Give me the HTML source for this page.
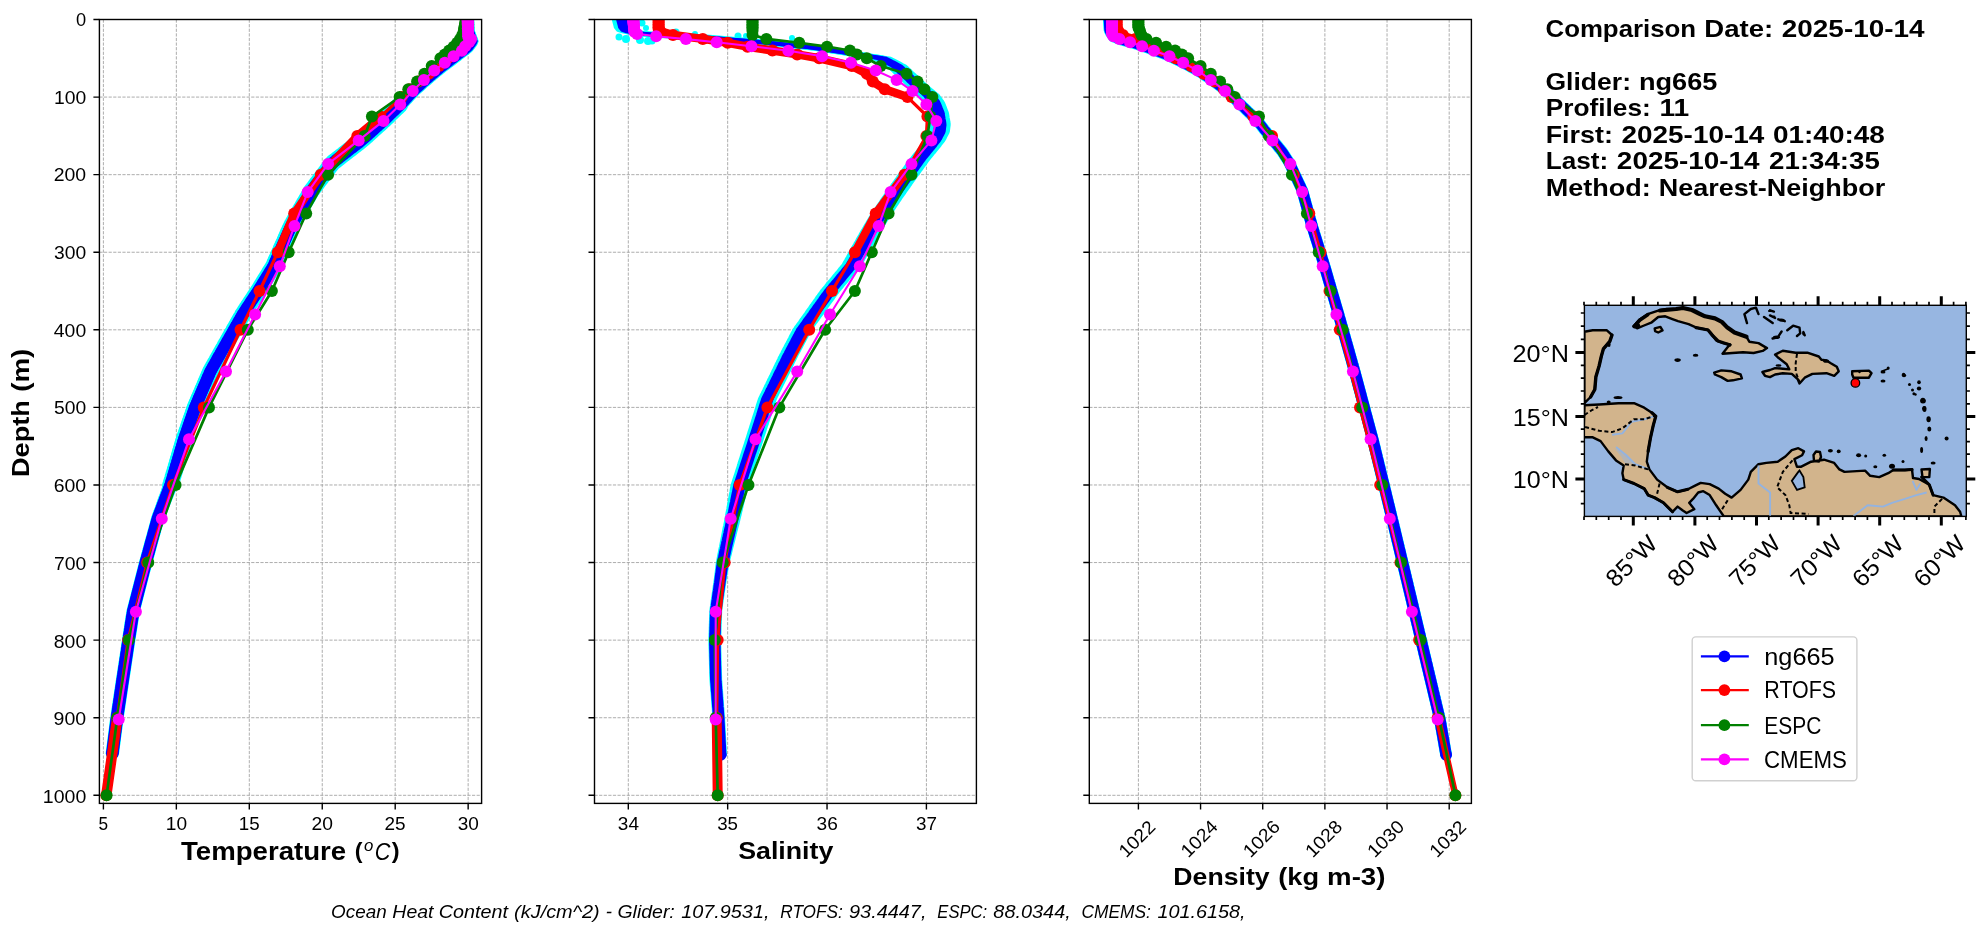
<!DOCTYPE html><html><head><meta charset="utf-8"><title>Glider comparison</title><style>html,body{margin:0;padding:0;background:#fff;overflow:hidden}svg{display:block;will-change:transform}</style></head><body>
<svg width="1983" height="934" viewBox="0 0 1983 934" font-family="'Liberation Sans', sans-serif" fill="#000">
<rect width="1983" height="934" fill="#fff"/>
<defs>
<clipPath id="c0"><rect x="99.4" y="19.5" width="382.2" height="783.9"/></clipPath>
<clipPath id="c1"><rect x="594.5" y="19.5" width="381.9" height="783.9"/></clipPath>
<clipPath id="c2"><rect x="1089.3" y="19.5" width="382.1" height="783.9"/></clipPath>
</defs>
<path d="M99.4 19.50H481.6 M99.4 97.08H481.6 M99.4 174.66H481.6 M99.4 252.24H481.6 M99.4 329.82H481.6 M99.4 407.40H481.6 M99.4 484.98H481.6 M99.4 562.56H481.6 M99.4 640.14H481.6 M99.4 717.72H481.6 M99.4 795.30H481.6 M103.40 19.5V803.4 M176.35 19.5V803.4 M249.30 19.5V803.4 M322.25 19.5V803.4 M395.20 19.5V803.4 M468.15 19.5V803.4" stroke="#a0a0a0" stroke-width="0.87" stroke-dasharray="3.2 1.4" fill="none"/>
<g clip-path="url(#c0)" stroke-linejoin="round" stroke-linecap="round" fill="none">
<path d="M461.6 19.5 L461.7 21.1 L461.8 22.6 L461.9 24.2 L461.9 25.7 L462.0 27.3 L462.1 28.8 L462.2 30.4 L462.5 31.9 L463.0 33.5 L463.6 35.0 L464.1 36.6 L464.7 38.1 L465.3 39.7 L465.9 41.2 L464.7 42.8 L463.6 44.3 L462.5 45.9 L460.9 47.4 L458.9 49.0 L456.8 50.5 L454.8 52.1 L452.7 53.6 L450.7 55.2 L448.6 56.7 L446.6 58.3 L444.6 59.8 L442.5 61.4 L440.5 62.9 L438.4 64.5 L436.4 66.0 L434.3 67.6 L432.3 69.2 L430.4 70.7 L428.5 72.3 L426.7 73.8 L424.9 75.4 L423.1 76.9 L421.3 78.5 L419.5 80.0 L417.7 81.6 L416.0 83.1 L414.3 84.7 L412.6 86.2 L410.8 87.8 L409.1 89.3 L407.5 90.9 L406.1 92.4 L404.6 94.0 L403.2 95.5 L401.7 97.1 L400.2 98.6 L398.7 100.2 L397.1 101.7 L395.6 103.3 L393.9 104.8 L392.2 106.4 L390.5 107.9 L388.8 109.5 L387.1 111.0 L385.4 112.6 L383.7 114.1 L382.0 115.7 L380.3 117.3 L378.6 118.8 L376.8 120.4 L375.1 121.9 L373.4 123.5 L371.7 125.0 L370.0 126.6 L368.3 128.1 L366.5 129.7 L364.8 131.2 L363.1 132.8 L361.4 134.3 L359.7 135.9 L357.9 137.4 L356.2 139.0 L354.4 140.5 L352.4 142.1 L350.4 143.6 L348.4 145.2 L346.4 146.7 L344.4 148.3 L342.4 149.8 L340.4 151.4 L338.4 152.9 L336.4 154.5 L334.4 156.0 L332.4 157.6 L330.4 159.1 L328.5 160.7 L326.5 162.2 L324.9 163.8 L323.7 165.4 L322.5 166.9 L321.3 168.5 L320.2 170.0 L319.0 171.6 L317.8 173.1 L316.6 174.7 L315.5 176.2 L314.3 177.8 L313.1 179.3 L311.9 180.9 L310.8 182.4 L309.6 184.0 L308.4 185.5 L307.2 187.1 L306.1 188.6 L304.9 190.2 L303.9 191.7 L303.0 193.3 L302.1 194.8 L301.2 196.4 L300.3 197.9 L299.4 199.5 L298.5 201.0 L297.6 202.6 L296.7 204.1 L295.8 205.7 L294.9 207.2 L294.0 208.8 L293.1 210.3 L292.2 211.9 L291.3 213.5 L290.4 215.0 L289.5 216.6 L288.6 218.1 L287.7 219.7 L286.8 221.2 L286.0 222.8 L285.1 224.3 L284.3 225.9 L283.6 227.4 L282.9 229.0 L282.2 230.5 L281.5 232.1 L280.8 233.6 L280.1 235.2 L279.4 236.7 L278.8 238.3 L278.1 239.8 L277.4 241.4 L276.7 242.9 L276.0 244.5 L275.3 246.0 L274.6 247.6 L273.9 249.1 L273.3 250.7 L272.6 252.2 L271.9 253.8 L271.2 255.3 L270.5 256.9 L269.8 258.4 L269.1 260.0 L268.4 261.5 L267.7 263.1 L267.1 264.7 L266.4 266.2 L265.4 267.8 L264.5 269.3 L263.5 270.9 L262.5 272.4 L261.6 274.0 L260.6 275.5 L259.7 277.1 L258.7 278.6 L257.8 280.2 L256.8 281.7 L255.8 283.3 L254.9 284.8 L253.9 286.4 L253.0 287.9 L252.0 289.5 L251.1 291.0 L250.0 292.6 L249.0 294.1 L248.0 295.7 L247.0 297.2 L245.9 298.8 L244.9 300.3 L243.9 301.9 L242.9 303.4 L241.9 305.0 L240.8 306.5 L239.8 308.1 L238.8 309.6 L237.8 311.2 L236.8 312.8 L235.7 314.3 L234.9 315.9 L234.0 317.4 L233.1 319.0 L232.2 320.5 L231.3 322.1 L230.5 323.6 L229.6 325.2 L228.7 326.7 L227.8 328.3 L226.9 329.8 L226.1 331.4 L225.2 332.9 L224.3 334.5 L223.4 336.0 L222.5 337.6 L221.7 339.1 L220.8 340.7 L219.9 342.2 L219.0 343.8 L218.1 345.3 L217.3 346.9 L216.4 348.4 L215.5 350.0 L214.6 351.5 L213.7 353.1 L212.9 354.6 L212.0 356.2 L211.1 357.7 L210.2 359.3 L209.4 360.9 L208.5 362.4 L207.6 364.0 L206.7 365.5 L205.8 367.1 L205.0 368.6 L204.1 370.2 L203.3 371.7 L202.6 373.3 L202.0 374.8 L201.3 376.4 L200.6 377.9 L200.0 379.5 L199.3 381.0 L198.7 382.6 L198.0 384.1 L197.3 385.7 L196.7 387.2 L196.0 388.8 L195.3 390.3 L194.7 391.9 L194.0 393.4 L193.3 395.0 L192.7 396.5 L192.0 398.1 L191.3 399.6 L190.7 401.2 L190.0 402.7 L189.4 404.3 L188.7 405.8 L188.0 407.4 L187.5 409.0 L187.0 410.5 L186.4 412.1 L185.9 413.6 L185.4 415.2 L184.8 416.7 L184.3 418.3 L183.8 419.8 L183.2 421.4 L182.7 422.9 L182.2 424.5 L181.6 426.0 L181.1 427.6 L180.6 429.1 L180.0 430.7 L179.5 432.2 L179.0 433.8 L178.4 435.3 L177.9 436.9 L177.3 438.4 L176.9 440.0 L176.4 441.5 L175.9 443.1 L175.5 444.6 L175.0 446.2 L174.6 447.7 L174.2 449.3 L173.7 450.8 L173.3 452.4 L172.9 453.9 L172.5 455.5 L172.0 457.1 L171.6 458.6 L171.2 460.2 L170.8 461.7 L170.3 463.3 L169.9 464.8 L169.5 466.4 L169.1 467.9 L168.6 469.5 L168.2 471.0 L167.8 472.6 L167.4 474.1 L166.9 475.7 L166.5 477.2 L166.1 478.8 L165.7 480.3 L165.2 481.9 L164.8 483.4 L164.4 485.0 L163.8 486.5 L163.3 488.1 L162.7 489.6 L162.2 491.2 L161.6 492.7 L161.1 494.3 L160.5 495.8 L159.9 497.4 L159.4 498.9 L158.8 500.5 L158.3 502.0 L157.7 503.6 L157.2 505.2 L156.6 506.7 L156.1 508.3 L155.5 509.8 L154.9 511.4 L154.4 512.9 L153.8 514.5 L153.3 516.0 L152.7 517.6 L152.3 519.1 L151.9 520.7 L151.5 522.2 L151.2 523.8 L150.7 525.3 L150.3 526.9 L149.9 528.4 L149.4 530.0 L149.0 531.5 L148.6 533.1 L148.2 534.6 L147.7 536.2 L147.3 537.7 L146.9 539.3 L146.4 540.8 L146.0 542.4 L145.6 543.9 L145.2 545.5 L144.7 547.0 L144.3 548.6 L143.9 550.1 L143.5 551.7 L143.0 553.3 L142.6 554.8 L142.2 556.4 L141.7 557.9 L141.3 559.5 L140.9 561.0 L140.5 562.6 L140.1 564.1 L139.7 565.7 L139.3 567.2 L138.9 568.8 L138.5 570.3 L138.1 571.9 L137.7 573.4 L137.3 575.0 L136.9 576.5 L136.5 578.1 L136.1 579.6 L135.7 581.2 L135.3 582.7 L134.9 584.3 L134.5 585.8 L134.1 587.4 L133.7 588.9 L133.3 590.5 L132.9 592.0 L132.5 593.6 L132.1 595.1 L131.7 596.7 L131.3 598.2 L130.9 599.8 L130.5 601.4 L130.1 602.9 L129.7 604.5 L129.3 606.0 L128.9 607.6 L128.5 609.1 L128.1 610.7 L127.8 612.2 L127.6 613.8 L127.3 615.3 L127.1 616.9 L126.8 618.4 L126.6 620.0 L126.3 621.5 L126.1 623.1 L125.8 624.6 L125.6 626.2 L125.4 627.7 L125.1 629.3 L124.9 630.8 L124.6 632.4 L124.4 633.9 L124.1 635.5 L123.9 637.0 L123.6 638.6 L123.4 640.1 L123.2 641.7 L122.9 643.2 L122.7 644.8 L122.5 646.3 L122.2 647.9 L122.0 649.4 L121.8 651.0 L121.5 652.6 L121.3 654.1 L121.1 655.7 L120.8 657.2 L120.6 658.8 L120.4 660.3 L120.1 661.9 L119.9 663.4 L119.7 665.0 L119.4 666.5 L119.2 668.1 L119.0 669.6 L118.7 671.2 L118.5 672.7 L118.3 674.3 L118.0 675.8 L117.8 677.4 L117.6 678.9 L117.3 680.5 L117.1 682.0 L116.9 683.6 L116.6 685.1 L116.4 686.7 L116.2 688.2 L115.9 689.8 L115.7 691.3 L115.5 692.9 L115.2 694.4 L115.0 696.0 L114.8 697.5 L114.5 699.1 L114.3 700.7 L114.1 702.2 L113.8 703.8 L113.6 705.3 L113.4 706.9 L113.1 708.4 L112.9 710.0 L112.7 711.5 L112.4 713.1 L112.2 714.6 L112.0 716.2 L111.7 717.7 L111.5 719.3 L111.3 720.8 L111.1 722.4 L110.9 723.9 L110.7 725.5 L110.5 727.0 L110.3 728.6 L110.1 730.1 L109.9 731.7 L109.7 733.2 L109.5 734.8 L109.3 736.3 L109.1 737.9 L108.9 739.4 L108.7 741.0 L108.5 742.5 L108.3 744.1 L108.1 745.6 L107.9 747.2 L107.7 748.8 L107.5 750.3 L107.3 751.9 L107.1 753.4 L117.6 753.4 L117.8 751.9 L118.0 750.3 L118.2 748.8 L118.4 747.2 L118.6 745.6 L118.8 744.1 L119.0 742.5 L119.2 741.0 L119.4 739.4 L119.6 737.9 L119.8 736.3 L120.0 734.8 L120.2 733.2 L120.4 731.7 L120.6 730.1 L120.8 728.6 L121.0 727.0 L121.2 725.5 L121.4 723.9 L121.6 722.4 L121.8 720.8 L122.0 719.3 L122.2 717.7 L122.5 716.2 L122.7 714.6 L122.9 713.1 L123.2 711.5 L123.4 710.0 L123.6 708.4 L123.9 706.9 L124.1 705.3 L124.3 703.8 L124.6 702.2 L124.8 700.7 L125.0 699.1 L125.3 697.5 L125.5 696.0 L125.7 694.4 L126.0 692.9 L126.2 691.3 L126.4 689.8 L126.7 688.2 L126.9 686.7 L127.1 685.1 L127.4 683.6 L127.6 682.0 L127.8 680.5 L128.1 678.9 L128.3 677.4 L128.5 675.8 L128.8 674.3 L129.0 672.7 L129.2 671.2 L129.5 669.6 L129.7 668.1 L129.9 666.5 L130.2 665.0 L130.4 663.4 L130.6 661.9 L130.9 660.3 L131.1 658.8 L131.3 657.2 L131.6 655.7 L131.8 654.1 L132.0 652.6 L132.3 651.0 L132.5 649.4 L132.7 647.9 L133.0 646.3 L133.2 644.8 L133.4 643.2 L133.7 641.7 L133.9 640.1 L134.1 638.6 L134.4 637.0 L134.6 635.5 L134.9 633.9 L135.1 632.4 L135.4 630.8 L135.6 629.3 L135.9 627.7 L136.1 626.2 L136.3 624.6 L136.6 623.1 L136.8 621.5 L137.1 620.0 L137.3 618.4 L137.6 616.9 L137.8 615.3 L138.1 613.8 L138.3 612.2 L138.6 610.7 L139.0 609.1 L139.4 607.6 L139.8 606.0 L140.2 604.5 L140.6 602.9 L141.0 601.4 L141.4 599.8 L141.8 598.2 L142.2 596.7 L142.6 595.1 L143.0 593.6 L143.4 592.0 L143.8 590.5 L144.2 588.9 L144.6 587.4 L145.0 585.8 L145.4 584.3 L145.8 582.7 L146.2 581.2 L146.6 579.6 L147.0 578.1 L147.4 576.5 L147.8 575.0 L148.2 573.4 L148.6 571.9 L149.0 570.3 L149.4 568.8 L149.8 567.2 L150.2 565.7 L150.6 564.1 L151.0 562.6 L151.4 561.0 L151.8 559.5 L152.2 557.9 L152.7 556.4 L153.1 554.8 L153.5 553.3 L154.0 551.7 L154.4 550.1 L154.8 548.6 L155.2 547.0 L155.7 545.5 L156.1 543.9 L156.5 542.4 L156.9 540.8 L157.4 539.3 L157.8 537.7 L158.2 536.2 L158.7 534.6 L159.1 533.1 L159.5 531.5 L159.9 530.0 L160.4 528.4 L160.8 526.9 L161.2 525.3 L161.7 523.8 L162.1 522.2 L162.6 520.7 L163.0 519.1 L163.5 517.6 L164.1 516.0 L164.8 514.5 L165.4 512.9 L166.0 511.4 L166.6 509.8 L167.3 508.3 L167.9 506.7 L168.5 505.2 L169.1 503.6 L169.8 502.0 L170.4 500.5 L171.0 498.9 L171.6 497.4 L172.3 495.8 L172.9 494.3 L173.5 492.7 L174.1 491.2 L174.8 489.6 L175.4 488.1 L176.0 486.5 L176.6 485.0 L177.1 483.4 L177.6 481.9 L178.1 480.3 L178.6 478.8 L179.1 477.2 L179.6 475.7 L180.1 474.1 L180.6 472.6 L181.1 471.0 L181.6 469.5 L182.1 467.9 L182.6 466.4 L183.1 464.8 L183.6 463.3 L184.1 461.7 L184.6 460.2 L185.1 458.6 L185.5 457.1 L186.0 455.5 L186.5 453.9 L187.0 452.4 L187.5 450.8 L188.0 449.3 L188.5 447.7 L189.0 446.2 L189.5 444.6 L189.9 443.1 L190.4 441.5 L190.9 440.0 L191.3 438.4 L191.9 436.9 L192.4 435.3 L193.0 433.8 L193.5 432.2 L194.0 430.7 L194.6 429.1 L195.1 427.6 L195.6 426.0 L196.2 424.5 L196.7 422.9 L197.2 421.4 L197.8 419.8 L198.3 418.3 L198.8 416.7 L199.4 415.2 L199.9 413.6 L200.4 412.1 L201.0 410.5 L201.5 409.0 L202.0 407.4 L202.7 405.8 L203.4 404.3 L204.0 402.7 L204.7 401.2 L205.3 399.6 L206.0 398.1 L206.7 396.5 L207.3 395.0 L208.0 393.4 L208.7 391.9 L209.3 390.3 L210.0 388.8 L210.7 387.2 L211.3 385.7 L212.0 384.1 L212.7 382.6 L213.3 381.0 L214.0 379.5 L214.6 377.9 L215.3 376.4 L216.0 374.8 L216.6 373.3 L217.3 371.7 L218.1 370.2 L219.0 368.6 L219.8 367.1 L220.7 365.5 L221.6 364.0 L222.5 362.4 L223.4 360.9 L224.2 359.3 L225.1 357.7 L226.0 356.2 L226.9 354.6 L227.7 353.1 L228.6 351.5 L229.5 350.0 L230.4 348.4 L231.3 346.9 L232.1 345.3 L233.0 343.8 L233.9 342.2 L234.8 340.7 L235.7 339.1 L236.5 337.6 L237.4 336.0 L238.3 334.5 L239.2 332.9 L240.1 331.4 L240.9 329.8 L241.8 328.3 L242.7 326.7 L243.6 325.2 L244.5 323.6 L245.3 322.1 L246.2 320.5 L247.1 319.0 L248.0 317.4 L248.9 315.9 L249.7 314.3 L250.8 312.8 L251.8 311.2 L252.8 309.6 L253.8 308.1 L254.8 306.5 L255.9 305.0 L256.9 303.4 L257.9 301.9 L258.9 300.3 L259.9 298.8 L261.0 297.2 L262.0 295.7 L263.0 294.1 L264.0 292.6 L265.1 291.0 L266.0 289.5 L267.0 287.9 L267.9 286.4 L268.9 284.8 L269.8 283.3 L270.8 281.7 L271.8 280.2 L272.7 278.6 L273.7 277.1 L274.6 275.5 L275.6 274.0 L276.5 272.4 L277.5 270.9 L278.5 269.3 L279.4 267.8 L280.4 266.2 L281.1 264.7 L281.7 263.1 L282.4 261.5 L283.1 260.0 L283.8 258.4 L284.5 256.9 L285.2 255.3 L285.9 253.8 L286.6 252.2 L287.3 250.7 L287.9 249.1 L288.6 247.6 L289.3 246.0 L290.0 244.5 L290.7 242.9 L291.4 241.4 L292.1 239.8 L292.8 238.3 L293.4 236.7 L294.1 235.2 L294.8 233.6 L295.5 232.1 L296.2 230.5 L296.9 229.0 L297.6 227.4 L298.3 225.9 L299.1 224.3 L300.0 222.8 L300.8 221.2 L301.7 219.7 L302.6 218.1 L303.5 216.6 L304.4 215.0 L305.3 213.5 L306.2 211.9 L307.1 210.3 L308.0 208.8 L308.9 207.2 L309.8 205.7 L310.7 204.1 L311.6 202.6 L312.5 201.0 L313.4 199.5 L314.3 197.9 L315.2 196.4 L316.1 194.8 L317.0 193.3 L317.9 191.7 L318.9 190.2 L320.1 188.6 L321.2 187.1 L322.4 185.5 L323.6 184.0 L324.8 182.4 L325.9 180.9 L327.1 179.3 L328.3 177.8 L329.5 176.2 L330.6 174.7 L331.8 173.1 L333.0 171.6 L334.2 170.0 L335.3 168.5 L336.5 166.9 L337.7 165.4 L338.9 163.8 L340.5 162.2 L342.5 160.7 L344.4 159.1 L346.4 157.6 L348.4 156.0 L350.4 154.5 L352.4 152.9 L354.4 151.4 L356.4 149.8 L358.4 148.3 L360.4 146.7 L362.4 145.2 L364.4 143.6 L366.4 142.1 L368.4 140.5 L370.2 139.0 L371.9 137.4 L373.7 135.9 L375.4 134.3 L377.1 132.8 L378.8 131.2 L380.5 129.7 L382.3 128.1 L384.0 126.6 L385.7 125.0 L387.4 123.5 L389.1 121.9 L390.8 120.4 L392.4 118.8 L393.9 117.3 L395.4 115.7 L396.9 114.1 L398.4 112.6 L399.9 111.0 L401.4 109.5 L402.9 107.9 L404.4 106.4 L405.9 104.8 L407.4 103.3 L408.7 101.7 L410.1 100.2 L411.4 98.6 L412.7 97.1 L414.2 95.5 L415.6 94.0 L417.1 92.4 L418.5 90.9 L420.1 89.3 L421.8 87.8 L423.6 86.2 L425.3 84.7 L427.0 83.1 L428.7 81.6 L430.5 80.0 L432.3 78.5 L434.1 76.9 L435.9 75.4 L437.7 73.8 L439.5 72.3 L441.4 70.7 L443.3 69.2 L445.3 67.6 L447.4 66.0 L449.4 64.5 L451.5 62.9 L453.5 61.4 L455.6 59.8 L457.6 58.3 L459.6 56.7 L461.7 55.2 L463.7 53.6 L465.8 52.1 L467.8 50.5 L469.9 49.0 L471.9 47.4 L473.5 45.9 L474.6 44.3 L475.7 42.8 L476.9 41.2 L476.3 39.7 L475.7 38.1 L475.1 36.6 L474.6 35.0 L474.0 33.5 L473.5 31.9 L473.2 30.4 L473.1 28.8 L473.0 27.3 L472.9 25.7 L472.9 24.2 L472.8 22.6 L472.7 21.1 L472.6 19.5Z" fill="#00ffff" stroke="#00ffff" stroke-width="3"/>
<path d="M467.1 19.5 L467.2 21.1 L467.3 22.6 L467.4 24.2 L467.4 25.7 L467.5 27.3 L467.6 28.8 L467.7 30.4 L468.0 31.9 L468.5 33.5 L469.1 35.0 L469.6 36.6 L470.2 38.1 L470.8 39.7 L471.4 41.2 L470.2 42.8 L469.1 44.3 L468.0 45.9 L466.4 47.4 L464.4 49.0 L462.3 50.5 L460.3 52.1 L458.2 53.6 L456.2 55.2 L454.1 56.7 L452.1 58.3 L450.1 59.8 L448.0 61.4 L446.0 62.9 L443.9 64.5 L441.9 66.0 L439.8 67.6 L437.8 69.2 L435.9 70.7 L434.0 72.3 L432.2 73.8 L430.4 75.4 L428.6 76.9 L426.8 78.5 L425.0 80.0 L423.2 81.6 L421.5 83.1 L419.8 84.7 L418.1 86.2 L416.3 87.8 L414.6 89.3 L413.0 90.9 L411.6 92.4 L410.1 94.0 L408.7 95.5 L407.2 97.1 L405.8 98.6 L404.4 100.2 L402.9 101.7 L401.5 103.3 L399.9 104.8" stroke="#00ffff" stroke-width="14"/>
<path d="M399.9 104.8 L398.3 106.4 L396.7 107.9 L395.1 109.5 L393.5 111.0 L391.9 112.6 L390.3 114.1 L388.7 115.7 L387.1 117.3 L385.5 118.8 L383.8 120.4 L382.1 121.9 L380.4 123.5 L378.7 125.0 L377.0 126.6 L375.3 128.1 L373.5 129.7 L371.8 131.2 L370.1 132.8 L368.4 134.3 L366.7 135.9 L364.9 137.4 L363.2 139.0 L361.4 140.5 L359.4 142.1 L357.4 143.6 L355.4 145.2 L353.4 146.7 L351.4 148.3 L349.4 149.8 L347.4 151.4 L345.4 152.9 L343.4 154.5 L341.4 156.0 L339.4 157.6 L337.4 159.1 L335.5 160.7 L333.5 162.2 L331.9 163.8 L330.7 165.4 L329.5 166.9 L328.3 168.5 L327.2 170.0 L326.0 171.6 L324.8 173.1 L323.6 174.7 L322.5 176.2 L321.3 177.8 L320.1 179.3 L318.9 180.9 L317.8 182.4 L316.6 184.0 L315.4 185.5 L314.2 187.1 L313.1 188.6 L311.9 190.2 L310.9 191.7 L310.0 193.3 L309.1 194.8 L308.2 196.4 L307.3 197.9 L306.4 199.5 L305.5 201.0 L304.6 202.6 L303.7 204.1 L302.8 205.7 L301.9 207.2 L301.0 208.8 L300.1 210.3 L299.2 211.9 L298.3 213.5 L297.4 215.0 L296.5 216.6 L295.6 218.1 L294.7 219.7 L293.8 221.2 L293.0 222.8 L292.1 224.3 L291.3 225.9 L290.6 227.4 L289.9 229.0 L289.2 230.5 L288.5 232.1 L287.8 233.6 L287.1 235.2 L286.4 236.7 L285.8 238.3 L285.1 239.8 L284.4 241.4 L283.7 242.9 L283.0 244.5 L282.3 246.0 L281.6 247.6 L280.9 249.1 L280.3 250.7 L279.6 252.2 L278.9 253.8 L278.2 255.3 L277.5 256.9 L276.8 258.4 L276.1 260.0 L275.4 261.5 L274.7 263.1 L274.1 264.7 L273.4 266.2 L272.4 267.8 L271.5 269.3 L270.5 270.9 L269.5 272.4 L268.6 274.0 L267.6 275.5 L266.7 277.1 L265.7 278.6 L264.8 280.2 L263.8 281.7 L262.8 283.3 L261.9 284.8 L260.9 286.4 L260.0 287.9 L259.0 289.5 L258.1 291.0 L257.0 292.6 L256.0 294.1 L255.0 295.7 L254.0 297.2 L252.9 298.8 L251.9 300.3 L250.9 301.9 L249.9 303.4 L248.9 305.0 L247.8 306.5 L246.8 308.1 L245.8 309.6 L244.8 311.2 L243.8 312.8 L242.7 314.3 L241.9 315.9 L241.0 317.4 L240.1 319.0 L239.2 320.5 L238.3 322.1 L237.5 323.6 L236.6 325.2 L235.7 326.7 L234.8 328.3 L233.9 329.8 L233.1 331.4 L232.2 332.9 L231.3 334.5 L230.4 336.0 L229.5 337.6 L228.7 339.1 L227.8 340.7 L226.9 342.2 L226.0 343.8 L225.1 345.3 L224.3 346.9 L223.4 348.4 L222.5 350.0 L221.6 351.5 L220.7 353.1 L219.9 354.6 L219.0 356.2 L218.1 357.7 L217.2 359.3 L216.4 360.9 L215.5 362.4 L214.6 364.0 L213.7 365.5 L212.8 367.1 L212.0 368.6 L211.1 370.2 L210.3 371.7 L209.6 373.3 L209.0 374.8 L208.3 376.4 L207.6 377.9 L207.0 379.5 L206.3 381.0 L205.7 382.6 L205.0 384.1 L204.3 385.7 L203.7 387.2 L203.0 388.8 L202.3 390.3 L201.7 391.9 L201.0 393.4 L200.3 395.0 L199.7 396.5 L199.0 398.1 L198.3 399.6 L197.7 401.2 L197.0 402.7 L196.4 404.3 L195.7 405.8 L195.0 407.4 L194.5 409.0 L194.0 410.5 L193.4 412.1 L192.9 413.6 L192.4 415.2 L191.8 416.7 L191.3 418.3 L190.8 419.8 L190.2 421.4 L189.7 422.9 L189.2 424.5 L188.6 426.0 L188.1 427.6 L187.6 429.1 L187.0 430.7 L186.5 432.2 L186.0 433.8 L185.4 435.3 L184.9 436.9 L184.3 438.4 L183.9 440.0 L183.4 441.5 L182.9 443.1 L182.5 444.6 L182.0 446.2 L181.6 447.7 L181.1 449.3 L180.6 450.8 L180.2 452.4 L179.7 453.9 L179.3 455.5 L178.8 457.1 L178.3 458.6 L177.9 460.2 L177.4 461.7 L177.0 463.3 L176.5 464.8 L176.0 466.4 L175.6 467.9 L175.1 469.5 L174.7 471.0 L174.2 472.6 L173.7 474.1 L173.3 475.7 L172.8 477.2 L172.4 478.8 L171.9 480.3 L171.4 481.9 L171.0 483.4 L170.5 485.0" stroke="#00ffff" stroke-width="16.5"/>
<path d="M170.5 485.0 L169.9 486.5 L169.3 488.1 L168.7 489.6 L168.2 491.2 L167.6 492.7 L167.0 494.3 L166.4 495.8 L165.8 497.4 L165.2 498.9 L164.6 500.5 L164.0 502.0 L163.4 503.6 L162.8 505.2 L162.2 506.7 L161.7 508.3 L161.1 509.8 L160.5 511.4 L159.9 512.9 L159.3 514.5 L158.7 516.0 L158.1 517.6 L157.7 519.1 L157.3 520.7 L156.8 522.2 L156.4 523.8 L156.0 525.3 L155.5 526.9 L155.1 528.4 L154.7 530.0 L154.3 531.5 L153.8 533.1 L153.4 534.6 L153.0 536.2 L152.6 537.7 L152.1 539.3 L151.7 540.8 L151.3 542.4 L150.8 543.9 L150.4 545.5 L150.0 547.0 L149.6 548.6 L149.1 550.1 L148.7 551.7 L148.3 553.3 L147.8 554.8 L147.4 556.4 L147.0 557.9 L146.6 559.5 L146.1 561.0 L145.7 562.6 L145.3 564.1 L144.9 565.7 L144.5 567.2 L144.1 568.8 L143.7 570.3 L143.3 571.9 L142.9 573.4 L142.5 575.0 L142.1 576.5 L141.7 578.1 L141.3 579.6 L140.9 581.2 L140.5 582.7 L140.1 584.3 L139.7 585.8 L139.3 587.4 L138.9 588.9 L138.5 590.5 L138.1 592.0 L137.7 593.6 L137.3 595.1 L136.9 596.7 L136.5 598.2 L136.1 599.8 L135.7 601.4 L135.3 602.9 L134.9 604.5 L134.5 606.0 L134.1 607.6 L133.7 609.1 L133.3 610.7 L133.1 612.2 L132.8 613.8 L132.6 615.3 L132.3 616.9 L132.1 618.4 L131.8 620.0 L131.6 621.5 L131.3 623.1 L131.1 624.6 L130.9 626.2 L130.6 627.7 L130.4 629.3 L130.1 630.8 L129.9 632.4 L129.6 633.9 L129.4 635.5 L129.1 637.0 L128.9 638.6 L128.6 640.1 L128.4 641.7 L128.2 643.2 L127.9 644.8 L127.7 646.3 L127.5 647.9 L127.2 649.4 L127.0 651.0 L126.8 652.6 L126.5 654.1 L126.3 655.7 L126.1 657.2 L125.8 658.8 L125.6 660.3 L125.4 661.9 L125.1 663.4 L124.9 665.0 L124.7 666.5 L124.4 668.1 L124.2 669.6 L124.0 671.2 L123.7 672.7 L123.5 674.3 L123.3 675.8 L123.0 677.4 L122.8 678.9 L122.6 680.5 L122.3 682.0 L122.1 683.6 L121.9 685.1 L121.6 686.7 L121.4 688.2 L121.2 689.8 L120.9 691.3 L120.7 692.9 L120.5 694.4 L120.2 696.0 L120.0 697.5 L119.8 699.1 L119.5 700.7 L119.3 702.2 L119.1 703.8 L118.8 705.3 L118.6 706.9 L118.4 708.4 L118.1 710.0 L117.9 711.5 L117.7 713.1 L117.4 714.6 L117.2 716.2 L117.0 717.7 L116.8 719.3 L116.6 720.8 L116.4 722.4 L116.2 723.9 L116.0 725.5 L115.8 727.0 L115.6 728.6 L115.4 730.1 L115.2 731.7 L115.0 733.2 L114.8 734.8 L114.6 736.3 L114.4 737.9 L114.2 739.4 L114.0 741.0 L113.8 742.5 L113.6 744.1 L113.4 745.6 L113.2 747.2 L113.0 748.8 L112.8 750.3 L112.6 751.9 L112.4 753.4" stroke="#00ffff" stroke-width="13"/>
<path d="M462.4 19.5 L462.5 21.1 L462.5 22.6 L462.6 24.2 L462.7 25.7 L462.8 27.3 L462.8 28.8 L462.9 30.4 L463.2 31.9 L463.8 33.5 L464.3 35.0 L464.9 36.6 L465.4 38.1 L466.0 39.7 L466.6 41.2 L465.5 42.8 L464.4 44.3 L463.2 45.9 L461.6 47.4 L459.6 49.0 L457.6 50.5 L455.5 52.1 L453.5 53.6 L451.4 55.2 L449.4 56.7 L447.4 58.3 L445.3 59.8 L443.3 61.4 L441.2 62.9 L439.2 64.5 L437.1 66.0 L435.1 67.6 L433.1 69.2 L431.1 70.7 L429.3 72.3 L427.5 73.8 L425.6 75.4 L423.8 76.9 L422.0 78.5 L420.2 80.0 L418.5 81.6 L416.8 83.1 L415.0 84.7 L413.3 86.2 L411.6 87.8 L409.8 89.3 L408.3 90.9 L406.8 92.4 L405.4 94.0 L403.9 95.5 L402.5 97.1 L401.0 98.6 L399.6 100.2 L398.2 101.7 L396.7 103.3 L395.2 104.8 L393.6 106.4 L392.0 107.9 L390.4 109.5 L388.8 111.0 L387.2 112.6 L385.6 114.1 L384.0 115.7 L382.4 117.3 L380.7 118.8 L379.1 120.4 L377.4 121.9 L375.7 123.5 L373.9 125.0 L372.2 126.6 L370.5 128.1 L368.8 129.7 L367.1 131.2 L365.3 132.8 L363.6 134.3 L361.9 135.9 L360.2 137.4 L358.5 139.0 L356.6 140.5 L354.6 142.1 L352.6 143.6 L350.6 145.2 L348.6 146.7 L346.7 148.3 L344.7 149.8 L342.7 151.4 L340.7 152.9 L338.7 154.5 L336.7 156.0 L334.7 157.6 L332.7 159.1 L330.7 160.7 L328.7 162.2 L327.1 163.8 L326.0 165.4 L324.8 166.9 L323.6 168.5 L322.4 170.0 L321.2 171.6 L320.1 173.1 L318.9 174.7 L317.7 176.2 L316.5 177.8 L315.4 179.3 L314.2 180.9 L313.0 182.4 L311.8 184.0 L310.7 185.5 L309.5 187.1 L308.3 188.6 L307.1 190.2 L306.1 191.7 L305.2 193.3 L304.3 194.8 L303.4 196.4 L302.5 197.9 L301.6 199.5 L300.7 201.0 L299.8 202.6 L298.9 204.1 L298.1 205.7 L297.2 207.2 L296.3 208.8 L295.4 210.3 L294.5 211.9 L293.6 213.5 L292.7 215.0 L291.8 216.6 L290.9 218.1 L290.0 219.7 L289.1 221.2 L288.2 222.8 L287.3 224.3 L286.5 225.9 L285.8 227.4 L285.1 229.0 L284.5 230.5 L283.8 232.1 L283.1 233.6 L282.4 235.2 L281.7 236.7 L281.0 238.3 L280.3 239.8 L279.6 241.4 L278.9 242.9 L278.3 244.5 L277.6 246.0 L276.9 247.6 L276.2 249.1 L275.5 250.7 L274.8 252.2 L274.1 253.8 L273.4 255.3 L272.8 256.9 L272.1 258.4 L271.4 260.0 L270.7 261.5 L270.0 263.1 L269.3 264.7 L268.6 266.2 L267.7 267.8 L266.7 269.3 L265.8 270.9 L264.8 272.4 L263.8 274.0 L262.9 275.5 L261.9 277.1 L261.0 278.6 L260.0 280.2 L259.0 281.7 L258.1 283.3 L257.1 284.8 L256.2 286.4 L255.2 287.9 L254.3 289.5 L253.3 291.0 L252.3 292.6 L251.3 294.1 L250.2 295.7 L249.2 297.2 L248.2 298.8 L247.2 300.3 L246.2 301.9 L245.1 303.4 L244.1 305.0 L243.1 306.5 L242.1 308.1 L241.0 309.6 L240.0 311.2 L239.0 312.8 L238.0 314.3 L237.1 315.9 L236.2 317.4 L235.3 319.0 L234.5 320.5 L233.6 322.1 L232.7 323.6 L231.8 325.2 L230.9 326.7 L230.1 328.3 L229.2 329.8 L228.3 331.4 L227.4 332.9 L226.6 334.5 L225.7 336.0 L224.8 337.6 L223.9 339.1 L223.0 340.7 L222.2 342.2 L221.3 343.8 L220.4 345.3 L219.5 346.9 L218.6 348.4 L217.8 350.0 L216.9 351.5 L216.0 353.1 L215.1 354.6 L214.2 356.2 L213.4 357.7 L212.5 359.3 L211.6 360.9 L210.7 362.4 L209.8 364.0 L209.0 365.5 L208.1 367.1 L207.2 368.6 L206.3 370.2 L205.6 371.7 L204.9 373.3 L204.2 374.8 L203.6 376.4 L202.9 377.9 L202.2 379.5 L201.6 381.0 L200.9 382.6 L200.2 384.1 L199.6 385.7 L198.9 387.2 L198.2 388.8 L197.6 390.3 L196.9 391.9 L196.3 393.4 L195.6 395.0 L194.9 396.5 L194.3 398.1 L193.6 399.6 L192.9 401.2 L192.3 402.7 L191.6 404.3 L190.9 405.8 L190.3 407.4 L189.7 409.0 L189.2 410.5 L188.7 412.1 L188.1 413.6 L187.6 415.2 L187.1 416.7 L186.5 418.3 L186.0 419.8 L185.5 421.4 L184.9 422.9 L184.4 424.5 L183.9 426.0 L183.3 427.6 L182.8 429.1 L182.3 430.7 L181.7 432.2 L181.2 433.8 L180.7 435.3 L180.1 436.9 L179.6 438.4 L179.1 440.0 L178.6 441.5 L178.2 443.1 L177.7 444.6 L177.3 446.2 L176.8 447.7 L176.3 449.3 L175.9 450.8 L175.4 452.4 L175.0 453.9 L174.5 455.5 L174.0 457.1 L173.6 458.6 L173.1 460.2 L172.7 461.7 L172.2 463.3 L171.7 464.8 L171.3 466.4 L170.8 467.9 L170.4 469.5 L169.9 471.0 L169.4 472.6 L169.0 474.1 L168.5 475.7 L168.1 477.2 L167.6 478.8 L167.1 480.3 L166.7 481.9 L166.2 483.4 L165.8 485.0 L165.2 486.5 L164.6 488.1 L164.0 489.6 L163.4 491.2 L162.8 492.7 L162.2 494.3 L161.6 495.8 L161.0 497.4 L160.4 498.9 L159.9 500.5 L159.3 502.0 L158.7 503.6 L158.1 505.2 L157.5 506.7 L156.9 508.3 L156.3 509.8 L155.7 511.4 L155.1 512.9 L154.5 514.5 L154.0 516.0 L153.4 517.6 L152.9 519.1 L152.5 520.7 L152.1 522.2 L151.7 523.8 L151.2 525.3 L150.8 526.9 L150.4 528.4 L149.9 530.0 L149.5 531.5 L149.1 533.1 L148.7 534.6 L148.2 536.2 L147.8 537.7 L147.4 539.3 L146.9 540.8 L146.5 542.4 L146.1 543.9 L145.7 545.5 L145.2 547.0 L144.8 548.6 L144.4 550.1 L144.0 551.7 L143.5 553.3 L143.1 554.8 L142.7 556.4 L142.2 557.9 L141.8 559.5 L141.4 561.0 L141.0 562.6 L140.6 564.1 L140.2 565.7 L139.8 567.2 L139.4 568.8 L139.0 570.3 L138.6 571.9 L138.2 573.4 L137.8 575.0 L137.4 576.5 L137.0 578.1 L136.6 579.6 L136.2 581.2 L135.8 582.7 L135.4 584.3 L135.0 585.8 L134.6 587.4 L134.2 588.9 L133.8 590.5 L133.4 592.0 L133.0 593.6 L132.6 595.1 L132.2 596.7 L131.8 598.2 L131.4 599.8 L131.0 601.4 L130.6 602.9 L130.2 604.5 L129.8 606.0 L129.4 607.6 L129.0 609.1 L128.6 610.7 L128.3 612.2 L128.1 613.8 L127.8 615.3 L127.6 616.9 L127.3 618.4 L127.1 620.0 L126.8 621.5 L126.6 623.1 L126.3 624.6 L126.1 626.2 L125.9 627.7 L125.6 629.3 L125.4 630.8 L125.1 632.4 L124.9 633.9 L124.6 635.5 L124.4 637.0 L124.1 638.6 L123.9 640.1 L123.7 641.7 L123.4 643.2 L123.2 644.8 L123.0 646.3 L122.7 647.9 L122.5 649.4 L122.3 651.0 L122.0 652.6 L121.8 654.1 L121.6 655.7 L121.3 657.2 L121.1 658.8 L120.9 660.3 L120.6 661.9 L120.4 663.4 L120.2 665.0 L119.9 666.5 L119.7 668.1 L119.5 669.6 L119.2 671.2 L119.0 672.7 L118.8 674.3 L118.5 675.8 L118.3 677.4 L118.1 678.9 L117.8 680.5 L117.6 682.0 L117.4 683.6 L117.1 685.1 L116.9 686.7 L116.7 688.2 L116.4 689.8 L116.2 691.3 L116.0 692.9 L115.7 694.4 L115.5 696.0 L115.3 697.5 L115.0 699.1 L114.8 700.7 L114.6 702.2 L114.3 703.8 L114.1 705.3 L113.9 706.9 L113.6 708.4 L113.4 710.0 L113.2 711.5 L112.9 713.1 L112.7 714.6 L112.5 716.2 L112.2 717.7 L112.0 719.3 L111.8 720.8 L111.6 722.4 L111.4 723.9 L111.2 725.5 L111.0 727.0 L110.8 728.6 L110.6 730.1 L110.4 731.7 L110.2 733.2 L110.0 734.8 L109.8 736.3 L109.6 737.9 L109.4 739.4 L109.2 741.0 L109.0 742.5 L108.8 744.1 L108.6 745.6 L108.4 747.2 L108.2 748.8 L108.0 750.3 L107.8 751.9 L107.6 753.4 L117.1 753.4 L117.3 751.9 L117.5 750.3 L117.7 748.8 L117.9 747.2 L118.1 745.6 L118.3 744.1 L118.5 742.5 L118.7 741.0 L118.9 739.4 L119.1 737.9 L119.3 736.3 L119.5 734.8 L119.7 733.2 L119.9 731.7 L120.1 730.1 L120.3 728.6 L120.5 727.0 L120.7 725.5 L120.9 723.9 L121.1 722.4 L121.3 720.8 L121.5 719.3 L121.7 717.7 L122.0 716.2 L122.2 714.6 L122.4 713.1 L122.7 711.5 L122.9 710.0 L123.1 708.4 L123.4 706.9 L123.6 705.3 L123.8 703.8 L124.1 702.2 L124.3 700.7 L124.5 699.1 L124.8 697.5 L125.0 696.0 L125.2 694.4 L125.5 692.9 L125.7 691.3 L125.9 689.8 L126.2 688.2 L126.4 686.7 L126.6 685.1 L126.9 683.6 L127.1 682.0 L127.3 680.5 L127.6 678.9 L127.8 677.4 L128.0 675.8 L128.3 674.3 L128.5 672.7 L128.7 671.2 L129.0 669.6 L129.2 668.1 L129.4 666.5 L129.7 665.0 L129.9 663.4 L130.1 661.9 L130.4 660.3 L130.6 658.8 L130.8 657.2 L131.1 655.7 L131.3 654.1 L131.5 652.6 L131.8 651.0 L132.0 649.4 L132.2 647.9 L132.5 646.3 L132.7 644.8 L132.9 643.2 L133.2 641.7 L133.4 640.1 L133.6 638.6 L133.9 637.0 L134.1 635.5 L134.4 633.9 L134.6 632.4 L134.9 630.8 L135.1 629.3 L135.4 627.7 L135.6 626.2 L135.8 624.6 L136.1 623.1 L136.3 621.5 L136.6 620.0 L136.8 618.4 L137.1 616.9 L137.3 615.3 L137.6 613.8 L137.8 612.2 L138.1 610.7 L138.5 609.1 L138.9 607.6 L139.3 606.0 L139.7 604.5 L140.1 602.9 L140.5 601.4 L140.9 599.8 L141.3 598.2 L141.7 596.7 L142.1 595.1 L142.5 593.6 L142.9 592.0 L143.3 590.5 L143.7 588.9 L144.1 587.4 L144.5 585.8 L144.9 584.3 L145.3 582.7 L145.7 581.2 L146.1 579.6 L146.5 578.1 L146.9 576.5 L147.3 575.0 L147.7 573.4 L148.1 571.9 L148.5 570.3 L148.9 568.8 L149.3 567.2 L149.7 565.7 L150.1 564.1 L150.5 562.6 L150.9 561.0 L151.3 559.5 L151.7 557.9 L152.2 556.4 L152.6 554.8 L153.0 553.3 L153.5 551.7 L153.9 550.1 L154.3 548.6 L154.7 547.0 L155.2 545.5 L155.6 543.9 L156.0 542.4 L156.4 540.8 L156.9 539.3 L157.3 537.7 L157.7 536.2 L158.2 534.6 L158.6 533.1 L159.0 531.5 L159.4 530.0 L159.9 528.4 L160.3 526.9 L160.7 525.3 L161.2 523.8 L161.6 522.2 L162.0 520.7 L162.4 519.1 L162.9 517.6 L163.5 516.0 L164.0 514.5 L164.6 512.9 L165.2 511.4 L165.8 509.8 L166.4 508.3 L167.0 506.7 L167.6 505.2 L168.2 503.6 L168.8 502.0 L169.4 500.5 L169.9 498.9 L170.5 497.4 L171.1 495.8 L171.7 494.3 L172.3 492.7 L172.9 491.2 L173.5 489.6 L174.1 488.1 L174.7 486.5 L175.3 485.0 L175.7 483.4 L176.2 481.9 L176.6 480.3 L177.1 478.8 L177.6 477.2 L178.0 475.7 L178.5 474.1 L178.9 472.6 L179.4 471.0 L179.9 469.5 L180.3 467.9 L180.8 466.4 L181.2 464.8 L181.7 463.3 L182.2 461.7 L182.6 460.2 L183.1 458.6 L183.5 457.1 L184.0 455.5 L184.5 453.9 L184.9 452.4 L185.4 450.8 L185.8 449.3 L186.3 447.7 L186.8 446.2 L187.2 444.6 L187.7 443.1 L188.1 441.5 L188.6 440.0 L189.1 438.4 L189.6 436.9 L190.2 435.3 L190.7 433.8 L191.2 432.2 L191.8 430.7 L192.3 429.1 L192.8 427.6 L193.4 426.0 L193.9 424.5 L194.4 422.9 L195.0 421.4 L195.5 419.8 L196.0 418.3 L196.6 416.7 L197.1 415.2 L197.6 413.6 L198.2 412.1 L198.7 410.5 L199.2 409.0 L199.8 407.4 L200.4 405.8 L201.1 404.3 L201.8 402.7 L202.4 401.2 L203.1 399.6 L203.8 398.1 L204.4 396.5 L205.1 395.0 L205.8 393.4 L206.4 391.9 L207.1 390.3 L207.7 388.8 L208.4 387.2 L209.1 385.7 L209.7 384.1 L210.4 382.6 L211.1 381.0 L211.7 379.5 L212.4 377.9 L213.1 376.4 L213.7 374.8 L214.4 373.3 L215.1 371.7 L215.8 370.2 L216.7 368.6 L217.6 367.1 L218.5 365.5 L219.3 364.0 L220.2 362.4 L221.1 360.9 L222.0 359.3 L222.9 357.7 L223.7 356.2 L224.6 354.6 L225.5 353.1 L226.4 351.5 L227.3 350.0 L228.1 348.4 L229.0 346.9 L229.9 345.3 L230.8 343.8 L231.7 342.2 L232.5 340.7 L233.4 339.1 L234.3 337.6 L235.2 336.0 L236.1 334.5 L236.9 332.9 L237.8 331.4 L238.7 329.8 L239.6 328.3 L240.4 326.7 L241.3 325.2 L242.2 323.6 L243.1 322.1 L244.0 320.5 L244.8 319.0 L245.7 317.4 L246.6 315.9 L247.5 314.3 L248.5 312.8 L249.5 311.2 L250.5 309.6 L251.6 308.1 L252.6 306.5 L253.6 305.0 L254.6 303.4 L255.7 301.9 L256.7 300.3 L257.7 298.8 L258.7 297.2 L259.7 295.7 L260.8 294.1 L261.8 292.6 L262.8 291.0 L263.8 289.5 L264.7 287.9 L265.7 286.4 L266.6 284.8 L267.6 283.3 L268.5 281.7 L269.5 280.2 L270.5 278.6 L271.4 277.1 L272.4 275.5 L273.3 274.0 L274.3 272.4 L275.3 270.9 L276.2 269.3 L277.2 267.8 L278.1 266.2 L278.8 264.7 L279.5 263.1 L280.2 261.5 L280.9 260.0 L281.6 258.4 L282.3 256.9 L282.9 255.3 L283.6 253.8 L284.3 252.2 L285.0 250.7 L285.7 249.1 L286.4 247.6 L287.1 246.0 L287.8 244.5 L288.4 242.9 L289.1 241.4 L289.8 239.8 L290.5 238.3 L291.2 236.7 L291.9 235.2 L292.6 233.6 L293.3 232.1 L294.0 230.5 L294.6 229.0 L295.3 227.4 L296.0 225.9 L296.8 224.3 L297.7 222.8 L298.6 221.2 L299.5 219.7 L300.4 218.1 L301.3 216.6 L302.2 215.0 L303.1 213.5 L304.0 211.9 L304.9 210.3 L305.8 208.8 L306.7 207.2 L307.6 205.7 L308.4 204.1 L309.3 202.6 L310.2 201.0 L311.1 199.5 L312.0 197.9 L312.9 196.4 L313.8 194.8 L314.7 193.3 L315.6 191.7 L316.6 190.2 L317.8 188.6 L319.0 187.1 L320.2 185.5 L321.3 184.0 L322.5 182.4 L323.7 180.9 L324.9 179.3 L326.0 177.8 L327.2 176.2 L328.4 174.7 L329.6 173.1 L330.7 171.6 L331.9 170.0 L333.1 168.5 L334.3 166.9 L335.5 165.4 L336.6 163.8 L338.2 162.2 L340.2 160.7 L342.2 159.1 L344.2 157.6 L346.2 156.0 L348.2 154.5 L350.2 152.9 L352.2 151.4 L354.2 149.8 L356.2 148.3 L358.1 146.7 L360.1 145.2 L362.1 143.6 L364.1 142.1 L366.1 140.5 L368.0 139.0 L369.7 137.4 L371.4 135.9 L373.1 134.3 L374.8 132.8 L376.6 131.2 L378.3 129.7 L380.0 128.1 L381.7 126.6 L383.4 125.0 L385.2 123.5 L386.9 121.9 L388.6 120.4 L390.2 118.8 L391.9 117.3 L393.5 115.7 L395.1 114.1 L396.7 112.6 L398.3 111.0 L399.9 109.5 L401.5 107.9 L403.1 106.4 L404.7 104.8 L406.2 103.3 L407.7 101.7 L409.1 100.2 L410.5 98.6 L412.0 97.1 L413.4 95.5 L414.9 94.0 L416.3 92.4 L417.8 90.9 L419.3 89.3 L421.1 87.8 L422.8 86.2 L424.5 84.7 L426.3 83.1 L428.0 81.6 L429.7 80.0 L431.5 78.5 L433.3 76.9 L435.1 75.4 L437.0 73.8 L438.8 72.3 L440.6 70.7 L442.6 69.2 L444.6 67.6 L446.6 66.0 L448.7 64.5 L450.7 62.9 L452.8 61.4 L454.8 59.8 L456.9 58.3 L458.9 56.7 L460.9 55.2 L463.0 53.6 L465.0 52.1 L467.1 50.5 L469.1 49.0 L471.1 47.4 L472.7 45.9 L473.9 44.3 L475.0 42.8 L476.1 41.2 L475.5 39.7 L474.9 38.1 L474.4 36.6 L473.8 35.0 L473.3 33.5 L472.7 31.9 L472.4 30.4 L472.3 28.8 L472.3 27.3 L472.2 25.7 L472.1 24.2 L472.0 22.6 L472.0 21.1 L471.9 19.5Z" fill="#0000ff" stroke="#0000ff" stroke-width="3"/>
<path d="M467.1 19.5 L467.2 21.1 L467.3 22.6 L467.4 24.2 L467.4 25.7 L467.5 27.3 L467.6 28.8 L467.7 30.4 L468.0 31.9 L468.5 33.5 L469.1 35.0 L469.6 36.6 L470.2 38.1 L470.8 39.7 L471.4 41.2 L470.2 42.8 L469.1 44.3 L468.0 45.9 L466.4 47.4 L464.4 49.0 L462.3 50.5 L460.3 52.1 L458.2 53.6 L456.2 55.2 L454.1 56.7 L452.1 58.3 L450.1 59.8 L448.0 61.4 L446.0 62.9 L443.9 64.5 L441.9 66.0 L439.8 67.6 L437.8 69.2 L435.9 70.7 L434.0 72.3 L432.2 73.8 L430.4 75.4 L428.6 76.9 L426.8 78.5 L425.0 80.0 L423.2 81.6 L421.5 83.1 L419.8 84.7 L418.1 86.2 L416.3 87.8 L414.6 89.3 L413.0 90.9 L411.6 92.4 L410.1 94.0 L408.7 95.5 L407.2 97.1 L405.8 98.6 L404.4 100.2 L402.9 101.7 L401.5 103.3 L399.9 104.8 L398.3 106.4 L396.7 107.9 L395.1 109.5 L393.5 111.0 L391.9 112.6 L390.3 114.1 L388.7 115.7 L387.1 117.3 L385.5 118.8 L383.8 120.4 L382.1 121.9 L380.4 123.5 L378.7 125.0 L377.0 126.6 L375.3 128.1 L373.5 129.7 L371.8 131.2 L370.1 132.8 L368.4 134.3 L366.7 135.9 L364.9 137.4 L363.2 139.0 L361.4 140.5 L359.4 142.1 L357.4 143.6 L355.4 145.2 L353.4 146.7 L351.4 148.3 L349.4 149.8 L347.4 151.4 L345.4 152.9 L343.4 154.5 L341.4 156.0 L339.4 157.6 L337.4 159.1 L335.5 160.7 L333.5 162.2 L331.9 163.8 L330.7 165.4 L329.5 166.9 L328.3 168.5 L327.2 170.0 L326.0 171.6 L324.8 173.1 L323.6 174.7 L322.5 176.2 L321.3 177.8 L320.1 179.3 L318.9 180.9 L317.8 182.4 L316.6 184.0 L315.4 185.5 L314.2 187.1 L313.1 188.6 L311.9 190.2 L310.9 191.7 L310.0 193.3 L309.1 194.8 L308.2 196.4 L307.3 197.9 L306.4 199.5 L305.5 201.0 L304.6 202.6 L303.7 204.1 L302.8 205.7 L301.9 207.2 L301.0 208.8 L300.1 210.3 L299.2 211.9 L298.3 213.5 L297.4 215.0 L296.5 216.6 L295.6 218.1 L294.7 219.7 L293.8 221.2 L293.0 222.8 L292.1 224.3 L291.3 225.9 L290.6 227.4 L289.9 229.0 L289.2 230.5 L288.5 232.1 L287.8 233.6 L287.1 235.2 L286.4 236.7 L285.8 238.3 L285.1 239.8 L284.4 241.4 L283.7 242.9 L283.0 244.5 L282.3 246.0 L281.6 247.6 L280.9 249.1 L280.3 250.7 L279.6 252.2 L278.9 253.8 L278.2 255.3 L277.5 256.9 L276.8 258.4 L276.1 260.0 L275.4 261.5 L274.7 263.1 L274.1 264.7 L273.4 266.2 L272.4 267.8 L271.5 269.3 L270.5 270.9 L269.5 272.4 L268.6 274.0 L267.6 275.5 L266.7 277.1 L265.7 278.6 L264.8 280.2 L263.8 281.7 L262.8 283.3 L261.9 284.8 L260.9 286.4 L260.0 287.9 L259.0 289.5 L258.1 291.0 L257.0 292.6 L256.0 294.1 L255.0 295.7 L254.0 297.2 L252.9 298.8 L251.9 300.3 L250.9 301.9 L249.9 303.4 L248.9 305.0 L247.8 306.5 L246.8 308.1 L245.8 309.6 L244.8 311.2 L243.8 312.8 L242.7 314.3 L241.9 315.9 L241.0 317.4 L240.1 319.0 L239.2 320.5 L238.3 322.1 L237.5 323.6 L236.6 325.2 L235.7 326.7 L234.8 328.3 L233.9 329.8 L233.1 331.4 L232.2 332.9 L231.3 334.5 L230.4 336.0 L229.5 337.6 L228.7 339.1 L227.8 340.7 L226.9 342.2 L226.0 343.8 L225.1 345.3 L224.3 346.9 L223.4 348.4 L222.5 350.0 L221.6 351.5 L220.7 353.1 L219.9 354.6 L219.0 356.2 L218.1 357.7 L217.2 359.3 L216.4 360.9 L215.5 362.4 L214.6 364.0 L213.7 365.5 L212.8 367.1 L212.0 368.6 L211.1 370.2 L210.3 371.7 L209.6 373.3 L209.0 374.8 L208.3 376.4 L207.6 377.9 L207.0 379.5 L206.3 381.0 L205.7 382.6 L205.0 384.1 L204.3 385.7 L203.7 387.2 L203.0 388.8 L202.3 390.3 L201.7 391.9 L201.0 393.4 L200.3 395.0 L199.7 396.5 L199.0 398.1 L198.3 399.6 L197.7 401.2 L197.0 402.7 L196.4 404.3 L195.7 405.8 L195.0 407.4 L194.5 409.0 L194.0 410.5 L193.4 412.1 L192.9 413.6 L192.4 415.2 L191.8 416.7 L191.3 418.3 L190.8 419.8 L190.2 421.4 L189.7 422.9 L189.2 424.5 L188.6 426.0 L188.1 427.6 L187.6 429.1 L187.0 430.7 L186.5 432.2 L186.0 433.8 L185.4 435.3 L184.9 436.9 L184.3 438.4 L183.9 440.0 L183.4 441.5 L182.9 443.1 L182.5 444.6 L182.0 446.2 L181.6 447.7 L181.1 449.3 L180.6 450.8 L180.2 452.4 L179.7 453.9 L179.3 455.5 L178.8 457.1 L178.3 458.6 L177.9 460.2 L177.4 461.7 L177.0 463.3 L176.5 464.8 L176.0 466.4 L175.6 467.9 L175.1 469.5 L174.7 471.0 L174.2 472.6 L173.7 474.1 L173.3 475.7 L172.8 477.2 L172.4 478.8 L171.9 480.3 L171.4 481.9 L171.0 483.4 L170.5 485.0 L169.9 486.5 L169.3 488.1 L168.7 489.6 L168.2 491.2 L167.6 492.7 L167.0 494.3 L166.4 495.8 L165.8 497.4 L165.2 498.9 L164.6 500.5 L164.0 502.0 L163.4 503.6 L162.8 505.2 L162.2 506.7 L161.7 508.3 L161.1 509.8 L160.5 511.4 L159.9 512.9 L159.3 514.5 L158.7 516.0 L158.1 517.6 L157.7 519.1 L157.3 520.7 L156.8 522.2 L156.4 523.8 L156.0 525.3 L155.5 526.9 L155.1 528.4 L154.7 530.0 L154.3 531.5 L153.8 533.1 L153.4 534.6 L153.0 536.2 L152.6 537.7 L152.1 539.3 L151.7 540.8 L151.3 542.4 L150.8 543.9 L150.4 545.5 L150.0 547.0 L149.6 548.6 L149.1 550.1 L148.7 551.7 L148.3 553.3 L147.8 554.8 L147.4 556.4 L147.0 557.9 L146.6 559.5 L146.1 561.0 L145.7 562.6 L145.3 564.1 L144.9 565.7 L144.5 567.2 L144.1 568.8 L143.7 570.3 L143.3 571.9 L142.9 573.4 L142.5 575.0 L142.1 576.5 L141.7 578.1 L141.3 579.6 L140.9 581.2 L140.5 582.7 L140.1 584.3 L139.7 585.8 L139.3 587.4 L138.9 588.9 L138.5 590.5 L138.1 592.0 L137.7 593.6 L137.3 595.1 L136.9 596.7 L136.5 598.2 L136.1 599.8 L135.7 601.4 L135.3 602.9 L134.9 604.5 L134.5 606.0 L134.1 607.6 L133.7 609.1 L133.3 610.7 L133.1 612.2 L132.8 613.8 L132.6 615.3 L132.3 616.9 L132.1 618.4 L131.8 620.0 L131.6 621.5 L131.3 623.1 L131.1 624.6 L130.9 626.2 L130.6 627.7 L130.4 629.3 L130.1 630.8 L129.9 632.4 L129.6 633.9 L129.4 635.5 L129.1 637.0 L128.9 638.6 L128.6 640.1 L128.4 641.7 L128.2 643.2 L127.9 644.8 L127.7 646.3 L127.5 647.9 L127.2 649.4 L127.0 651.0 L126.8 652.6 L126.5 654.1 L126.3 655.7 L126.1 657.2 L125.8 658.8 L125.6 660.3 L125.4 661.9 L125.1 663.4 L124.9 665.0 L124.7 666.5 L124.4 668.1 L124.2 669.6 L124.0 671.2 L123.7 672.7 L123.5 674.3 L123.3 675.8 L123.0 677.4 L122.8 678.9 L122.6 680.5 L122.3 682.0 L122.1 683.6 L121.9 685.1 L121.6 686.7 L121.4 688.2 L121.2 689.8 L120.9 691.3 L120.7 692.9 L120.5 694.4 L120.2 696.0 L120.0 697.5 L119.8 699.1 L119.5 700.7 L119.3 702.2 L119.1 703.8 L118.8 705.3 L118.6 706.9 L118.4 708.4 L118.1 710.0 L117.9 711.5 L117.7 713.1 L117.4 714.6 L117.2 716.2 L117.0 717.7 L116.8 719.3 L116.6 720.8 L116.4 722.4 L116.2 723.9 L116.0 725.5 L115.8 727.0 L115.6 728.6 L115.4 730.1 L115.2 731.7 L115.0 733.2 L114.8 734.8 L114.6 736.3 L114.4 737.9 L114.2 739.4 L114.0 741.0 L113.8 742.5 L113.6 744.1 L113.4 745.6 L113.2 747.2 L113.0 748.8 L112.8 750.3 L112.6 751.9 L112.4 753.4" stroke="#0000ff" stroke-width="12"/>
<circle cx="112.4" cy="753.4" r="6.2" fill="#0000ff" stroke="none"/>
<path d="M468.1 19.5 L468.1 21.1 L468.1 22.6 L468.1 24.2 L468.1 25.7 L468.1 27.3 L468.1 28.8 L468.1 31.1 L468.1 35.0 L468.1 38.9 L466.7 42.8 L462.3 46.7 L456.5 50.5 L452.1 54.4 L447.7 58.3 L439.0 66.0 L428.8 73.8 L418.5 81.6 L409.8 89.3 L401.8 97.1 L380.6 116.5 L357.3 135.9 L320.8 174.7 L294.2 213.5 L277.8 252.2 L259.5 291.0 L240.5 329.8 L203.8 407.4 L173.0 485.0 L147.2 562.6 L128.2 640.1 L117.3 717.7 L106.3 795.3" stroke="#ff0000" stroke-width="3.2"/>
<path d="M468.1 19.5 L468.1 21.1 L468.1 22.6 L468.1 24.2 L468.1 25.7 L468.1 27.3 L468.1 28.8 L468.1 31.1 L468.1 35.0 L468.1 38.9 L466.7 42.8 L462.3 46.7 L456.5 50.5" stroke="#ff0000" stroke-width="9"/>
<path d="M380.6 116.5 L357.3 135.9 L320.8 174.7 L294.2 213.5 L277.8 252.2" stroke="#ff0000" stroke-width="8"/>
<path d="M117.3 717.7 L106.3 795.3" stroke="#ff0000" stroke-width="10.5"/>
<g fill="#ff0000" stroke="none"><circle cx="468.1" cy="19.5" r="6"/><circle cx="468.1" cy="21.1" r="6"/><circle cx="468.1" cy="22.6" r="6"/><circle cx="468.1" cy="24.2" r="6"/><circle cx="468.1" cy="25.7" r="6"/><circle cx="468.1" cy="27.3" r="6"/><circle cx="468.1" cy="28.8" r="6"/><circle cx="468.1" cy="31.1" r="6"/><circle cx="468.1" cy="35.0" r="6"/><circle cx="468.1" cy="38.9" r="6"/><circle cx="466.7" cy="42.8" r="6"/><circle cx="462.3" cy="46.7" r="6"/><circle cx="456.5" cy="50.5" r="6"/><circle cx="452.1" cy="54.4" r="6"/><circle cx="447.7" cy="58.3" r="6"/><circle cx="439.0" cy="66.0" r="6"/><circle cx="428.8" cy="73.8" r="6"/><circle cx="418.5" cy="81.6" r="6"/><circle cx="409.8" cy="89.3" r="6"/><circle cx="401.8" cy="97.1" r="6"/><circle cx="380.6" cy="116.5" r="6"/><circle cx="357.3" cy="135.9" r="6"/><circle cx="320.8" cy="174.7" r="6"/><circle cx="294.2" cy="213.5" r="6"/><circle cx="277.8" cy="252.2" r="6"/><circle cx="259.5" cy="291.0" r="6"/><circle cx="240.5" cy="329.8" r="6"/><circle cx="203.8" cy="407.4" r="6"/><circle cx="173.0" cy="485.0" r="6"/><circle cx="147.2" cy="562.6" r="6"/><circle cx="128.2" cy="640.1" r="6"/><circle cx="117.3" cy="717.7" r="6"/><circle cx="106.3" cy="795.3" r="6"/></g>
<path d="M466.0 19.5 L465.7 21.1 L465.4 22.6 L465.1 24.2 L464.8 25.7 L464.5 27.3 L464.2 28.8 L463.8 31.1 L462.3 35.0 L460.1 38.9 L457.2 42.8 L453.6 46.7 L449.2 50.5 L444.8 54.4 L440.4 58.3 L431.7 66.0 L424.4 73.8 L417.1 81.6 L408.3 89.3 L399.6 97.1 L371.9 116.5 L364.6 135.9 L328.1 174.7 L306.2 213.5 L288.7 252.2 L271.9 291.0 L247.8 329.8 L209.0 407.4 L175.6 485.0 L148.3 562.6 L128.8 640.1 L117.3 717.7 L106.6 795.3" stroke="#008000" stroke-width="2.7"/>
<g fill="#008000" stroke="none"><circle cx="466.0" cy="19.5" r="6"/><circle cx="465.7" cy="21.1" r="6"/><circle cx="465.4" cy="22.6" r="6"/><circle cx="465.1" cy="24.2" r="6"/><circle cx="464.8" cy="25.7" r="6"/><circle cx="464.5" cy="27.3" r="6"/><circle cx="464.2" cy="28.8" r="6"/><circle cx="463.8" cy="31.1" r="6"/><circle cx="462.3" cy="35.0" r="6"/><circle cx="460.1" cy="38.9" r="6"/><circle cx="457.2" cy="42.8" r="6"/><circle cx="453.6" cy="46.7" r="6"/><circle cx="449.2" cy="50.5" r="6"/><circle cx="444.8" cy="54.4" r="6"/><circle cx="440.4" cy="58.3" r="6"/><circle cx="431.7" cy="66.0" r="6"/><circle cx="424.4" cy="73.8" r="6"/><circle cx="417.1" cy="81.6" r="6"/><circle cx="408.3" cy="89.3" r="6"/><circle cx="399.6" cy="97.1" r="6"/><circle cx="371.9" cy="116.5" r="6"/><circle cx="364.6" cy="135.9" r="6"/><circle cx="328.1" cy="174.7" r="6"/><circle cx="306.2" cy="213.5" r="6"/><circle cx="288.7" cy="252.2" r="6"/><circle cx="271.9" cy="291.0" r="6"/><circle cx="247.8" cy="329.8" r="6"/><circle cx="209.0" cy="407.4" r="6"/><circle cx="175.6" cy="485.0" r="6"/><circle cx="148.3" cy="562.6" r="6"/><circle cx="128.8" cy="640.1" r="6"/><circle cx="117.3" cy="717.7" r="6"/><circle cx="106.6" cy="795.3" r="6"/></g>
<path d="M467.7 19.9 L467.7 20.7 L467.8 21.6 L467.8 22.5 L467.8 23.4 L467.8 24.5 L467.9 25.7 L467.9 26.9 L467.9 28.3 L468.0 30.0 L468.0 31.8 L468.1 33.9 L468.1 36.3 L471.1 39.1 L468.9 42.3 L465.2 46.2 L461.9 50.8 L453.6 56.3 L444.8 62.8 L434.2 70.5 L423.9 79.9 L412.7 91.1 L400.2 104.6 L383.5 120.9 L358.7 140.4 L328.1 163.9 L307.7 192.1 L294.5 225.9 L279.8 266.3 L255.1 314.5 L226.0 371.6 L189.0 439.3 L161.8 518.8 L135.9 611.7 L118.7 719.5" stroke="#ff00ff" stroke-width="2.1"/>
<g fill="#ff00ff" stroke="none"><circle cx="467.7" cy="19.9" r="6"/><circle cx="467.7" cy="20.7" r="6"/><circle cx="467.8" cy="21.6" r="6"/><circle cx="467.8" cy="22.5" r="6"/><circle cx="467.8" cy="23.4" r="6"/><circle cx="467.8" cy="24.5" r="6"/><circle cx="467.9" cy="25.7" r="6"/><circle cx="467.9" cy="26.9" r="6"/><circle cx="467.9" cy="28.3" r="6"/><circle cx="468.0" cy="30.0" r="6"/><circle cx="468.0" cy="31.8" r="6"/><circle cx="468.1" cy="33.9" r="6"/><circle cx="468.1" cy="36.3" r="6"/><circle cx="471.1" cy="39.1" r="6"/><circle cx="468.9" cy="42.3" r="6"/><circle cx="465.2" cy="46.2" r="6"/><circle cx="461.9" cy="50.8" r="6"/><circle cx="453.6" cy="56.3" r="6"/><circle cx="444.8" cy="62.8" r="6"/><circle cx="434.2" cy="70.5" r="6"/><circle cx="423.9" cy="79.9" r="6"/><circle cx="412.7" cy="91.1" r="6"/><circle cx="400.2" cy="104.6" r="6"/><circle cx="383.5" cy="120.9" r="6"/><circle cx="358.7" cy="140.4" r="6"/><circle cx="328.1" cy="163.9" r="6"/><circle cx="307.7" cy="192.1" r="6"/><circle cx="294.5" cy="225.9" r="6"/><circle cx="279.8" cy="266.3" r="6"/><circle cx="255.1" cy="314.5" r="6"/><circle cx="226.0" cy="371.6" r="6"/><circle cx="189.0" cy="439.3" r="6"/><circle cx="161.8" cy="518.8" r="6"/><circle cx="135.9" cy="611.7" r="6"/><circle cx="118.7" cy="719.5" r="6"/></g>
</g>
<rect x="99.4" y="19.5" width="382.2" height="783.9" fill="none" stroke="#000" stroke-width="1.4"/>
<path d="M99.4 19.50h-6 M99.4 97.08h-6 M99.4 174.66h-6 M99.4 252.24h-6 M99.4 329.82h-6 M99.4 407.40h-6 M99.4 484.98h-6 M99.4 562.56h-6 M99.4 640.14h-6 M99.4 717.72h-6 M99.4 795.30h-6 M103.40 803.4v6 M176.35 803.4v6 M249.30 803.4v6 M322.25 803.4v6 M395.20 803.4v6 M468.15 803.4v6" stroke="#000" stroke-width="1.4" fill="none"/>
<text x="76.00" y="25.95" font-size="18.48" textLength="10.16" lengthAdjust="spacingAndGlyphs">0</text>
<text x="53.92" y="103.65" font-size="18.48" textLength="32.27" lengthAdjust="spacingAndGlyphs">100</text>
<text x="53.75" y="181.35" font-size="18.48" textLength="32.45" lengthAdjust="spacingAndGlyphs">200</text>
<text x="54.04" y="259.05" font-size="18.48" textLength="32.15" lengthAdjust="spacingAndGlyphs">300</text>
<text x="53.85" y="336.75" font-size="18.48" textLength="32.34" lengthAdjust="spacingAndGlyphs">400</text>
<text x="54.04" y="414.45" font-size="18.48" textLength="32.15" lengthAdjust="spacingAndGlyphs">500</text>
<text x="53.71" y="492.15" font-size="18.48" textLength="32.49" lengthAdjust="spacingAndGlyphs">600</text>
<text x="53.93" y="569.85" font-size="18.48" textLength="32.27" lengthAdjust="spacingAndGlyphs">700</text>
<text x="53.81" y="647.55" font-size="18.48" textLength="32.39" lengthAdjust="spacingAndGlyphs">800</text>
<text x="53.62" y="725.25" font-size="18.48" textLength="32.58" lengthAdjust="spacingAndGlyphs">900</text>
<text x="42.87" y="802.95" font-size="18.48" textLength="43.38" lengthAdjust="spacingAndGlyphs">1000</text>
<text x="98.53" y="829.70" font-size="18.43" textLength="9.60" lengthAdjust="spacingAndGlyphs">5</text>
<text x="165.78" y="829.70" font-size="18.48" textLength="21.25" lengthAdjust="spacingAndGlyphs">10</text>
<text x="238.75" y="829.70" font-size="18.43" textLength="20.91" lengthAdjust="spacingAndGlyphs">15</text>
<text x="311.50" y="829.70" font-size="18.48" textLength="21.43" lengthAdjust="spacingAndGlyphs">20</text>
<text x="384.46" y="829.70" font-size="18.48" textLength="21.11" lengthAdjust="spacingAndGlyphs">25</text>
<text x="457.69" y="829.70" font-size="18.48" textLength="21.13" lengthAdjust="spacingAndGlyphs">30</text>
<path d="M594.5 19.50H976.4 M594.5 97.08H976.4 M594.5 174.66H976.4 M594.5 252.24H976.4 M594.5 329.82H976.4 M594.5 407.40H976.4 M594.5 484.98H976.4 M594.5 562.56H976.4 M594.5 640.14H976.4 M594.5 717.72H976.4 M594.5 795.30H976.4 M628.30 19.5V803.4 M727.67 19.5V803.4 M827.04 19.5V803.4 M926.41 19.5V803.4" stroke="#a0a0a0" stroke-width="0.87" stroke-dasharray="3.2 1.4" fill="none"/>
<g clip-path="url(#c1)" stroke-linejoin="round" stroke-linecap="round" fill="none">
<path d="M613.3 19.5 L613.7 21.1 L614.1 22.6 L614.5 24.2 L614.9 25.7 L615.3 27.3 L616.5 28.8 L617.7 30.4 L622.3 31.9 L630.2 33.5 L649.8 35.0 L681.1 36.6 L703.8 38.1 L723.6 39.7 L743.5 41.2 L758.4 42.8 L773.3 44.3 L788.2 45.9 L803.1 47.4 L813.1 49.0 L823.0 50.5 L832.9 52.1 L842.9 53.6 L852.8 55.2 L862.8 56.7 L872.7 58.3 L875.7 59.8 L878.7 61.4 L881.6 62.9 L884.6 64.5 L887.6 66.0 L889.3 67.6 L890.9 69.2 L892.6 70.7 L894.2 72.3 L895.9 73.8 L897.5 75.4 L899.2 76.9 L900.8 78.5 L902.5 80.0 L904.2 81.6 L905.8 83.1 L907.5 84.7 L909.3 86.2 L911.2 87.8 L913.0 89.3 L914.9 90.9 L916.7 92.4 L918.5 94.0 L920.4 95.5 L921.5 97.1 L922.6 98.6 L923.7 100.2 L924.8 101.7 L925.7 103.3 L926.3 104.8 L926.9 106.4 L927.5 107.9 L928.1 109.5 L928.7 111.0 L929.3 112.6 L929.6 114.1 L929.9 115.7 L930.1 117.3 L930.4 118.8 L930.7 120.4 L930.9 121.9 L931.2 123.5 L931.2 125.0 L931.0 126.6 L930.8 128.1 L930.6 129.7 L930.4 131.2 L929.9 132.8 L929.1 134.3 L928.3 135.9 L927.5 137.4 L926.8 139.0 L925.8 140.5 L924.6 142.1 L923.4 143.6 L922.2 145.2 L921.0 146.7 L919.8 148.3 L918.5 149.8 L917.2 151.4 L915.9 152.9 L914.6 154.5 L913.4 156.0 L912.1 157.6 L910.9 159.1 L909.7 160.7 L908.6 162.2 L907.5 163.8 L906.3 165.4 L905.2 166.9 L904.1 168.5 L902.9 170.0 L901.8 171.6 L900.7 173.1 L899.5 174.7 L898.4 176.2 L897.3 177.8 L896.2 179.3 L895.1 180.9 L894.0 182.4 L892.9 184.0 L891.8 185.5 L890.8 187.1 L889.7 188.6 L888.6 190.2 L887.5 191.7 L886.4 193.3 L885.3 194.8 L884.2 196.4 L883.1 197.9 L882.1 199.5 L881.0 201.0 L880.0 202.6 L879.0 204.1 L877.9 205.7 L876.9 207.2 L875.9 208.8 L874.8 210.3 L873.8 211.9 L872.8 213.5 L871.7 215.0 L870.7 216.6 L869.8 218.1 L868.9 219.7 L867.9 221.2 L867.0 222.8 L866.1 224.3 L865.1 225.9 L864.2 227.4 L863.3 229.0 L862.3 230.5 L861.4 232.1 L860.6 233.6 L859.7 235.2 L858.8 236.7 L857.9 238.3 L857.1 239.8 L856.2 241.4 L855.3 242.9 L854.5 244.5 L853.6 246.0 L852.7 247.6 L851.9 249.1 L851.0 250.7 L850.1 252.2 L849.3 253.8 L848.4 255.3 L847.5 256.9 L846.6 258.4 L845.8 260.0 L844.9 261.5 L844.0 263.1 L843.2 264.7 L841.9 266.2 L840.6 267.8 L839.3 269.3 L838.1 270.9 L836.8 272.4 L835.5 274.0 L834.2 275.5 L832.9 277.1 L831.7 278.6 L830.4 280.2 L829.1 281.7 L827.8 283.3 L826.6 284.8 L825.3 286.4 L824.0 287.9 L822.7 289.5 L821.4 291.0 L820.3 292.6 L819.2 294.1 L818.1 295.7 L817.0 297.2 L815.9 298.8 L814.8 300.3 L813.7 301.9 L812.6 303.4 L811.5 305.0 L810.4 306.5 L809.3 308.1 L808.2 309.6 L807.1 311.2 L806.0 312.8 L804.9 314.3 L803.8 315.9 L802.7 317.4 L801.6 319.0 L800.5 320.5 L799.4 322.1 L798.3 323.6 L797.2 325.2 L796.0 326.7 L794.9 328.3 L793.8 329.8 L793.0 331.4 L792.2 332.9 L791.4 334.5 L790.6 336.0 L789.8 337.6 L789.0 339.1 L788.2 340.7 L787.4 342.2 L786.6 343.8 L785.7 345.3 L784.9 346.9 L784.1 348.4 L783.3 350.0 L782.5 351.5 L781.7 353.1 L780.9 354.6 L780.1 356.2 L779.3 357.7 L778.6 359.3 L777.8 360.9 L777.1 362.4 L776.3 364.0 L775.6 365.5 L774.8 367.1 L774.1 368.6 L773.3 370.2 L772.6 371.7 L771.8 373.3 L771.1 374.8 L770.3 376.4 L769.6 377.9 L768.8 379.5 L768.1 381.0 L767.3 382.6 L766.6 384.1 L765.8 385.7 L765.1 387.2 L764.3 388.8 L763.6 390.3 L762.8 391.9 L762.1 393.4 L761.3 395.0 L760.6 396.5 L759.8 398.1 L759.2 399.6 L758.7 401.2 L758.2 402.7 L757.7 404.3 L757.2 405.8 L756.8 407.4 L756.3 409.0 L755.8 410.5 L755.3 412.1 L754.8 413.6 L754.3 415.2 L753.8 416.7 L753.3 418.3 L752.9 419.8 L752.4 421.4 L751.9 422.9 L751.4 424.5 L750.9 426.0 L750.4 427.6 L749.9 429.1 L749.4 430.7 L748.9 432.2 L748.5 433.8 L748.0 435.3 L747.5 436.9 L747.0 438.4 L746.5 440.0 L746.0 441.5 L745.5 443.1 L745.0 444.6 L744.5 446.2 L744.0 447.7 L743.5 449.3 L743.0 450.8 L742.5 452.4 L742.0 453.9 L741.5 455.5 L741.0 457.1 L740.5 458.6 L740.0 460.2 L739.5 461.7 L739.0 463.3 L738.6 464.8 L738.1 466.4 L737.6 467.9 L737.1 469.5 L736.6 471.0 L736.1 472.6 L735.6 474.1 L735.1 475.7 L734.6 477.2 L734.1 478.8 L733.6 480.3 L733.1 481.9 L732.6 483.4 L732.1 485.0 L731.8 486.5 L731.5 488.1 L731.2 489.6 L731.0 491.2 L730.7 492.7 L730.4 494.3 L730.1 495.8 L729.8 497.4 L729.6 498.9 L729.3 500.5 L729.0 502.0 L728.7 503.6 L728.4 505.2 L728.1 506.7 L727.9 508.3 L727.6 509.8 L727.3 511.4 L727.0 512.9 L726.7 514.5 L726.5 516.0 L726.2 517.6 L725.9 519.1 L725.6 520.7 L725.3 522.2 L725.0 523.8 L724.7 525.3 L724.3 526.9 L724.0 528.4 L723.7 530.0 L723.4 531.5 L723.1 533.1 L722.8 534.6 L722.5 536.2 L722.2 537.7 L721.9 539.3 L721.6 540.8 L721.3 542.4 L721.0 543.9 L720.7 545.5 L720.4 547.0 L720.0 548.6 L719.7 550.1 L719.4 551.7 L719.1 553.3 L718.8 554.8 L718.5 556.4 L718.2 557.9 L717.9 559.5 L717.6 561.0 L717.3 562.6 L717.1 564.1 L716.9 565.7 L716.7 567.2 L716.6 568.8 L716.4 570.3 L716.2 571.9 L716.0 573.4 L715.8 575.0 L715.6 576.5 L715.5 578.1 L715.2 579.6 L715.0 581.2 L714.8 582.7 L714.6 584.3 L714.3 585.8 L714.1 587.4 L713.9 588.9 L713.7 590.5 L713.5 592.0 L713.2 593.6 L713.0 595.1 L712.8 596.7 L712.6 598.2 L712.3 599.8 L712.1 601.4 L711.9 602.9 L711.7 604.5 L711.5 606.0 L711.2 607.6 L711.0 609.1 L710.8 610.7 L710.7 612.2 L710.7 613.8 L710.6 615.3 L710.6 616.9 L710.5 618.4 L710.5 620.0 L710.4 621.5 L710.4 623.1 L710.3 624.6 L710.3 626.2 L710.2 627.7 L710.2 629.3 L710.1 630.8 L710.1 632.4 L710.0 633.9 L710.0 635.5 L709.9 637.0 L709.9 638.6 L709.8 640.1 L709.9 641.7 L709.9 643.2 L709.9 644.8 L710.0 646.3 L710.0 647.9 L710.1 649.4 L710.1 651.0 L710.2 652.6 L710.2 654.1 L710.2 655.7 L710.3 657.2 L710.3 658.8 L710.4 660.3 L710.4 661.9 L710.4 663.4 L710.5 665.0 L710.5 666.5 L710.6 668.1 L710.6 669.6 L710.7 671.2 L710.7 672.7 L710.7 674.3 L710.8 675.8 L710.8 677.4 L710.9 678.9 L711.0 680.5 L711.1 682.0 L711.2 683.6 L711.3 685.1 L711.5 686.7 L711.6 688.2 L711.7 689.8 L711.8 691.3 L712.0 692.9 L712.1 694.4 L712.2 696.0 L712.3 697.5 L712.4 699.1 L712.6 700.7 L712.7 702.2 L712.8 703.8 L712.9 705.3 L713.0 706.9 L713.2 708.4 L713.3 710.0 L713.4 711.5 L713.5 713.1 L713.6 714.6 L713.8 716.2 L713.9 717.7 L714.0 719.3 L714.1 720.8 L714.1 722.4 L714.2 723.9 L714.3 725.5 L714.4 727.0 L714.5 728.6 L714.6 730.1 L714.6 731.7 L714.7 733.2 L714.8 734.8 L714.9 736.3 L715.0 737.9 L715.1 739.4 L715.2 741.0 L715.2 742.5 L715.3 744.1 L715.4 745.6 L715.5 747.2 L715.6 748.8 L715.7 750.3 L715.7 751.9 L715.8 753.4 L715.9 755.0 L725.5 755.0 L725.4 753.4 L725.3 751.9 L725.3 750.3 L725.2 748.8 L725.1 747.2 L725.0 745.6 L724.9 744.1 L724.9 742.5 L724.8 741.0 L724.7 739.4 L724.6 737.9 L724.5 736.3 L724.5 734.8 L724.4 733.2 L724.3 731.7 L724.2 730.1 L724.1 728.6 L724.1 727.0 L724.0 725.5 L723.9 723.9 L723.8 722.4 L723.7 720.8 L723.6 719.3 L723.6 717.7 L723.4 716.2 L723.3 714.6 L723.2 713.1 L723.1 711.5 L723.0 710.0 L722.9 708.4 L722.7 706.9 L722.6 705.3 L722.5 703.8 L722.4 702.2 L722.3 700.7 L722.2 699.1 L722.0 697.5 L721.9 696.0 L721.8 694.4 L721.7 692.9 L721.6 691.3 L721.5 689.8 L721.3 688.2 L721.2 686.7 L721.1 685.1 L721.0 683.6 L720.9 682.0 L720.7 680.5 L720.6 678.9 L720.6 677.4 L720.6 675.8 L720.5 674.3 L720.5 672.7 L720.4 671.2 L720.4 669.6 L720.4 668.1 L720.3 666.5 L720.3 665.0 L720.2 663.4 L720.2 661.9 L720.2 660.3 L720.1 658.8 L720.1 657.2 L720.1 655.7 L720.0 654.1 L720.0 652.6 L719.9 651.0 L719.9 649.4 L719.9 647.9 L719.8 646.3 L719.8 644.8 L719.8 643.2 L719.7 641.7 L719.7 640.1 L719.7 638.6 L719.8 637.0 L719.8 635.5 L719.9 633.9 L720.0 632.4 L720.0 630.8 L720.1 629.3 L720.1 627.7 L720.2 626.2 L720.2 624.6 L720.3 623.1 L720.3 621.5 L720.4 620.0 L720.4 618.4 L720.5 616.9 L720.5 615.3 L720.6 613.8 L720.7 612.2 L720.7 610.7 L720.9 609.1 L721.2 607.6 L721.4 606.0 L721.6 604.5 L721.8 602.9 L722.1 601.4 L722.3 599.8 L722.5 598.2 L722.7 596.7 L723.0 595.1 L723.2 593.6 L723.4 592.0 L723.6 590.5 L723.9 588.9 L724.1 587.4 L724.3 585.8 L724.6 584.3 L724.8 582.7 L725.0 581.2 L725.2 579.6 L725.5 578.1 L725.7 576.5 L726.0 575.0 L726.3 573.4 L726.5 571.9 L726.8 570.3 L727.1 568.8 L727.3 567.2 L727.6 565.7 L727.9 564.1 L728.1 562.6 L728.5 561.0 L728.9 559.5 L729.3 557.9 L729.7 556.4 L730.1 554.8 L730.5 553.3 L730.9 551.7 L731.2 550.1 L731.6 548.6 L732.0 547.0 L732.4 545.5 L732.8 543.9 L733.2 542.4 L733.6 540.8 L734.0 539.3 L734.4 537.7 L734.8 536.2 L735.1 534.6 L735.5 533.1 L735.9 531.5 L736.3 530.0 L736.7 528.4 L737.1 526.9 L737.5 525.3 L737.9 523.8 L738.3 522.2 L738.7 520.7 L739.0 519.1 L739.4 517.6 L739.8 516.0 L740.2 514.5 L740.5 512.9 L740.9 511.4 L741.3 509.8 L741.6 508.3 L742.0 506.7 L742.3 505.2 L742.7 503.6 L743.1 502.0 L743.4 500.5 L743.8 498.9 L744.2 497.4 L744.5 495.8 L744.9 494.3 L745.3 492.7 L745.6 491.2 L746.0 489.6 L746.4 488.1 L746.7 486.5 L747.1 485.0 L747.6 483.4 L748.1 481.9 L748.6 480.3 L749.1 478.8 L749.7 477.2 L750.2 475.7 L750.7 474.1 L751.2 472.6 L751.7 471.0 L752.2 469.5 L752.7 467.9 L753.3 466.4 L753.8 464.8 L754.3 463.3 L754.8 461.7 L755.3 460.2 L755.8 458.6 L756.3 457.1 L756.9 455.5 L757.4 453.9 L757.9 452.4 L758.4 450.8 L758.9 449.3 L759.4 447.7 L759.9 446.2 L760.5 444.6 L761.0 443.1 L761.5 441.5 L762.0 440.0 L762.5 438.4 L763.0 436.9 L763.5 435.3 L764.0 433.8 L764.5 432.2 L765.0 430.7 L765.5 429.1 L766.0 427.6 L766.5 426.0 L767.1 424.5 L767.6 422.9 L768.1 421.4 L768.6 419.8 L769.1 418.3 L769.6 416.7 L770.1 415.2 L770.6 413.6 L771.1 412.1 L771.6 410.5 L772.1 409.0 L772.6 407.4 L773.1 405.8 L773.6 404.3 L774.1 402.7 L774.6 401.2 L775.1 399.6 L775.8 398.1 L776.5 396.5 L777.3 395.0 L778.1 393.4 L778.8 391.9 L779.6 390.3 L780.4 388.8 L781.1 387.2 L781.9 385.7 L782.7 384.1 L783.5 382.6 L784.2 381.0 L785.0 379.5 L785.8 377.9 L786.5 376.4 L787.3 374.8 L788.1 373.3 L788.8 371.7 L789.6 370.2 L790.4 368.6 L791.1 367.1 L791.9 365.5 L792.7 364.0 L793.4 362.4 L794.2 360.9 L795.0 359.3 L795.7 357.7 L796.5 356.2 L797.3 354.6 L798.2 353.1 L799.0 351.5 L799.8 350.0 L800.6 348.4 L801.5 346.9 L802.3 345.3 L803.1 343.8 L803.9 342.2 L804.8 340.7 L805.6 339.1 L806.4 337.6 L807.2 336.0 L808.1 334.5 L808.9 332.9 L809.7 331.4 L810.6 329.8 L811.7 328.3 L812.8 326.7 L813.9 325.2 L815.0 323.6 L816.2 322.1 L817.3 320.5 L818.4 319.0 L819.5 317.4 L820.6 315.9 L821.8 314.3 L822.9 312.8 L824.0 311.2 L825.1 309.6 L826.3 308.1 L827.4 306.5 L828.5 305.0 L829.6 303.4 L830.7 301.9 L831.9 300.3 L833.0 298.8 L834.1 297.2 L835.2 295.7 L836.3 294.1 L837.5 292.6 L838.6 291.0 L839.9 289.5 L841.2 287.9 L842.5 286.4 L843.8 284.8 L845.1 283.3 L846.4 281.7 L847.7 280.2 L848.9 278.6 L850.2 277.1 L851.5 275.5 L852.8 274.0 L854.1 272.4 L855.4 270.9 L856.7 269.3 L858.0 267.8 L859.3 266.2 L860.6 264.7 L861.5 263.1 L862.4 261.5 L863.3 260.0 L864.1 258.4 L865.0 256.9 L865.9 255.3 L866.8 253.8 L867.7 252.2 L868.6 250.7 L869.5 249.1 L870.4 247.6 L871.2 246.0 L872.1 244.5 L873.0 242.9 L873.9 241.4 L874.8 239.8 L875.7 238.3 L876.6 236.7 L877.4 235.2 L878.3 233.6 L879.2 232.1 L880.1 230.5 L881.1 229.0 L882.0 227.4 L883.0 225.9 L883.9 224.3 L884.9 222.8 L885.8 221.2 L886.8 219.7 L887.7 218.1 L888.7 216.6 L889.7 215.0 L890.8 213.5 L891.8 211.9 L892.8 210.3 L893.9 208.8 L894.9 207.2 L895.9 205.7 L897.0 204.1 L898.0 202.6 L899.0 201.0 L900.1 199.5 L901.1 197.9 L902.2 196.4 L903.3 194.8 L904.4 193.3 L905.5 191.7 L906.6 190.2 L907.7 188.6 L908.8 187.1 L909.8 185.5 L910.9 184.0 L912.0 182.4 L913.1 180.9 L914.2 179.3 L915.3 177.8 L916.4 176.2 L917.5 174.7 L918.7 173.1 L919.8 171.6 L920.9 170.0 L922.1 168.5 L923.2 166.9 L924.3 165.4 L925.5 163.8 L926.6 162.2 L927.7 160.7 L928.9 159.1 L930.1 157.6 L931.4 156.0 L932.6 154.5 L933.9 152.9 L935.2 151.4 L936.5 149.8 L937.8 148.3 L939.0 146.7 L940.2 145.2 L941.4 143.6 L942.6 142.1 L943.8 140.5 L944.8 139.0 L945.5 137.4 L946.3 135.9 L947.1 134.3 L947.9 132.8 L948.4 131.2 L948.6 129.7 L948.8 128.1 L949.0 126.6 L949.2 125.0 L949.2 123.5 L948.9 121.9 L948.7 120.4 L948.4 118.8 L948.1 117.3 L947.9 115.7 L947.6 114.1 L947.3 112.6 L946.7 111.0 L946.1 109.5 L945.5 107.9 L944.9 106.4 L944.3 104.8 L943.7 103.3 L942.8 101.7 L941.7 100.2 L940.6 98.6 L939.5 97.1 L938.4 95.5 L936.5 94.0 L934.7 92.4 L932.9 90.9 L931.0 89.3 L929.2 87.8 L927.3 86.2 L925.5 84.7 L923.8 83.1 L922.2 81.6 L920.5 80.0 L918.8 78.5 L917.2 76.9 L915.5 75.4 L913.9 73.8 L912.2 72.3 L910.6 70.7 L908.9 69.2 L907.3 67.6 L905.6 66.0 L902.6 64.5 L899.6 62.9 L896.7 61.4 L893.7 59.8 L890.7 58.3 L880.8 56.7 L870.8 55.2 L860.9 53.6 L850.9 52.1 L841.0 50.5 L831.1 49.0 L821.1 47.4 L806.2 45.9 L791.3 44.3 L776.4 42.8 L761.5 41.2 L741.6 39.7 L721.8 38.1 L699.1 36.6 L667.8 35.0 L648.2 33.5 L640.3 31.9 L635.7 30.4 L634.5 28.8 L633.3 27.3 L632.9 25.7 L632.5 24.2 L632.1 22.6 L631.7 21.1 L631.3 19.5Z" fill="#00ffff" stroke="#00ffff" stroke-width="3"/>
<path d="M622.3 19.5 L622.7 21.1 L623.1 22.6 L623.5 24.2 L623.9 25.7 L624.3 27.3 L625.5 28.8 L626.7 30.4 L631.3 31.9 L639.2 33.5 L658.8 35.0 L690.1 36.6 L712.8 38.1 L732.6 39.7 L752.5 41.2 L767.4 42.8 L782.3 44.3 L797.2 45.9 L812.1 47.4 L822.1 49.0 L832.0 50.5 L841.9 52.1 L851.9 53.6 L861.8 55.2 L871.8 56.7 L881.7 58.3 L884.7 59.8 L887.7 61.4 L890.6 62.9 L893.6 64.5 L896.6 66.0 L898.3 67.6 L899.9 69.2 L901.6 70.7 L903.2 72.3 L904.9 73.8 L906.5 75.4 L908.2 76.9 L909.8 78.5 L911.5 80.0 L913.2 81.6 L914.8 83.1 L916.5 84.7 L918.3 86.2 L920.2 87.8 L922.0 89.3 L923.9 90.9 L925.7 92.4 L927.5 94.0 L929.4 95.5 L930.5 97.1 L931.6 98.6 L932.7 100.2 L933.8 101.7 L934.7 103.3 L935.3 104.8 L935.9 106.4 L936.5 107.9 L937.1 109.5 L937.7 111.0 L938.3 112.6 L938.6 114.1 L938.9 115.7 L939.1 117.3 L939.4 118.8 L939.7 120.4 L939.9 121.9 L940.2 123.5 L940.2 125.0 L940.0 126.6 L939.8 128.1 L939.6 129.7 L939.4 131.2 L938.9 132.8 L938.1 134.3 L937.3 135.9 L936.5 137.4 L935.8 139.0 L934.8 140.5 L933.6 142.1 L932.4 143.6 L931.2 145.2 L930.0 146.7 L928.8 148.3 L927.5 149.8 L926.2 151.4 L924.9 152.9 L923.6 154.5 L922.4 156.0 L921.1 157.6 L919.9 159.1 L918.7 160.7 L917.6 162.2 L916.5 163.8 L915.3 165.4 L914.2 166.9 L913.1 168.5 L911.9 170.0 L910.8 171.6 L909.7 173.1 L908.5 174.7 L907.4 176.2 L906.3 177.8 L905.2 179.3 L904.1 180.9 L903.0 182.4 L901.9 184.0 L900.8 185.5 L899.8 187.1 L898.7 188.6 L897.6 190.2 L896.5 191.7 L895.4 193.3 L894.3 194.8 L893.2 196.4 L892.1 197.9 L891.1 199.5 L890.0 201.0 L889.0 202.6 L888.0 204.1 L886.9 205.7 L885.9 207.2 L884.9 208.8 L883.8 210.3 L882.8 211.9 L881.8 213.5 L880.7 215.0 L879.7 216.6 L878.8 218.1 L877.8 219.7 L876.9 221.2 L875.9 222.8 L875.0 224.3 L874.1 225.9 L873.1 227.4 L872.2 229.0 L871.2 230.5 L870.3 232.1 L869.4 233.6 L868.6 235.2 L867.7 236.7 L866.8 238.3 L865.9 239.8 L865.1 241.4 L864.2 242.9 L863.3 244.5 L862.4 246.0 L861.5 247.6 L860.7 249.1 L859.8 250.7 L858.9 252.2 L858.0 253.8 L857.2 255.3 L856.3 256.9 L855.4 258.4 L854.5 260.0 L853.6 261.5 L852.8 263.1 L851.9 264.7 L850.6 266.2 L849.3 267.8 L848.0 269.3 L846.7 270.9 L845.5 272.4 L844.2 274.0 L842.9 275.5 L841.6 277.1 L840.3 278.6 L839.0 280.2 L837.7 281.7 L836.5 283.3 L835.2 284.8 L833.9 286.4 L832.6 287.9 L831.3 289.5 L830.0 291.0 L828.9 292.6 L827.8 294.1 L826.7 295.7 L825.6 297.2 L824.5 298.8 L823.3 300.3 L822.2 301.9 L821.1 303.4 L820.0 305.0 L818.9 306.5 L817.8 308.1 L816.7 309.6 L815.6 311.2 L814.4 312.8 L813.3 314.3 L812.2 315.9 L811.1 317.4 L810.0 319.0 L808.9 320.5 L807.8 322.1 L806.6 323.6 L805.5 325.2 L804.4 326.7 L803.3 328.3 L802.2 329.8 L801.4 331.4 L800.6 332.9 L799.7 334.5 L798.9 336.0 L798.1 337.6 L797.3 339.1 L796.5 340.7 L795.7 342.2 L794.8 343.8 L794.0 345.3 L793.2 346.9 L792.4 348.4 L791.6 350.0 L790.7 351.5 L789.9 353.1 L789.1 354.6 L788.3 356.2 L787.5 357.7 L786.8 359.3 L786.0 360.9 L785.3 362.4 L784.5 364.0 L783.7 365.5 L783.0 367.1 L782.2 368.6 L781.5 370.2 L780.7 371.7 L779.9 373.3 L779.2 374.8 L778.4 376.4 L777.7 377.9 L776.9 379.5 L776.1 381.0 L775.4 382.6 L774.6 384.1 L773.9 385.7 L773.1 387.2 L772.4 388.8 L771.6 390.3 L770.8 391.9 L770.1 393.4 L769.3 395.0 L768.6 396.5 L767.8 398.1 L767.2 399.6 L766.7 401.2 L766.2 402.7 L765.7 404.3 L765.2 405.8 L764.7 407.4 L764.2 409.0 L763.7 410.5 L763.2 412.1 L762.7 413.6 L762.2 415.2 L761.7 416.7 L761.2 418.3 L760.7 419.8 L760.2 421.4 L759.7 422.9 L759.2 424.5 L758.7 426.0 L758.2 427.6 L757.7 429.1 L757.2 430.7 L756.7 432.2 L756.2 433.8 L755.7 435.3 L755.2 436.9 L754.7 438.4 L754.2 440.0 L753.7 441.5 L753.2 443.1 L752.7 444.6 L752.2 446.2 L751.7 447.7 L751.2 449.3 L750.7 450.8 L750.2 452.4 L749.7 453.9 L749.2 455.5 L748.7 457.1 L748.2 458.6 L747.7 460.2 L747.2 461.7 L746.7 463.3 L746.2 464.8 L745.7 466.4 L745.2 467.9 L744.6 469.5 L744.1 471.0 L743.6 472.6 L743.1 474.1 L742.6 475.7 L742.1 477.2 L741.6 478.8 L741.1 480.3 L740.6 481.9 L740.1 483.4 L739.6 485.0 L739.3 486.5 L738.9 488.1 L738.6 489.6 L738.3 491.2 L738.0 492.7 L737.7 494.3 L737.3 495.8 L737.0 497.4 L736.7 498.9 L736.4 500.5 L736.0 502.0 L735.7 503.6 L735.4 505.2 L735.1 506.7 L734.7 508.3 L734.4 509.8 L734.1 511.4 L733.8 512.9 L733.4 514.5 L733.1 516.0 L732.8 517.6 L732.5 519.1 L732.1 520.7 L731.8 522.2 L731.4 523.8 L731.1 525.3 L730.7 526.9 L730.4 528.4 L730.0 530.0 L729.7 531.5 L729.3 533.1 L729.0 534.6 L728.6 536.2 L728.3 537.7 L727.9 539.3 L727.6 540.8 L727.2 542.4 L726.9 543.9 L726.5 545.5 L726.2 547.0 L725.8 548.6 L725.5 550.1 L725.1 551.7 L724.8 553.3 L724.4 554.8 L724.1 556.4 L723.7 557.9 L723.4 559.5 L723.1 561.0 L722.7 562.6 L722.5 564.1 L722.3 565.7 L722.0 567.2 L721.8 568.8 L721.6 570.3 L721.4 571.9 L721.1 573.4 L720.9 575.0 L720.7 576.5 L720.5 578.1 L720.2 579.6 L720.0 581.2 L719.8 582.7 L719.6 584.3 L719.3 585.8 L719.1 587.4 L718.9 588.9 L718.7 590.5 L718.4 592.0 L718.2 593.6 L718.0 595.1 L717.8 596.7 L717.5 598.2 L717.3 599.8 L717.1 601.4 L716.9 602.9 L716.6 604.5 L716.4 606.0 L716.2 607.6 L716.0 609.1 L715.7 610.7 L715.7 612.2 L715.6 613.8 L715.6 615.3 L715.5 616.9 L715.5 618.4 L715.4 620.0 L715.4 621.5 L715.3 623.1 L715.3 624.6 L715.2 626.2 L715.2 627.7 L715.1 629.3 L715.1 630.8 L715.0 632.4 L715.0 633.9 L714.9 635.5 L714.9 637.0 L714.8 638.6 L714.8 640.1 L714.8 641.7 L714.8 643.2 L714.9 644.8 L714.9 646.3 L715.0 647.9 L715.0 649.4 L715.0 651.0 L715.1 652.6 L715.1 654.1 L715.1 655.7 L715.2 657.2 L715.2 658.8 L715.3 660.3 L715.3 661.9 L715.3 663.4 L715.4 665.0 L715.4 666.5 L715.5 668.1 L715.5 669.6 L715.5 671.2 L715.6 672.7 L715.6 674.3 L715.7 675.8 L715.7 677.4 L715.7 678.9 L715.9 680.5 L716.0 682.0 L716.1 683.6 L716.2 685.1 L716.3 686.7 L716.5 688.2 L716.6 689.8 L716.7 691.3 L716.8 692.9 L716.9 694.4 L717.1 696.0 L717.2 697.5 L717.3 699.1 L717.4 700.7 L717.5 702.2 L717.7 703.8 L717.8 705.3 L717.9 706.9 L718.0 708.4 L718.1 710.0 L718.2 711.5 L718.4 713.1 L718.5 714.6 L718.6 716.2 L718.7 717.7 L718.8 719.3 L718.9 720.8 L719.0 722.4 L719.1 723.9 L719.1 725.5 L719.2 727.0 L719.3 728.6 L719.4 730.1 L719.5 731.7 L719.6 733.2 L719.6 734.8 L719.7 736.3 L719.8 737.9 L719.9 739.4 L720.0 741.0 L720.1 742.5 L720.1 744.1 L720.2 745.6 L720.3 747.2 L720.4 748.8 L720.5 750.3 L720.5 751.9 L720.6 753.4 L720.7 755.0" stroke="#00ffff" stroke-width="6"/>
<g fill="#00ffff" stroke="none"><circle cx="642" cy="23" r="3.5"/><circle cx="646" cy="28" r="3"/><circle cx="640" cy="40" r="4"/><circle cx="648" cy="41" r="4"/><circle cx="652" cy="41" r="3.5"/><circle cx="676" cy="32" r="3.5"/><circle cx="695" cy="34" r="3"/><circle cx="722" cy="40" r="3.5"/><circle cx="738" cy="36" r="3.5"/><circle cx="746" cy="36" r="3"/><circle cx="792" cy="38" r="3"/><circle cx="626" cy="39" r="4"/><circle cx="619" cy="37" r="3.5"/></g>
<path d="M617.6 19.5 L618.0 21.1 L618.4 22.6 L618.8 24.2 L619.2 25.7 L619.6 27.3 L620.8 28.8 L622.0 30.4 L626.5 31.9 L634.5 33.5 L654.1 35.0 L685.3 36.6 L708.0 38.1 L727.9 39.7 L747.8 41.2 L762.7 42.8 L777.6 44.3 L792.5 45.9 L807.4 47.4 L817.3 49.0 L827.3 50.5 L837.2 52.1 L847.1 53.6 L857.1 55.2 L867.0 56.7 L876.9 58.3 L879.9 59.8 L882.9 61.4 L885.9 62.9 L888.9 64.5 L891.8 66.0 L893.5 67.6 L895.2 69.2 L896.8 70.7 L898.5 72.3 L900.1 73.8 L901.8 75.4 L903.4 76.9 L905.1 78.5 L906.8 80.0 L908.4 81.6 L910.1 83.1 L911.7 84.7 L913.6 86.2 L915.4 87.8 L917.3 89.3 L919.1 90.9 L921.0 92.4 L922.8 94.0 L924.6 95.5 L925.7 97.1 L926.8 98.6 L928.0 100.2 L929.1 101.7 L929.9 103.3 L930.5 104.8 L931.1 106.4 L931.7 107.9 L932.4 109.5 L933.0 111.0 L933.6 112.6 L933.8 114.1 L934.1 115.7 L934.4 117.3 L934.6 118.8 L934.9 120.4 L935.2 121.9 L935.4 123.5 L935.5 125.0 L935.3 126.6 L935.1 128.1 L934.9 129.7 L934.7 131.2 L934.2 132.8 L933.4 134.3 L932.6 135.9 L931.8 137.4 L931.0 139.0 L930.0 140.5 L928.8 142.1 L927.6 143.6 L926.4 145.2 L925.2 146.7 L924.0 148.3 L922.7 149.8 L921.4 151.4 L920.2 152.9 L918.9 154.5 L917.6 156.0 L916.3 157.6 L915.1 159.1 L914.0 160.7 L912.9 162.2 L911.7 163.8 L910.6 165.4 L909.5 166.9 L908.3 168.5 L907.2 170.0 L906.0 171.6 L904.9 173.1 L903.8 174.7 L902.7 176.2 L901.6 177.8 L900.5 179.3 L899.4 180.9 L898.3 182.4 L897.2 184.0 L896.1 185.5 L895.0 187.1 L893.9 188.6 L892.8 190.2 L891.7 191.7 L890.6 193.3 L889.5 194.8 L888.4 196.4 L887.4 197.9 L886.3 199.5 L885.3 201.0 L884.3 202.6 L883.2 204.1 L882.2 205.7 L881.2 207.2 L880.1 208.8 L879.1 210.3 L878.1 211.9 L877.0 213.5 L876.0 215.0 L875.0 216.6 L874.0 218.1 L873.1 219.7 L872.1 221.2 L871.2 222.8 L870.2 224.3 L869.3 225.9 L868.4 227.4 L867.4 229.0 L866.5 230.5 L865.6 232.1 L864.7 233.6 L863.8 235.2 L862.9 236.7 L862.1 238.3 L861.2 239.8 L860.3 241.4 L859.4 242.9 L858.5 244.5 L857.7 246.0 L856.8 247.6 L855.9 249.1 L855.0 250.7 L854.2 252.2 L853.3 253.8 L852.4 255.3 L851.5 256.9 L850.6 258.4 L849.8 260.0 L848.9 261.5 L848.0 263.1 L847.1 264.7 L845.8 266.2 L844.6 267.8 L843.3 269.3 L842.0 270.9 L840.7 272.4 L839.4 274.0 L838.1 275.5 L836.8 277.1 L835.6 278.6 L834.3 280.2 L833.0 281.7 L831.7 283.3 L830.4 284.8 L829.1 286.4 L827.8 287.9 L826.6 289.5 L825.3 291.0 L824.2 292.6 L823.0 294.1 L821.9 295.7 L820.8 297.2 L819.7 298.8 L818.6 300.3 L817.5 301.9 L816.4 303.4 L815.3 305.0 L814.1 306.5 L813.0 308.1 L811.9 309.6 L810.8 311.2 L809.7 312.8 L808.6 314.3 L807.5 315.9 L806.4 317.4 L805.2 319.0 L804.1 320.5 L803.0 322.1 L801.9 323.6 L800.8 325.2 L799.7 326.7 L798.6 328.3 L797.4 329.8 L796.6 331.4 L795.8 332.9 L795.0 334.5 L794.2 336.0 L793.4 337.6 L792.5 339.1 L791.7 340.7 L790.9 342.2 L790.1 343.8 L789.3 345.3 L788.4 346.9 L787.6 348.4 L786.8 350.0 L786.0 351.5 L785.2 353.1 L784.4 354.6 L783.5 356.2 L782.8 357.7 L782.0 359.3 L781.3 360.9 L780.5 362.4 L779.7 364.0 L779.0 365.5 L778.2 367.1 L777.5 368.6 L776.7 370.2 L775.9 371.7 L775.2 373.3 L774.4 374.8 L773.7 376.4 L772.9 377.9 L772.2 379.5 L771.4 381.0 L770.6 382.6 L769.9 384.1 L769.1 385.7 L768.4 387.2 L767.6 388.8 L766.8 390.3 L766.1 391.9 L765.3 393.4 L764.6 395.0 L763.8 396.5 L763.0 398.1 L762.4 399.6 L761.9 401.2 L761.4 402.7 L760.9 404.3 L760.4 405.8 L759.9 407.4 L759.4 409.0 L758.9 410.5 L758.4 412.1 L757.9 413.6 L757.5 415.2 L757.0 416.7 L756.5 418.3 L756.0 419.8 L755.5 421.4 L755.0 422.9 L754.5 424.5 L754.0 426.0 L753.5 427.6 L753.0 429.1 L752.5 430.7 L752.0 432.2 L751.5 433.8 L751.0 435.3 L750.5 436.9 L750.0 438.4 L749.5 440.0 L749.0 441.5 L748.5 443.1 L748.0 444.6 L747.5 446.2 L747.0 447.7 L746.5 449.3 L746.0 450.8 L745.5 452.4 L744.9 453.9 L744.4 455.5 L743.9 457.1 L743.4 458.6 L742.9 460.2 L742.4 461.7 L741.9 463.3 L741.4 464.8 L740.9 466.4 L740.4 467.9 L739.9 469.5 L739.4 471.0 L738.9 472.6 L738.4 474.1 L737.9 475.7 L737.4 477.2 L736.9 478.8 L736.4 480.3 L735.9 481.9 L735.3 483.4 L734.8 485.0 L734.5 486.5 L734.2 488.1 L733.9 489.6 L733.6 491.2 L733.3 492.7 L732.9 494.3 L732.6 495.8 L732.3 497.4 L732.0 498.9 L731.7 500.5 L731.4 502.0 L731.0 503.6 L730.7 505.2 L730.4 506.7 L730.1 508.3 L729.8 509.8 L729.5 511.4 L729.1 512.9 L728.8 514.5 L728.5 516.0 L728.2 517.6 L727.9 519.1 L727.5 520.7 L727.2 522.2 L726.8 523.8 L726.5 525.3 L726.2 526.9 L725.8 528.4 L725.5 530.0 L725.1 531.5 L724.8 533.1 L724.4 534.6 L724.1 536.2 L723.8 537.7 L723.4 539.3 L723.1 540.8 L722.7 542.4 L722.4 543.9 L722.0 545.5 L721.7 547.0 L721.4 548.6 L721.0 550.1 L720.7 551.7 L720.3 553.3 L720.0 554.8 L719.7 556.4 L719.3 557.9 L719.0 559.5 L718.6 561.0 L718.3 562.6 L718.1 564.1 L717.8 565.7 L717.6 567.2 L717.4 568.8 L717.2 570.3 L717.0 571.9 L716.8 573.4 L716.5 575.0 L716.3 576.5 L716.1 578.1 L715.9 579.6 L715.7 581.2 L715.5 582.7 L715.2 584.3 L715.0 585.8 L714.8 587.4 L714.6 588.9 L714.4 590.5 L714.1 592.0 L713.9 593.6 L713.7 595.1 L713.5 596.7 L713.3 598.2 L713.1 599.8 L712.8 601.4 L712.6 602.9 L712.4 604.5 L712.2 606.0 L711.9 607.6 L711.7 609.1 L711.5 610.7 L711.4 612.2 L711.4 613.8 L711.3 615.3 L711.3 616.9 L711.2 618.4 L711.2 620.0 L711.1 621.5 L711.1 623.1 L711.0 624.6 L711.0 626.2 L710.9 627.7 L710.9 629.3 L710.8 630.8 L710.8 632.4 L710.7 633.9 L710.7 635.5 L710.6 637.0 L710.6 638.6 L710.5 640.1 L710.5 641.7 L710.6 643.2 L710.6 644.8 L710.7 646.3 L710.7 647.9 L710.7 649.4 L710.8 651.0 L710.8 652.6 L710.9 654.1 L710.9 655.7 L710.9 657.2 L711.0 658.8 L711.0 660.3 L711.1 661.9 L711.1 663.4 L711.1 665.0 L711.2 666.5 L711.2 668.1 L711.3 669.6 L711.3 671.2 L711.3 672.7 L711.4 674.3 L711.4 675.8 L711.5 677.4 L711.5 678.9 L711.6 680.5 L711.7 682.0 L711.9 683.6 L712.0 685.1 L712.1 686.7 L712.2 688.2 L712.3 689.8 L712.4 691.3 L712.6 692.9 L712.7 694.4 L712.8 696.0 L712.9 697.5 L713.0 699.1 L713.2 700.7 L713.3 702.2 L713.4 703.8 L713.5 705.3 L713.6 706.9 L713.8 708.4 L713.9 710.0 L714.0 711.5 L714.1 713.1 L714.2 714.6 L714.4 716.2 L714.5 717.7 L714.6 719.3 L714.6 720.8 L714.7 722.4 L714.8 723.9 L714.9 725.5 L715.0 727.0 L715.1 728.6 L715.1 730.1 L715.2 731.7 L715.3 733.2 L715.4 734.8 L715.5 736.3 L715.6 737.9 L715.6 739.4 L715.7 741.0 L715.8 742.5 L715.9 744.1 L716.0 745.6 L716.1 747.2 L716.1 748.8 L716.2 750.3 L716.3 751.9 L716.4 753.4 L716.5 755.0 L725.0 755.0 L724.9 753.4 L724.8 751.9 L724.7 750.3 L724.6 748.8 L724.6 747.2 L724.5 745.6 L724.4 744.1 L724.3 742.5 L724.2 741.0 L724.1 739.4 L724.1 737.9 L724.0 736.3 L723.9 734.8 L723.8 733.2 L723.7 731.7 L723.6 730.1 L723.6 728.6 L723.5 727.0 L723.4 725.5 L723.3 723.9 L723.2 722.4 L723.1 720.8 L723.1 719.3 L723.0 717.7 L722.9 716.2 L722.7 714.6 L722.6 713.1 L722.5 711.5 L722.4 710.0 L722.3 708.4 L722.1 706.9 L722.0 705.3 L721.9 703.8 L721.8 702.2 L721.7 700.7 L721.5 699.1 L721.4 697.5 L721.3 696.0 L721.2 694.4 L721.1 692.9 L720.9 691.3 L720.8 689.8 L720.7 688.2 L720.6 686.7 L720.5 685.1 L720.4 683.6 L720.2 682.0 L720.1 680.5 L720.0 678.9 L720.0 677.4 L719.9 675.8 L719.9 674.3 L719.8 672.7 L719.8 671.2 L719.8 669.6 L719.7 668.1 L719.7 666.5 L719.6 665.0 L719.6 663.4 L719.6 661.9 L719.5 660.3 L719.5 658.8 L719.4 657.2 L719.4 655.7 L719.4 654.1 L719.3 652.6 L719.3 651.0 L719.2 649.4 L719.2 647.9 L719.2 646.3 L719.1 644.8 L719.1 643.2 L719.0 641.7 L719.0 640.1 L719.1 638.6 L719.1 637.0 L719.2 635.5 L719.2 633.9 L719.3 632.4 L719.3 630.8 L719.4 629.3 L719.4 627.7 L719.5 626.2 L719.5 624.6 L719.6 623.1 L719.6 621.5 L719.7 620.0 L719.7 618.4 L719.8 616.9 L719.8 615.3 L719.9 613.8 L719.9 612.2 L720.0 610.7 L720.2 609.1 L720.4 607.6 L720.7 606.0 L720.9 604.5 L721.1 602.9 L721.3 601.4 L721.6 599.8 L721.8 598.2 L722.0 596.7 L722.3 595.1 L722.5 593.6 L722.7 592.0 L723.0 590.5 L723.2 588.9 L723.4 587.4 L723.7 585.8 L723.9 584.3 L724.1 582.7 L724.3 581.2 L724.6 579.6 L724.8 578.1 L725.0 576.5 L725.3 575.0 L725.5 573.4 L725.7 571.9 L726.0 570.3 L726.2 568.8 L726.4 567.2 L726.7 565.7 L726.9 564.1 L727.1 562.6 L727.5 561.0 L727.8 559.5 L728.2 557.9 L728.5 556.4 L728.9 554.8 L729.3 553.3 L729.6 551.7 L730.0 550.1 L730.3 548.6 L730.7 547.0 L731.0 545.5 L731.4 543.9 L731.7 542.4 L732.1 540.8 L732.4 539.3 L732.8 537.7 L733.2 536.2 L733.5 534.6 L733.9 533.1 L734.2 531.5 L734.6 530.0 L734.9 528.4 L735.3 526.9 L735.6 525.3 L736.0 523.8 L736.4 522.2 L736.7 520.7 L737.1 519.1 L737.4 517.6 L737.7 516.0 L738.1 514.5 L738.4 512.9 L738.7 511.4 L739.1 509.8 L739.4 508.3 L739.7 506.7 L740.1 505.2 L740.4 503.6 L740.7 502.0 L741.0 500.5 L741.4 498.9 L741.7 497.4 L742.0 495.8 L742.4 494.3 L742.7 492.7 L743.0 491.2 L743.4 489.6 L743.7 488.1 L744.0 486.5 L744.3 485.0 L744.8 483.4 L745.4 481.9 L745.9 480.3 L746.4 478.8 L746.9 477.2 L747.4 475.7 L747.9 474.1 L748.4 472.6 L748.9 471.0 L749.4 469.5 L749.9 467.9 L750.4 466.4 L750.9 464.8 L751.4 463.3 L751.9 461.7 L752.4 460.2 L752.9 458.6 L753.4 457.1 L753.9 455.5 L754.4 453.9 L755.0 452.4 L755.5 450.8 L756.0 449.3 L756.5 447.7 L757.0 446.2 L757.5 444.6 L758.0 443.1 L758.5 441.5 L759.0 440.0 L759.5 438.4 L760.0 436.9 L760.5 435.3 L761.0 433.8 L761.5 432.2 L762.0 430.7 L762.5 429.1 L763.0 427.6 L763.5 426.0 L764.0 424.5 L764.5 422.9 L765.0 421.4 L765.5 419.8 L766.0 418.3 L766.5 416.7 L767.0 415.2 L767.4 413.6 L767.9 412.1 L768.4 410.5 L768.9 409.0 L769.4 407.4 L769.9 405.8 L770.4 404.3 L770.9 402.7 L771.4 401.2 L771.9 399.6 L772.5 398.1 L773.3 396.5 L774.1 395.0 L774.8 393.4 L775.6 391.9 L776.3 390.3 L777.1 388.8 L777.9 387.2 L778.6 385.7 L779.4 384.1 L780.1 382.6 L780.9 381.0 L781.7 379.5 L782.4 377.9 L783.2 376.4 L783.9 374.8 L784.7 373.3 L785.4 371.7 L786.2 370.2 L787.0 368.6 L787.7 367.1 L788.5 365.5 L789.2 364.0 L790.0 362.4 L790.8 360.9 L791.5 359.3 L792.3 357.7 L793.0 356.2 L793.9 354.6 L794.7 353.1 L795.5 351.5 L796.3 350.0 L797.1 348.4 L797.9 346.9 L798.8 345.3 L799.6 343.8 L800.4 342.2 L801.2 340.7 L802.0 339.1 L802.9 337.6 L803.7 336.0 L804.5 334.5 L805.3 332.9 L806.1 331.4 L806.9 329.8 L808.1 328.3 L809.2 326.7 L810.3 325.2 L811.4 323.6 L812.5 322.1 L813.6 320.5 L814.7 319.0 L815.9 317.4 L817.0 315.9 L818.1 314.3 L819.2 312.8 L820.3 311.2 L821.4 309.6 L822.5 308.1 L823.6 306.5 L824.8 305.0 L825.9 303.4 L827.0 301.9 L828.1 300.3 L829.2 298.8 L830.3 297.2 L831.4 295.7 L832.5 294.1 L833.7 292.6 L834.8 291.0 L836.1 289.5 L837.3 287.9 L838.6 286.4 L839.9 284.8 L841.2 283.3 L842.5 281.7 L843.8 280.2 L845.1 278.6 L846.3 277.1 L847.6 275.5 L848.9 274.0 L850.2 272.4 L851.5 270.9 L852.8 269.3 L854.1 267.8 L855.3 266.2 L856.6 264.7 L857.5 263.1 L858.4 261.5 L859.3 260.0 L860.1 258.4 L861.0 256.9 L861.9 255.3 L862.8 253.8 L863.7 252.2 L864.5 250.7 L865.4 249.1 L866.3 247.6 L867.2 246.0 L868.0 244.5 L868.9 242.9 L869.8 241.4 L870.7 239.8 L871.6 238.3 L872.4 236.7 L873.3 235.2 L874.2 233.6 L875.1 232.1 L876.0 230.5 L876.9 229.0 L877.9 227.4 L878.8 225.9 L879.7 224.3 L880.7 222.8 L881.6 221.2 L882.6 219.7 L883.5 218.1 L884.5 216.6 L885.5 215.0 L886.5 213.5 L887.6 211.9 L888.6 210.3 L889.6 208.8 L890.7 207.2 L891.7 205.7 L892.7 204.1 L893.8 202.6 L894.8 201.0 L895.8 199.5 L896.9 197.9 L897.9 196.4 L899.0 194.8 L900.1 193.3 L901.2 191.7 L902.3 190.2 L903.4 188.6 L904.5 187.1 L905.6 185.5 L906.7 184.0 L907.8 182.4 L908.9 180.9 L910.0 179.3 L911.1 177.8 L912.2 176.2 L913.3 174.7 L914.4 173.1 L915.5 171.6 L916.7 170.0 L917.8 168.5 L919.0 166.9 L920.1 165.4 L921.2 163.8 L922.4 162.2 L923.5 160.7 L924.6 159.1 L925.8 157.6 L927.1 156.0 L928.4 154.5 L929.7 152.9 L930.9 151.4 L932.2 149.8 L933.5 148.3 L934.7 146.7 L935.9 145.2 L937.1 143.6 L938.3 142.1 L939.5 140.5 L940.5 139.0 L941.3 137.4 L942.1 135.9 L942.9 134.3 L943.7 132.8 L944.2 131.2 L944.4 129.7 L944.6 128.1 L944.8 126.6 L945.0 125.0 L944.9 123.5 L944.7 121.9 L944.4 120.4 L944.1 118.8 L943.9 117.3 L943.6 115.7 L943.3 114.1 L943.1 112.6 L942.5 111.0 L941.9 109.5 L941.2 107.9 L940.6 106.4 L940.0 104.8 L939.4 103.3 L938.6 101.7 L937.5 100.2 L936.3 98.6 L935.2 97.1 L934.1 95.5 L932.3 94.0 L930.5 92.4 L928.6 90.9 L926.8 89.3 L924.9 87.8 L923.1 86.2 L921.2 84.7 L919.6 83.1 L917.9 81.6 L916.3 80.0 L914.6 78.5 L912.9 76.9 L911.3 75.4 L909.6 73.8 L908.0 72.3 L906.3 70.7 L904.7 69.2 L903.0 67.6 L901.3 66.0 L898.4 64.5 L895.4 62.9 L892.4 61.4 L889.4 59.8 L886.4 58.3 L876.5 56.7 L866.6 55.2 L856.6 53.6 L846.7 52.1 L836.8 50.5 L826.8 49.0 L816.9 47.4 L802.0 45.9 L787.1 44.3 L772.2 42.8 L757.3 41.2 L737.4 39.7 L717.5 38.1 L694.8 36.6 L663.6 35.0 L644.0 33.5 L636.0 31.9 L631.5 30.4 L630.3 28.8 L629.1 27.3 L628.7 25.7 L628.3 24.2 L627.9 22.6 L627.5 21.1 L627.1 19.5Z" fill="#0000ff" stroke="#0000ff" stroke-width="3"/>
<path d="M622.3 19.5 L622.7 21.1 L623.1 22.6 L623.5 24.2 L623.9 25.7 L624.3 27.3 L625.5 28.8 L626.7 30.4 L631.3 31.9 L639.2 33.5 L658.8 35.0 L690.1 36.6 L712.8 38.1 L732.6 39.7 L752.5 41.2 L767.4 42.8 L782.3 44.3 L797.2 45.9 L812.1 47.4 L822.1 49.0 L832.0 50.5 L841.9 52.1 L851.9 53.6 L861.8 55.2 L871.8 56.7 L881.7 58.3 L884.7 59.8 L887.7 61.4 L890.6 62.9 L893.6 64.5 L896.6 66.0 L898.3 67.6 L899.9 69.2 L901.6 70.7 L903.2 72.3 L904.9 73.8 L906.5 75.4 L908.2 76.9 L909.8 78.5 L911.5 80.0 L913.2 81.6 L914.8 83.1 L916.5 84.7 L918.3 86.2 L920.2 87.8 L922.0 89.3 L923.9 90.9 L925.7 92.4 L927.5 94.0 L929.4 95.5 L930.5 97.1 L931.6 98.6 L932.7 100.2 L933.8 101.7 L934.7 103.3 L935.3 104.8 L935.9 106.4 L936.5 107.9 L937.1 109.5 L937.7 111.0 L938.3 112.6 L938.6 114.1 L938.9 115.7 L939.1 117.3 L939.4 118.8 L939.7 120.4 L939.9 121.9 L940.2 123.5 L940.2 125.0 L940.0 126.6 L939.8 128.1 L939.6 129.7 L939.4 131.2 L938.9 132.8 L938.1 134.3 L937.3 135.9 L936.5 137.4 L935.8 139.0 L934.8 140.5 L933.6 142.1 L932.4 143.6 L931.2 145.2 L930.0 146.7 L928.8 148.3 L927.5 149.8 L926.2 151.4 L924.9 152.9 L923.6 154.5 L922.4 156.0 L921.1 157.6 L919.9 159.1 L918.7 160.7 L917.6 162.2 L916.5 163.8 L915.3 165.4 L914.2 166.9 L913.1 168.5 L911.9 170.0 L910.8 171.6 L909.7 173.1 L908.5 174.7 L907.4 176.2 L906.3 177.8 L905.2 179.3 L904.1 180.9 L903.0 182.4 L901.9 184.0 L900.8 185.5 L899.8 187.1 L898.7 188.6 L897.6 190.2 L896.5 191.7 L895.4 193.3 L894.3 194.8 L893.2 196.4 L892.1 197.9 L891.1 199.5 L890.0 201.0 L889.0 202.6 L888.0 204.1 L886.9 205.7 L885.9 207.2 L884.9 208.8 L883.8 210.3 L882.8 211.9 L881.8 213.5 L880.7 215.0 L879.7 216.6 L878.8 218.1 L877.8 219.7 L876.9 221.2 L875.9 222.8 L875.0 224.3 L874.1 225.9 L873.1 227.4 L872.2 229.0 L871.2 230.5 L870.3 232.1 L869.4 233.6 L868.6 235.2 L867.7 236.7 L866.8 238.3 L865.9 239.8 L865.1 241.4 L864.2 242.9 L863.3 244.5 L862.4 246.0 L861.5 247.6 L860.7 249.1 L859.8 250.7 L858.9 252.2 L858.0 253.8 L857.2 255.3 L856.3 256.9 L855.4 258.4 L854.5 260.0 L853.6 261.5 L852.8 263.1 L851.9 264.7 L850.6 266.2 L849.3 267.8 L848.0 269.3 L846.7 270.9 L845.5 272.4 L844.2 274.0 L842.9 275.5 L841.6 277.1 L840.3 278.6 L839.0 280.2 L837.7 281.7 L836.5 283.3 L835.2 284.8 L833.9 286.4 L832.6 287.9 L831.3 289.5 L830.0 291.0 L828.9 292.6 L827.8 294.1 L826.7 295.7 L825.6 297.2 L824.5 298.8 L823.3 300.3 L822.2 301.9 L821.1 303.4 L820.0 305.0 L818.9 306.5 L817.8 308.1 L816.7 309.6 L815.6 311.2 L814.4 312.8 L813.3 314.3 L812.2 315.9 L811.1 317.4 L810.0 319.0 L808.9 320.5 L807.8 322.1 L806.6 323.6 L805.5 325.2 L804.4 326.7 L803.3 328.3 L802.2 329.8 L801.4 331.4 L800.6 332.9 L799.7 334.5 L798.9 336.0 L798.1 337.6 L797.3 339.1 L796.5 340.7 L795.7 342.2 L794.8 343.8 L794.0 345.3 L793.2 346.9 L792.4 348.4 L791.6 350.0 L790.7 351.5 L789.9 353.1 L789.1 354.6 L788.3 356.2 L787.5 357.7 L786.8 359.3 L786.0 360.9 L785.3 362.4 L784.5 364.0 L783.7 365.5 L783.0 367.1 L782.2 368.6 L781.5 370.2 L780.7 371.7 L779.9 373.3 L779.2 374.8 L778.4 376.4 L777.7 377.9 L776.9 379.5 L776.1 381.0 L775.4 382.6 L774.6 384.1 L773.9 385.7 L773.1 387.2 L772.4 388.8 L771.6 390.3 L770.8 391.9 L770.1 393.4 L769.3 395.0 L768.6 396.5 L767.8 398.1 L767.2 399.6 L766.7 401.2 L766.2 402.7 L765.7 404.3 L765.2 405.8 L764.7 407.4 L764.2 409.0 L763.7 410.5 L763.2 412.1 L762.7 413.6 L762.2 415.2 L761.7 416.7 L761.2 418.3 L760.7 419.8 L760.2 421.4 L759.7 422.9 L759.2 424.5 L758.7 426.0 L758.2 427.6 L757.7 429.1 L757.2 430.7 L756.7 432.2 L756.2 433.8 L755.7 435.3 L755.2 436.9 L754.7 438.4 L754.2 440.0 L753.7 441.5 L753.2 443.1 L752.7 444.6 L752.2 446.2 L751.7 447.7 L751.2 449.3 L750.7 450.8 L750.2 452.4 L749.7 453.9 L749.2 455.5 L748.7 457.1 L748.2 458.6 L747.7 460.2 L747.2 461.7 L746.7 463.3 L746.2 464.8 L745.7 466.4 L745.2 467.9 L744.6 469.5 L744.1 471.0 L743.6 472.6 L743.1 474.1 L742.6 475.7 L742.1 477.2 L741.6 478.8 L741.1 480.3 L740.6 481.9 L740.1 483.4 L739.6 485.0 L739.3 486.5 L738.9 488.1 L738.6 489.6 L738.3 491.2 L738.0 492.7 L737.7 494.3 L737.3 495.8 L737.0 497.4 L736.7 498.9 L736.4 500.5 L736.0 502.0 L735.7 503.6 L735.4 505.2 L735.1 506.7 L734.7 508.3 L734.4 509.8 L734.1 511.4 L733.8 512.9 L733.4 514.5 L733.1 516.0 L732.8 517.6 L732.5 519.1 L732.1 520.7 L731.8 522.2 L731.4 523.8 L731.1 525.3 L730.7 526.9 L730.4 528.4 L730.0 530.0 L729.7 531.5 L729.3 533.1 L729.0 534.6 L728.6 536.2 L728.3 537.7 L727.9 539.3 L727.6 540.8 L727.2 542.4 L726.9 543.9 L726.5 545.5 L726.2 547.0 L725.8 548.6 L725.5 550.1 L725.1 551.7 L724.8 553.3 L724.4 554.8 L724.1 556.4 L723.7 557.9 L723.4 559.5 L723.1 561.0 L722.7 562.6 L722.5 564.1 L722.3 565.7 L722.0 567.2 L721.8 568.8 L721.6 570.3 L721.4 571.9 L721.1 573.4 L720.9 575.0 L720.7 576.5 L720.5 578.1 L720.2 579.6 L720.0 581.2 L719.8 582.7 L719.6 584.3 L719.3 585.8 L719.1 587.4 L718.9 588.9 L718.7 590.5 L718.4 592.0 L718.2 593.6 L718.0 595.1 L717.8 596.7 L717.5 598.2 L717.3 599.8 L717.1 601.4 L716.9 602.9 L716.6 604.5 L716.4 606.0 L716.2 607.6 L716.0 609.1 L715.7 610.7 L715.7 612.2 L715.6 613.8 L715.6 615.3 L715.5 616.9 L715.5 618.4 L715.4 620.0 L715.4 621.5 L715.3 623.1 L715.3 624.6 L715.2 626.2 L715.2 627.7 L715.1 629.3 L715.1 630.8 L715.0 632.4 L715.0 633.9 L714.9 635.5 L714.9 637.0 L714.8 638.6 L714.8 640.1 L714.8 641.7 L714.8 643.2 L714.9 644.8 L714.9 646.3 L715.0 647.9 L715.0 649.4 L715.0 651.0 L715.1 652.6 L715.1 654.1 L715.1 655.7 L715.2 657.2 L715.2 658.8 L715.3 660.3 L715.3 661.9 L715.3 663.4 L715.4 665.0 L715.4 666.5 L715.5 668.1 L715.5 669.6 L715.5 671.2 L715.6 672.7 L715.6 674.3 L715.7 675.8 L715.7 677.4 L715.7 678.9 L715.9 680.5 L716.0 682.0 L716.1 683.6 L716.2 685.1 L716.3 686.7 L716.5 688.2 L716.6 689.8 L716.7 691.3 L716.8 692.9 L716.9 694.4 L717.1 696.0 L717.2 697.5 L717.3 699.1 L717.4 700.7 L717.5 702.2 L717.7 703.8 L717.8 705.3 L717.9 706.9 L718.0 708.4 L718.1 710.0 L718.2 711.5 L718.4 713.1 L718.5 714.6 L718.6 716.2 L718.7 717.7 L718.8 719.3 L718.9 720.8 L719.0 722.4 L719.1 723.9 L719.1 725.5 L719.2 727.0 L719.3 728.6 L719.4 730.1 L719.5 731.7 L719.6 733.2 L719.6 734.8 L719.7 736.3 L719.8 737.9 L719.9 739.4 L720.0 741.0 L720.1 742.5 L720.1 744.1 L720.2 745.6 L720.3 747.2 L720.4 748.8 L720.5 750.3 L720.5 751.9 L720.6 753.4 L720.7 755.0" stroke="#0000ff" stroke-width="4"/>
<circle cx="720.7" cy="755.0" r="5.8" fill="#0000ff" stroke="none"/>
<path d="M658.6 19.5 L658.6 21.1 L658.6 22.6 L658.6 24.2 L658.6 25.7 L658.6 27.3 L658.6 28.8 L660.1 31.1 L673.0 35.0 L702.8 38.9 L727.7 42.8 L747.5 46.7 L772.4 50.5 L797.2 54.4 L819.1 58.3 L851.9 66.0 L866.8 73.8 L872.8 81.6 L884.7 89.3 L907.5 97.1 L927.4 116.5 L926.4 135.9 L904.5 174.7 L875.7 213.5 L854.9 252.2 L832.0 291.0 L809.2 329.8 L767.4 407.4 L739.6 485.0 L724.7 562.6 L717.7 640.1 L716.7 717.7 L717.7 795.3" stroke="#ff0000" stroke-width="3.2"/>
<path d="M658.6 19.5 L658.6 21.1 L658.6 22.6 L658.6 24.2 L658.6 25.7 L658.6 27.3 L658.6 28.8 L660.1 31.1 L673.0 35.0 L702.8 38.9 L727.7 42.8 L747.5 46.7 L772.4 50.5 L797.2 54.4 L819.1 58.3 L851.9 66.0 L866.8 73.8 L872.8 81.6 L884.7 89.3 L907.5 97.1" stroke="#ff0000" stroke-width="8.5"/>
<path d="M904.5 174.7 L875.7 213.5 L854.9 252.2" stroke="#ff0000" stroke-width="8"/>
<path d="M716.7 717.7 L717.7 795.3" stroke="#ff0000" stroke-width="10"/>
<g fill="#ff0000" stroke="none"><circle cx="658.6" cy="19.5" r="6"/><circle cx="658.6" cy="21.1" r="6"/><circle cx="658.6" cy="22.6" r="6"/><circle cx="658.6" cy="24.2" r="6"/><circle cx="658.6" cy="25.7" r="6"/><circle cx="658.6" cy="27.3" r="6"/><circle cx="658.6" cy="28.8" r="6"/><circle cx="660.1" cy="31.1" r="6"/><circle cx="673.0" cy="35.0" r="6"/><circle cx="702.8" cy="38.9" r="6"/><circle cx="727.7" cy="42.8" r="6"/><circle cx="747.5" cy="46.7" r="6"/><circle cx="772.4" cy="50.5" r="6"/><circle cx="797.2" cy="54.4" r="6"/><circle cx="819.1" cy="58.3" r="6"/><circle cx="851.9" cy="66.0" r="6"/><circle cx="866.8" cy="73.8" r="6"/><circle cx="872.8" cy="81.6" r="6"/><circle cx="884.7" cy="89.3" r="6"/><circle cx="907.5" cy="97.1" r="6"/><circle cx="927.4" cy="116.5" r="6"/><circle cx="926.4" cy="135.9" r="6"/><circle cx="904.5" cy="174.7" r="6"/><circle cx="875.7" cy="213.5" r="6"/><circle cx="854.9" cy="252.2" r="6"/><circle cx="832.0" cy="291.0" r="6"/><circle cx="809.2" cy="329.8" r="6"/><circle cx="767.4" cy="407.4" r="6"/><circle cx="739.6" cy="485.0" r="6"/><circle cx="724.7" cy="562.6" r="6"/><circle cx="717.7" cy="640.1" r="6"/><circle cx="716.7" cy="717.7" r="6"/><circle cx="717.7" cy="795.3" r="6"/></g>
<path d="M752.5 19.5 L752.5 21.1 L752.5 22.6 L752.5 24.2 L752.5 25.7 L752.5 27.3 L752.5 28.8 L752.5 31.1 L752.5 35.0 L766.4 38.9 L799.2 42.8 L827.0 46.7 L849.9 50.5 L856.9 54.4 L866.8 58.3 L880.7 66.0 L906.5 73.8 L917.5 81.6 L924.4 89.3 L932.4 97.1 L930.4 116.5 L927.4 135.9 L911.5 174.7 L888.6 213.5 L871.8 252.2 L854.9 291.0 L825.1 329.8 L779.3 407.4 L748.5 485.0 L722.7 562.6 L714.8 640.1 L715.7 717.7 L717.7 795.3" stroke="#008000" stroke-width="2.7"/>
<g fill="#008000" stroke="none"><circle cx="752.5" cy="19.5" r="6"/><circle cx="752.5" cy="21.1" r="6"/><circle cx="752.5" cy="22.6" r="6"/><circle cx="752.5" cy="24.2" r="6"/><circle cx="752.5" cy="25.7" r="6"/><circle cx="752.5" cy="27.3" r="6"/><circle cx="752.5" cy="28.8" r="6"/><circle cx="752.5" cy="31.1" r="6"/><circle cx="752.5" cy="35.0" r="6"/><circle cx="766.4" cy="38.9" r="6"/><circle cx="799.2" cy="42.8" r="6"/><circle cx="827.0" cy="46.7" r="6"/><circle cx="849.9" cy="50.5" r="6"/><circle cx="856.9" cy="54.4" r="6"/><circle cx="866.8" cy="58.3" r="6"/><circle cx="880.7" cy="66.0" r="6"/><circle cx="906.5" cy="73.8" r="6"/><circle cx="917.5" cy="81.6" r="6"/><circle cx="924.4" cy="89.3" r="6"/><circle cx="932.4" cy="97.1" r="6"/><circle cx="930.4" cy="116.5" r="6"/><circle cx="927.4" cy="135.9" r="6"/><circle cx="911.5" cy="174.7" r="6"/><circle cx="888.6" cy="213.5" r="6"/><circle cx="871.8" cy="252.2" r="6"/><circle cx="854.9" cy="291.0" r="6"/><circle cx="825.1" cy="329.8" r="6"/><circle cx="779.3" cy="407.4" r="6"/><circle cx="748.5" cy="485.0" r="6"/><circle cx="722.7" cy="562.6" r="6"/><circle cx="714.8" cy="640.1" r="6"/><circle cx="715.7" cy="717.7" r="6"/><circle cx="717.7" cy="795.3" r="6"/></g>
<path d="M633.3 19.9 L633.4 20.7 L633.4 21.6 L633.5 22.5 L633.6 23.4 L633.7 24.5 L633.8 25.7 L633.9 26.9 L634.0 28.3 L634.1 30.0 L634.3 31.8 L637.2 33.9 L656.1 36.3 L685.9 39.1 L716.7 42.3 L751.5 46.2 L788.3 50.8 L822.1 56.3 L850.9 62.8 L875.7 70.5 L896.6 79.9 L912.5 91.1 L926.4 104.6 L936.3 120.9 L931.4 140.4 L911.5 163.9 L890.6 192.1 L878.7 225.9 L859.8 266.3 L830.0 314.5 L797.2 371.6 L755.5 439.3 L730.7 518.8 L715.7 611.7 L715.7 719.5" stroke="#ff00ff" stroke-width="2.1"/>
<g fill="#ff00ff" stroke="none"><circle cx="633.3" cy="19.9" r="6"/><circle cx="633.4" cy="20.7" r="6"/><circle cx="633.4" cy="21.6" r="6"/><circle cx="633.5" cy="22.5" r="6"/><circle cx="633.6" cy="23.4" r="6"/><circle cx="633.7" cy="24.5" r="6"/><circle cx="633.8" cy="25.7" r="6"/><circle cx="633.9" cy="26.9" r="6"/><circle cx="634.0" cy="28.3" r="6"/><circle cx="634.1" cy="30.0" r="6"/><circle cx="634.3" cy="31.8" r="6"/><circle cx="637.2" cy="33.9" r="6"/><circle cx="656.1" cy="36.3" r="6"/><circle cx="685.9" cy="39.1" r="6"/><circle cx="716.7" cy="42.3" r="6"/><circle cx="751.5" cy="46.2" r="6"/><circle cx="788.3" cy="50.8" r="6"/><circle cx="822.1" cy="56.3" r="6"/><circle cx="850.9" cy="62.8" r="6"/><circle cx="875.7" cy="70.5" r="6"/><circle cx="896.6" cy="79.9" r="6"/><circle cx="912.5" cy="91.1" r="6"/><circle cx="926.4" cy="104.6" r="6"/><circle cx="936.3" cy="120.9" r="6"/><circle cx="931.4" cy="140.4" r="6"/><circle cx="911.5" cy="163.9" r="6"/><circle cx="890.6" cy="192.1" r="6"/><circle cx="878.7" cy="225.9" r="6"/><circle cx="859.8" cy="266.3" r="6"/><circle cx="830.0" cy="314.5" r="6"/><circle cx="797.2" cy="371.6" r="6"/><circle cx="755.5" cy="439.3" r="6"/><circle cx="730.7" cy="518.8" r="6"/><circle cx="715.7" cy="611.7" r="6"/><circle cx="715.7" cy="719.5" r="6"/></g>
</g>
<rect x="594.5" y="19.5" width="381.9" height="783.9" fill="none" stroke="#000" stroke-width="1.4"/>
<path d="M594.5 19.50h-6 M594.5 97.08h-6 M594.5 174.66h-6 M594.5 252.24h-6 M594.5 329.82h-6 M594.5 407.40h-6 M594.5 484.98h-6 M594.5 562.56h-6 M594.5 640.14h-6 M594.5 717.72h-6 M594.5 795.30h-6 M628.30 803.4v6 M727.67 803.4v6 M827.04 803.4v6 M926.41 803.4v6" stroke="#000" stroke-width="1.4" fill="none"/>
<text x="617.84" y="829.70" font-size="18.48" textLength="21.11" lengthAdjust="spacingAndGlyphs">34</text>
<text x="717.23" y="829.70" font-size="18.48" textLength="20.81" lengthAdjust="spacingAndGlyphs">35</text>
<text x="816.58" y="829.70" font-size="18.48" textLength="21.28" lengthAdjust="spacingAndGlyphs">36</text>
<text x="915.96" y="829.70" font-size="18.48" textLength="20.96" lengthAdjust="spacingAndGlyphs">37</text>
<path d="M1089.3 19.50H1471.4 M1089.3 97.08H1471.4 M1089.3 174.66H1471.4 M1089.3 252.24H1471.4 M1089.3 329.82H1471.4 M1089.3 407.40H1471.4 M1089.3 484.98H1471.4 M1089.3 562.56H1471.4 M1089.3 640.14H1471.4 M1089.3 717.72H1471.4 M1089.3 795.30H1471.4 M1138.40 19.5V803.4 M1200.56 19.5V803.4 M1262.72 19.5V803.4 M1324.88 19.5V803.4 M1387.04 19.5V803.4 M1449.20 19.5V803.4" stroke="#a0a0a0" stroke-width="0.87" stroke-dasharray="3.2 1.4" fill="none"/>
<g clip-path="url(#c2)" stroke-linejoin="round" stroke-linecap="round" fill="none">
<path d="M1104.4 19.5 L1104.5 21.1 L1104.6 22.6 L1104.7 24.2 L1104.9 25.7 L1105.0 27.3 L1105.1 28.8 L1105.2 30.4 L1105.8 31.9 L1106.9 33.5 L1108.0 35.0 L1109.0 36.6 L1112.9 38.1 L1116.8 39.7 L1122.2 41.2 L1127.7 42.8 L1132.7 44.3 L1137.6 45.9 L1142.3 47.4 L1146.6 49.0 L1151.0 50.5 L1155.0 52.1 L1159.0 53.6 L1163.0 55.2 L1166.5 56.7 L1169.6 58.3 L1172.8 59.8 L1175.9 61.4 L1179.0 62.9 L1181.9 64.5 L1184.8 66.0 L1187.7 67.6 L1190.7 69.2 L1193.6 70.7 L1195.9 72.3 L1198.2 73.8 L1200.6 75.4 L1202.9 76.9 L1205.2 78.5 L1207.6 80.0 L1209.6 81.6 L1211.6 83.1 L1213.7 84.7 L1215.7 86.2 L1217.8 87.8 L1219.8 89.3 L1221.9 90.9 L1223.5 92.4 L1225.1 94.0 L1226.7 95.5 L1228.3 97.1 L1230.0 98.6 L1231.6 100.2 L1233.2 101.7 L1234.8 103.3 L1236.5 104.8 L1238.1 106.4 L1239.7 107.9 L1241.3 109.5 L1242.9 111.0 L1244.5 112.6 L1246.2 114.1 L1247.8 115.7 L1249.4 117.3 L1251.0 118.8 L1252.6 120.4 L1253.8 121.9 L1255.1 123.5 L1256.3 125.0 L1257.5 126.6 L1258.7 128.1 L1259.9 129.7 L1261.2 131.2 L1262.4 132.8 L1263.6 134.3 L1264.8 135.9 L1266.0 137.4 L1267.2 139.0 L1268.5 140.5 L1269.8 142.1 L1271.1 143.6 L1272.4 145.2 L1273.6 146.7 L1274.9 148.3 L1276.2 149.8 L1277.5 151.4 L1278.5 152.9 L1279.5 154.5 L1280.5 156.0 L1281.5 157.6 L1282.5 159.1 L1283.5 160.7 L1284.5 162.2 L1285.3 163.8 L1286.0 165.4 L1286.8 166.9 L1287.5 168.5 L1288.2 170.0 L1289.0 171.6 L1289.7 173.1 L1290.4 174.7 L1291.1 176.2 L1291.9 177.8 L1292.6 179.3 L1293.3 180.9 L1294.1 182.4 L1294.8 184.0 L1295.5 185.5 L1296.2 187.1 L1297.0 188.6 L1297.7 190.2 L1298.1 191.7 L1298.5 193.3 L1299.0 194.8 L1299.4 196.4 L1299.8 197.9 L1300.3 199.5 L1300.7 201.0 L1301.1 202.6 L1301.5 204.1 L1302.0 205.7 L1302.4 207.2 L1302.8 208.8 L1303.3 210.3 L1303.7 211.9 L1304.1 213.5 L1304.5 215.0 L1305.0 216.6 L1305.4 218.1 L1305.8 219.7 L1306.3 221.2 L1306.7 222.8 L1307.1 224.3 L1307.6 225.9 L1308.0 227.4 L1308.5 229.0 L1309.0 230.5 L1309.5 232.1 L1310.0 233.6 L1310.5 235.2 L1310.9 236.7 L1311.4 238.3 L1311.9 239.8 L1312.4 241.4 L1312.9 242.9 L1313.3 244.5 L1313.8 246.0 L1314.3 247.6 L1314.8 249.1 L1315.3 250.7 L1315.7 252.2 L1316.2 253.8 L1316.7 255.3 L1317.2 256.9 L1317.7 258.4 L1318.1 260.0 L1318.6 261.5 L1319.1 263.1 L1319.6 264.7 L1320.1 266.2 L1320.5 267.8 L1321.0 269.3 L1321.4 270.9 L1321.9 272.4 L1322.3 274.0 L1322.8 275.5 L1323.2 277.1 L1323.7 278.6 L1324.1 280.2 L1324.6 281.7 L1325.0 283.3 L1325.5 284.8 L1325.9 286.4 L1326.4 287.9 L1326.8 289.5 L1327.3 291.0 L1327.7 292.6 L1328.2 294.1 L1328.6 295.7 L1329.1 297.2 L1329.5 298.8 L1330.0 300.3 L1330.4 301.9 L1330.9 303.4 L1331.3 305.0 L1331.8 306.5 L1332.3 308.1 L1332.7 309.6 L1333.2 311.2 L1333.6 312.8 L1334.1 314.3 L1334.5 315.9 L1334.9 317.4 L1335.4 319.0 L1335.8 320.5 L1336.2 322.1 L1336.7 323.6 L1337.1 325.2 L1337.5 326.7 L1338.0 328.3 L1338.4 329.8 L1338.9 331.4 L1339.3 332.9 L1339.7 334.5 L1340.2 336.0 L1340.6 337.6 L1341.0 339.1 L1341.5 340.7 L1341.9 342.2 L1342.4 343.8 L1342.8 345.3 L1343.2 346.9 L1343.7 348.4 L1344.1 350.0 L1344.5 351.5 L1345.0 353.1 L1345.4 354.6 L1345.8 356.2 L1346.3 357.7 L1346.7 359.3 L1347.2 360.9 L1347.6 362.4 L1348.0 364.0 L1348.5 365.5 L1348.9 367.1 L1349.3 368.6 L1349.8 370.2 L1350.2 371.7 L1350.6 373.3 L1351.0 374.8 L1351.5 376.4 L1351.9 377.9 L1352.3 379.5 L1352.7 381.0 L1353.1 382.6 L1353.5 384.1 L1353.9 385.7 L1354.4 387.2 L1354.8 388.8 L1355.2 390.3 L1355.6 391.9 L1356.0 393.4 L1356.4 395.0 L1356.8 396.5 L1357.3 398.1 L1357.7 399.6 L1358.1 401.2 L1358.5 402.7 L1358.9 404.3 L1359.3 405.8 L1359.7 407.4 L1360.2 409.0 L1360.6 410.5 L1361.0 412.1 L1361.4 413.6 L1361.8 415.2 L1362.2 416.7 L1362.6 418.3 L1363.1 419.8 L1363.5 421.4 L1363.9 422.9 L1364.3 424.5 L1364.7 426.0 L1365.1 427.6 L1365.5 429.1 L1366.0 430.7 L1366.4 432.2 L1366.8 433.8 L1367.2 435.3 L1367.6 436.9 L1368.0 438.4 L1368.4 440.0 L1368.8 441.5 L1369.2 443.1 L1369.6 444.6 L1369.9 446.2 L1370.3 447.7 L1370.7 449.3 L1371.1 450.8 L1371.5 452.4 L1371.8 453.9 L1372.2 455.5 L1372.6 457.1 L1373.0 458.6 L1373.3 460.2 L1373.7 461.7 L1374.1 463.3 L1374.5 464.8 L1374.9 466.4 L1375.2 467.9 L1375.6 469.5 L1376.0 471.0 L1376.4 472.6 L1376.7 474.1 L1377.1 475.7 L1377.5 477.2 L1377.9 478.8 L1378.3 480.3 L1378.6 481.9 L1379.0 483.4 L1379.4 485.0 L1379.8 486.5 L1380.1 488.1 L1380.5 489.6 L1380.9 491.2 L1381.3 492.7 L1381.7 494.3 L1382.0 495.8 L1382.4 497.4 L1382.8 498.9 L1383.2 500.5 L1383.5 502.0 L1383.9 503.6 L1384.3 505.2 L1384.7 506.7 L1385.1 508.3 L1385.4 509.8 L1385.8 511.4 L1386.2 512.9 L1386.6 514.5 L1386.9 516.0 L1387.3 517.6 L1387.7 519.1 L1388.1 520.7 L1388.4 522.2 L1388.8 523.8 L1389.2 525.3 L1389.6 526.9 L1389.9 528.4 L1390.3 530.0 L1390.7 531.5 L1391.0 533.1 L1391.4 534.6 L1391.8 536.2 L1392.1 537.7 L1392.5 539.3 L1392.9 540.8 L1393.3 542.4 L1393.6 543.9 L1394.0 545.5 L1394.4 547.0 L1394.7 548.6 L1395.1 550.1 L1395.5 551.7 L1395.9 553.3 L1396.2 554.8 L1396.6 556.4 L1397.0 557.9 L1397.3 559.5 L1397.7 561.0 L1398.1 562.6 L1398.5 564.1 L1398.8 565.7 L1399.2 567.2 L1399.6 568.8 L1399.9 570.3 L1400.3 571.9 L1400.7 573.4 L1401.0 575.0 L1401.4 576.5 L1401.8 578.1 L1402.2 579.6 L1402.5 581.2 L1402.9 582.7 L1403.3 584.3 L1403.6 585.8 L1404.0 587.4 L1404.4 588.9 L1404.8 590.5 L1405.1 592.0 L1405.5 593.6 L1405.9 595.1 L1406.2 596.7 L1406.6 598.2 L1407.0 599.8 L1407.4 601.4 L1407.7 602.9 L1408.1 604.5 L1408.5 606.0 L1408.8 607.6 L1409.2 609.1 L1409.6 610.7 L1409.9 612.2 L1410.3 613.8 L1410.7 615.3 L1411.1 616.9 L1411.4 618.4 L1411.8 620.0 L1412.2 621.5 L1412.5 623.1 L1412.9 624.6 L1413.3 626.2 L1413.6 627.7 L1414.0 629.3 L1414.4 630.8 L1414.7 632.4 L1415.1 633.9 L1415.5 635.5 L1415.8 637.0 L1416.2 638.6 L1416.6 640.1 L1417.0 641.7 L1417.3 643.2 L1417.7 644.8 L1418.1 646.3 L1418.4 647.9 L1418.8 649.4 L1419.2 651.0 L1419.5 652.6 L1419.9 654.1 L1420.3 655.7 L1420.6 657.2 L1421.0 658.8 L1421.4 660.3 L1421.7 661.9 L1422.1 663.4 L1422.5 665.0 L1422.8 666.5 L1423.2 668.1 L1423.6 669.6 L1424.0 671.2 L1424.3 672.7 L1424.7 674.3 L1425.1 675.8 L1425.4 677.4 L1425.8 678.9 L1426.2 680.5 L1426.5 682.0 L1426.9 683.6 L1427.3 685.1 L1427.6 686.7 L1428.0 688.2 L1428.4 689.8 L1428.7 691.3 L1429.1 692.9 L1429.5 694.4 L1429.8 696.0 L1430.2 697.5 L1430.6 699.1 L1431.0 700.7 L1431.3 702.2 L1431.7 703.8 L1432.1 705.3 L1432.4 706.9 L1432.8 708.4 L1433.2 710.0 L1433.5 711.5 L1433.9 713.1 L1434.3 714.6 L1434.6 716.2 L1435.0 717.7 L1435.4 719.3 L1435.6 720.8 L1435.9 722.4 L1436.2 723.9 L1436.5 725.5 L1436.7 727.0 L1437.0 728.6 L1437.3 730.1 L1437.5 731.7 L1437.8 733.2 L1438.1 734.8 L1438.3 736.3 L1438.6 737.9 L1438.9 739.4 L1439.2 741.0 L1439.4 742.5 L1439.7 744.1 L1440.0 745.6 L1440.2 747.2 L1440.5 748.8 L1440.8 750.3 L1441.1 751.9 L1441.3 753.4 L1441.6 755.0 L1450.6 755.0 L1450.3 753.4 L1450.1 751.9 L1449.8 750.3 L1449.5 748.8 L1449.2 747.2 L1449.0 745.6 L1448.7 744.1 L1448.4 742.5 L1448.2 741.0 L1447.9 739.4 L1447.6 737.9 L1447.3 736.3 L1447.1 734.8 L1446.8 733.2 L1446.5 731.7 L1446.3 730.1 L1446.0 728.6 L1445.7 727.0 L1445.5 725.5 L1445.2 723.9 L1444.9 722.4 L1444.6 720.8 L1444.4 719.3 L1444.0 717.7 L1443.6 716.2 L1443.3 714.6 L1442.9 713.1 L1442.5 711.5 L1442.2 710.0 L1441.8 708.4 L1441.4 706.9 L1441.1 705.3 L1440.7 703.8 L1440.3 702.2 L1440.0 700.7 L1439.6 699.1 L1439.2 697.5 L1438.8 696.0 L1438.5 694.4 L1438.1 692.9 L1437.7 691.3 L1437.4 689.8 L1437.0 688.2 L1436.6 686.7 L1436.3 685.1 L1435.9 683.6 L1435.5 682.0 L1435.2 680.5 L1434.8 678.9 L1434.4 677.4 L1434.1 675.8 L1433.7 674.3 L1433.3 672.7 L1433.0 671.2 L1432.6 669.6 L1432.2 668.1 L1431.8 666.5 L1431.5 665.0 L1431.1 663.4 L1430.7 661.9 L1430.4 660.3 L1430.0 658.8 L1429.6 657.2 L1429.3 655.7 L1428.9 654.1 L1428.5 652.6 L1428.2 651.0 L1427.8 649.4 L1427.4 647.9 L1427.1 646.3 L1426.7 644.8 L1426.3 643.2 L1426.0 641.7 L1425.6 640.1 L1425.2 638.6 L1424.8 637.0 L1424.5 635.5 L1424.1 633.9 L1423.7 632.4 L1423.4 630.8 L1423.0 629.3 L1422.6 627.7 L1422.3 626.2 L1421.9 624.6 L1421.5 623.1 L1421.2 621.5 L1420.8 620.0 L1420.4 618.4 L1420.1 616.9 L1419.7 615.3 L1419.3 613.8 L1418.9 612.2 L1418.6 610.7 L1418.2 609.1 L1417.8 607.6 L1417.5 606.0 L1417.1 604.5 L1416.7 602.9 L1416.4 601.4 L1416.0 599.8 L1415.6 598.2 L1415.2 596.7 L1414.9 595.1 L1414.5 593.6 L1414.1 592.0 L1413.8 590.5 L1413.4 588.9 L1413.0 587.4 L1412.6 585.8 L1412.3 584.3 L1411.9 582.7 L1411.5 581.2 L1411.2 579.6 L1410.8 578.1 L1410.4 576.5 L1410.0 575.0 L1409.7 573.4 L1409.3 571.9 L1408.9 570.3 L1408.6 568.8 L1408.2 567.2 L1407.8 565.7 L1407.5 564.1 L1407.1 562.6 L1406.7 561.0 L1406.3 559.5 L1406.0 557.9 L1405.6 556.4 L1405.2 554.8 L1404.9 553.3 L1404.5 551.7 L1404.1 550.1 L1403.7 548.6 L1403.4 547.0 L1403.0 545.5 L1402.6 543.9 L1402.3 542.4 L1401.9 540.8 L1401.5 539.3 L1401.1 537.7 L1400.8 536.2 L1400.4 534.6 L1400.0 533.1 L1399.7 531.5 L1399.3 530.0 L1398.9 528.4 L1398.6 526.9 L1398.2 525.3 L1397.8 523.8 L1397.4 522.2 L1397.1 520.7 L1396.7 519.1 L1396.3 517.6 L1395.9 516.0 L1395.6 514.5 L1395.2 512.9 L1394.8 511.4 L1394.4 509.8 L1394.1 508.3 L1393.7 506.7 L1393.3 505.2 L1392.9 503.6 L1392.5 502.0 L1392.2 500.5 L1391.8 498.9 L1391.4 497.4 L1391.0 495.8 L1390.7 494.3 L1390.3 492.7 L1389.9 491.2 L1389.5 489.6 L1389.1 488.1 L1388.8 486.5 L1388.4 485.0 L1388.0 483.4 L1387.6 481.9 L1387.3 480.3 L1386.9 478.8 L1386.5 477.2 L1386.1 475.7 L1385.7 474.1 L1385.4 472.6 L1385.0 471.0 L1384.6 469.5 L1384.2 467.9 L1383.9 466.4 L1383.5 464.8 L1383.1 463.3 L1382.7 461.7 L1382.3 460.2 L1382.0 458.6 L1381.6 457.1 L1381.2 455.5 L1380.8 453.9 L1380.5 452.4 L1380.1 450.8 L1379.7 449.3 L1379.3 447.7 L1378.9 446.2 L1378.6 444.6 L1378.2 443.1 L1377.8 441.5 L1377.4 440.0 L1377.0 438.4 L1376.6 436.9 L1376.2 435.3 L1375.8 433.8 L1375.4 432.2 L1375.0 430.7 L1374.5 429.1 L1374.1 427.6 L1373.7 426.0 L1373.3 424.5 L1372.9 422.9 L1372.5 421.4 L1372.1 419.8 L1371.6 418.3 L1371.2 416.7 L1370.8 415.2 L1370.4 413.6 L1370.0 412.1 L1369.6 410.5 L1369.2 409.0 L1368.7 407.4 L1368.3 405.8 L1367.9 404.3 L1367.5 402.7 L1367.1 401.2 L1366.7 399.6 L1366.3 398.1 L1365.8 396.5 L1365.4 395.0 L1365.0 393.4 L1364.6 391.9 L1364.2 390.3 L1363.8 388.8 L1363.4 387.2 L1362.9 385.7 L1362.5 384.1 L1362.1 382.6 L1361.7 381.0 L1361.3 379.5 L1360.9 377.9 L1360.5 376.4 L1360.0 374.8 L1359.6 373.3 L1359.2 371.7 L1358.8 370.2 L1358.3 368.6 L1357.9 367.1 L1357.5 365.5 L1357.0 364.0 L1356.6 362.4 L1356.2 360.9 L1355.7 359.3 L1355.3 357.7 L1354.8 356.2 L1354.4 354.6 L1354.0 353.1 L1353.5 351.5 L1353.1 350.0 L1352.7 348.4 L1352.2 346.9 L1351.8 345.3 L1351.4 343.8 L1350.9 342.2 L1350.5 340.7 L1350.0 339.1 L1349.6 337.6 L1349.2 336.0 L1348.7 334.5 L1348.3 332.9 L1347.9 331.4 L1347.4 329.8 L1347.0 328.3 L1346.5 326.7 L1346.1 325.2 L1345.7 323.6 L1345.2 322.1 L1344.8 320.5 L1344.4 319.0 L1343.9 317.4 L1343.5 315.9 L1343.1 314.3 L1342.6 312.8 L1342.2 311.2 L1341.7 309.6 L1341.3 308.1 L1340.8 306.5 L1340.3 305.0 L1339.9 303.4 L1339.4 301.9 L1339.0 300.3 L1338.5 298.8 L1338.1 297.2 L1337.6 295.7 L1337.2 294.1 L1336.7 292.6 L1336.3 291.0 L1335.8 289.5 L1335.4 287.9 L1334.9 286.4 L1334.5 284.8 L1334.0 283.3 L1333.6 281.7 L1333.1 280.2 L1332.7 278.6 L1332.2 277.1 L1331.8 275.5 L1331.3 274.0 L1330.9 272.4 L1330.4 270.9 L1330.0 269.3 L1329.5 267.8 L1329.1 266.2 L1328.6 264.7 L1328.1 263.1 L1327.6 261.5 L1327.1 260.0 L1326.7 258.4 L1326.2 256.9 L1325.7 255.3 L1325.2 253.8 L1324.7 252.2 L1324.3 250.7 L1323.8 249.1 L1323.3 247.6 L1322.8 246.0 L1322.3 244.5 L1321.9 242.9 L1321.4 241.4 L1320.9 239.8 L1320.4 238.3 L1319.9 236.7 L1319.5 235.2 L1319.0 233.6 L1318.5 232.1 L1318.0 230.5 L1317.5 229.0 L1317.0 227.4 L1316.6 225.9 L1316.1 224.3 L1315.7 222.8 L1315.3 221.2 L1314.8 219.7 L1314.4 218.1 L1314.0 216.6 L1313.5 215.0 L1313.1 213.5 L1312.7 211.9 L1312.3 210.3 L1311.8 208.8 L1311.4 207.2 L1311.0 205.7 L1310.5 204.1 L1310.1 202.6 L1309.7 201.0 L1309.3 199.5 L1308.8 197.9 L1308.4 196.4 L1308.0 194.8 L1307.5 193.3 L1307.1 191.7 L1306.7 190.2 L1306.0 188.6 L1305.2 187.1 L1304.5 185.5 L1303.8 184.0 L1303.1 182.4 L1302.3 180.9 L1301.6 179.3 L1300.9 177.8 L1300.1 176.2 L1299.4 174.7 L1298.7 173.1 L1298.0 171.6 L1297.2 170.0 L1296.5 168.5 L1295.8 166.9 L1295.0 165.4 L1294.3 163.8 L1293.5 162.2 L1292.5 160.7 L1291.5 159.1 L1290.5 157.6 L1289.5 156.0 L1288.5 154.5 L1287.5 152.9 L1286.5 151.4 L1285.2 149.8 L1283.9 148.3 L1282.6 146.7 L1281.4 145.2 L1280.1 143.6 L1278.8 142.1 L1277.5 140.5 L1276.2 139.0 L1275.0 137.4 L1273.8 135.9 L1272.6 134.3 L1271.4 132.8 L1270.2 131.2 L1268.9 129.7 L1267.7 128.1 L1266.5 126.6 L1265.3 125.0 L1264.1 123.5 L1262.8 121.9 L1261.6 120.4 L1260.0 118.8 L1258.4 117.3 L1256.8 115.7 L1255.2 114.1 L1253.5 112.6 L1251.9 111.0 L1250.3 109.5 L1248.7 107.9 L1247.1 106.4 L1245.5 104.8 L1243.8 103.3 L1242.2 101.7 L1240.6 100.2 L1239.0 98.6 L1237.3 97.1 L1235.7 95.5 L1234.1 94.0 L1232.5 92.4 L1230.9 90.9 L1228.8 89.3 L1226.8 87.8 L1224.7 86.2 L1222.7 84.7 L1220.6 83.1 L1218.6 81.6 L1216.6 80.0 L1214.2 78.5 L1211.9 76.9 L1209.6 75.4 L1207.2 73.8 L1204.9 72.3 L1202.6 70.7 L1199.7 69.2 L1196.7 67.6 L1193.8 66.0 L1190.9 64.5 L1188.0 62.9 L1184.9 61.4 L1181.8 59.8 L1178.6 58.3 L1175.5 56.7 L1172.0 55.2 L1168.0 53.6 L1164.0 52.1 L1160.0 50.5 L1155.6 49.0 L1151.3 47.4 L1146.6 45.9 L1141.7 44.3 L1136.7 42.8 L1131.2 41.2 L1125.8 39.7 L1121.9 38.1 L1118.0 36.6 L1117.0 35.0 L1115.9 33.5 L1114.8 31.9 L1114.2 30.4 L1114.1 28.8 L1114.0 27.3 L1113.9 25.7 L1113.7 24.2 L1113.6 22.6 L1113.5 21.1 L1113.4 19.5Z" fill="#00ffff" stroke="#00ffff" stroke-width="3"/>
<path d="M1108.9 19.5 L1109.0 21.1 L1109.1 22.6 L1109.2 24.2 L1109.4 25.7 L1109.5 27.3 L1109.6 28.8 L1109.7 30.4 L1110.3 31.9 L1111.4 33.5 L1112.5 35.0 L1113.5 36.6 L1117.4 38.1 L1121.3 39.7 L1126.7 41.2 L1132.2 42.8 L1137.2 44.3 L1142.1 45.9 L1146.8 47.4 L1151.1 49.0 L1155.5 50.5 L1159.5 52.1 L1163.5 53.6 L1167.5 55.2 L1171.0 56.7 L1174.1 58.3 L1177.2 59.8 L1180.4 61.4 L1183.5 62.9 L1186.4 64.5 L1189.3 66.0 L1192.2 67.6 L1195.2 69.2 L1198.1 70.7 L1200.4 72.3 L1202.7 73.8 L1205.1 75.4 L1207.4 76.9 L1209.7 78.5 L1212.1 80.0 L1214.1 81.6 L1216.1 83.1 L1218.2 84.7 L1220.2 86.2 L1222.3 87.8 L1224.3 89.3 L1226.4 90.9 L1228.0 92.4 L1229.6 94.0 L1231.2 95.5 L1232.8 97.1 L1234.5 98.6 L1236.1 100.2 L1237.7 101.7 L1239.3 103.3 L1241.0 104.8 L1242.6 106.4 L1244.2 107.9 L1245.8 109.5 L1247.4 111.0 L1249.0 112.6 L1250.7 114.1 L1252.3 115.7 L1253.9 117.3 L1255.5 118.8 L1257.1 120.4 L1258.3 121.9 L1259.6 123.5 L1260.8 125.0 L1262.0 126.6 L1263.2 128.1 L1264.4 129.7 L1265.7 131.2 L1266.9 132.8 L1268.1 134.3 L1269.3 135.9 L1270.5 137.4 L1271.7 139.0 L1273.0 140.5 L1274.3 142.1 L1275.6 143.6 L1276.9 145.2 L1278.1 146.7 L1279.4 148.3 L1280.7 149.8 L1282.0 151.4 L1283.0 152.9 L1284.0 154.5 L1285.0 156.0 L1286.0 157.6 L1287.0 159.1 L1288.0 160.7 L1289.0 162.2 L1289.8 163.8 L1290.5 165.4 L1291.3 166.9 L1292.0 168.5 L1292.7 170.0 L1293.5 171.6 L1294.2 173.1 L1294.9 174.7 L1295.6 176.2 L1296.4 177.8 L1297.1 179.3 L1297.8 180.9 L1298.6 182.4 L1299.3 184.0 L1300.0 185.5 L1300.7 187.1 L1301.5 188.6 L1302.2 190.2 L1302.6 191.7 L1303.0 193.3 L1303.5 194.8 L1303.9 196.4 L1304.3 197.9 L1304.8 199.5 L1305.2 201.0 L1305.6 202.6 L1306.0 204.1 L1306.5 205.7 L1306.9 207.2 L1307.3 208.8 L1307.8 210.3 L1308.2 211.9 L1308.6 213.5 L1309.0 215.0 L1309.5 216.6 L1309.9 218.1 L1310.3 219.7 L1310.8 221.2 L1311.2 222.8 L1311.6 224.3 L1312.1 225.9 L1312.5 227.4 L1313.0 229.0 L1313.5 230.5 L1314.0 232.1 L1314.5 233.6 L1315.0 235.2 L1315.4 236.7 L1315.9 238.3 L1316.4 239.8 L1316.9 241.4 L1317.4 242.9 L1317.8 244.5 L1318.3 246.0 L1318.8 247.6 L1319.3 249.1 L1319.8 250.7 L1320.2 252.2 L1320.7 253.8 L1321.2 255.3 L1321.7 256.9 L1322.2 258.4 L1322.6 260.0 L1323.1 261.5 L1323.6 263.1 L1324.1 264.7 L1324.6 266.2 L1325.0 267.8 L1325.5 269.3 L1325.9 270.9 L1326.4 272.4 L1326.8 274.0 L1327.3 275.5 L1327.7 277.1 L1328.2 278.6 L1328.6 280.2 L1329.1 281.7 L1329.5 283.3 L1330.0 284.8 L1330.4 286.4 L1330.9 287.9 L1331.3 289.5 L1331.8 291.0 L1332.2 292.6 L1332.7 294.1 L1333.1 295.7 L1333.6 297.2 L1334.0 298.8 L1334.5 300.3 L1334.9 301.9 L1335.4 303.4 L1335.8 305.0 L1336.3 306.5 L1336.8 308.1 L1337.2 309.6 L1337.7 311.2 L1338.1 312.8 L1338.6 314.3 L1339.0 315.9 L1339.4 317.4 L1339.9 319.0 L1340.3 320.5 L1340.7 322.1 L1341.2 323.6 L1341.6 325.2 L1342.0 326.7 L1342.5 328.3 L1342.9 329.8 L1343.4 331.4 L1343.8 332.9 L1344.2 334.5 L1344.7 336.0 L1345.1 337.6 L1345.5 339.1 L1346.0 340.7 L1346.4 342.2 L1346.9 343.8 L1347.3 345.3 L1347.7 346.9 L1348.2 348.4 L1348.6 350.0 L1349.0 351.5 L1349.5 353.1 L1349.9 354.6 L1350.3 356.2 L1350.8 357.7 L1351.2 359.3 L1351.7 360.9 L1352.1 362.4 L1352.5 364.0 L1353.0 365.5 L1353.4 367.1 L1353.8 368.6 L1354.3 370.2 L1354.7 371.7 L1355.1 373.3 L1355.5 374.8 L1356.0 376.4 L1356.4 377.9 L1356.8 379.5 L1357.2 381.0 L1357.6 382.6 L1358.0 384.1 L1358.4 385.7 L1358.9 387.2 L1359.3 388.8 L1359.7 390.3 L1360.1 391.9 L1360.5 393.4 L1360.9 395.0 L1361.3 396.5 L1361.8 398.1 L1362.2 399.6 L1362.6 401.2 L1363.0 402.7 L1363.4 404.3 L1363.8 405.8 L1364.2 407.4 L1364.7 409.0 L1365.1 410.5 L1365.5 412.1 L1365.9 413.6 L1366.3 415.2 L1366.7 416.7 L1367.1 418.3 L1367.6 419.8 L1368.0 421.4 L1368.4 422.9 L1368.8 424.5 L1369.2 426.0 L1369.6 427.6 L1370.0 429.1 L1370.5 430.7 L1370.9 432.2 L1371.3 433.8 L1371.7 435.3 L1372.1 436.9 L1372.5 438.4 L1372.9 440.0 L1373.3 441.5 L1373.7 443.1 L1374.1 444.6 L1374.4 446.2 L1374.8 447.7 L1375.2 449.3 L1375.6 450.8 L1376.0 452.4 L1376.3 453.9 L1376.7 455.5 L1377.1 457.1 L1377.5 458.6 L1377.8 460.2 L1378.2 461.7 L1378.6 463.3 L1379.0 464.8 L1379.4 466.4 L1379.7 467.9 L1380.1 469.5 L1380.5 471.0 L1380.9 472.6 L1381.2 474.1 L1381.6 475.7 L1382.0 477.2 L1382.4 478.8 L1382.8 480.3 L1383.1 481.9 L1383.5 483.4 L1383.9 485.0 L1384.3 486.5 L1384.6 488.1 L1385.0 489.6 L1385.4 491.2 L1385.8 492.7 L1386.2 494.3 L1386.5 495.8 L1386.9 497.4 L1387.3 498.9 L1387.7 500.5 L1388.0 502.0 L1388.4 503.6 L1388.8 505.2 L1389.2 506.7 L1389.6 508.3 L1389.9 509.8 L1390.3 511.4 L1390.7 512.9 L1391.1 514.5 L1391.4 516.0 L1391.8 517.6 L1392.2 519.1 L1392.6 520.7 L1392.9 522.2 L1393.3 523.8 L1393.7 525.3 L1394.1 526.9 L1394.4 528.4 L1394.8 530.0 L1395.2 531.5 L1395.5 533.1 L1395.9 534.6 L1396.3 536.2 L1396.6 537.7 L1397.0 539.3 L1397.4 540.8 L1397.8 542.4 L1398.1 543.9 L1398.5 545.5 L1398.9 547.0 L1399.2 548.6 L1399.6 550.1 L1400.0 551.7 L1400.4 553.3 L1400.7 554.8 L1401.1 556.4 L1401.5 557.9 L1401.8 559.5 L1402.2 561.0 L1402.6 562.6 L1403.0 564.1 L1403.3 565.7 L1403.7 567.2 L1404.1 568.8 L1404.4 570.3 L1404.8 571.9 L1405.2 573.4 L1405.5 575.0 L1405.9 576.5 L1406.3 578.1 L1406.7 579.6 L1407.0 581.2 L1407.4 582.7 L1407.8 584.3 L1408.1 585.8 L1408.5 587.4 L1408.9 588.9 L1409.3 590.5 L1409.6 592.0 L1410.0 593.6 L1410.4 595.1 L1410.7 596.7 L1411.1 598.2 L1411.5 599.8 L1411.9 601.4 L1412.2 602.9 L1412.6 604.5 L1413.0 606.0 L1413.3 607.6 L1413.7 609.1 L1414.1 610.7 L1414.4 612.2 L1414.8 613.8 L1415.2 615.3 L1415.6 616.9 L1415.9 618.4 L1416.3 620.0 L1416.7 621.5 L1417.0 623.1 L1417.4 624.6 L1417.8 626.2 L1418.1 627.7 L1418.5 629.3 L1418.9 630.8 L1419.2 632.4 L1419.6 633.9 L1420.0 635.5 L1420.3 637.0 L1420.7 638.6 L1421.1 640.1 L1421.5 641.7 L1421.8 643.2 L1422.2 644.8 L1422.6 646.3 L1422.9 647.9 L1423.3 649.4 L1423.7 651.0 L1424.0 652.6 L1424.4 654.1 L1424.8 655.7 L1425.1 657.2 L1425.5 658.8 L1425.9 660.3 L1426.2 661.9 L1426.6 663.4 L1427.0 665.0 L1427.3 666.5 L1427.7 668.1 L1428.1 669.6 L1428.5 671.2 L1428.8 672.7 L1429.2 674.3 L1429.6 675.8 L1429.9 677.4 L1430.3 678.9 L1430.7 680.5 L1431.0 682.0 L1431.4 683.6 L1431.8 685.1 L1432.1 686.7 L1432.5 688.2 L1432.9 689.8 L1433.2 691.3 L1433.6 692.9 L1434.0 694.4 L1434.3 696.0 L1434.7 697.5 L1435.1 699.1 L1435.5 700.7 L1435.8 702.2 L1436.2 703.8 L1436.6 705.3 L1436.9 706.9 L1437.3 708.4 L1437.7 710.0 L1438.0 711.5 L1438.4 713.1 L1438.8 714.6 L1439.1 716.2 L1439.5 717.7 L1439.9 719.3 L1440.1 720.8 L1440.4 722.4 L1440.7 723.9 L1441.0 725.5 L1441.2 727.0 L1441.5 728.6 L1441.8 730.1 L1442.0 731.7 L1442.3 733.2 L1442.6 734.8 L1442.8 736.3 L1443.1 737.9 L1443.4 739.4 L1443.7 741.0 L1443.9 742.5 L1444.2 744.1 L1444.5 745.6 L1444.7 747.2 L1445.0 748.8 L1445.3 750.3 L1445.6 751.9 L1445.8 753.4 L1446.1 755.0" stroke="#00ffff" stroke-width="11.5"/>
<path d="M1105.1 19.5 L1105.2 21.1 L1105.4 22.6 L1105.5 24.2 L1105.6 25.7 L1105.7 27.3 L1105.8 28.8 L1106.0 30.4 L1106.6 31.9 L1107.6 33.5 L1108.7 35.0 L1109.7 36.6 L1113.6 38.1 L1117.5 39.7 L1122.9 41.2 L1128.4 42.8 L1133.3 44.3 L1138.3 45.9 L1143.0 47.4 L1147.3 49.0 L1151.7 50.5 L1155.7 52.1 L1159.6 53.6 L1163.6 55.2 L1167.2 56.7 L1170.3 58.3 L1173.4 59.8 L1176.5 61.4 L1179.6 62.9 L1182.5 64.5 L1185.4 66.0 L1188.4 67.6 L1191.3 69.2 L1194.2 70.7 L1196.5 72.3 L1198.8 73.8 L1201.2 75.4 L1203.5 76.9 L1205.8 78.5 L1208.2 80.0 L1210.2 81.6 L1212.2 83.1 L1214.3 84.7 L1216.3 86.2 L1218.3 87.8 L1220.4 89.3 L1222.4 90.9 L1224.0 92.4 L1225.7 94.0 L1227.3 95.5 L1228.9 97.1 L1230.5 98.6 L1232.1 100.2 L1233.8 101.7 L1235.4 103.3 L1237.0 104.8 L1238.6 106.4 L1240.2 107.9 L1241.8 109.5 L1243.4 111.0 L1245.1 112.6 L1246.7 114.1 L1248.3 115.7 L1249.9 117.3 L1251.5 118.8 L1253.1 120.4 L1254.3 121.9 L1255.5 123.5 L1256.8 125.0 L1258.0 126.6 L1259.2 128.1 L1260.4 129.7 L1261.6 131.2 L1262.8 132.8 L1264.0 134.3 L1265.3 135.9 L1266.5 137.4 L1267.7 139.0 L1268.9 140.5 L1270.2 142.1 L1271.5 143.6 L1272.8 145.2 L1274.1 146.7 L1275.3 148.3 L1276.6 149.8 L1277.9 151.4 L1278.9 152.9 L1279.9 154.5 L1280.9 156.0 L1281.9 157.6 L1282.9 159.1 L1283.8 160.7 L1284.8 162.2 L1285.7 163.8 L1286.4 165.4 L1287.1 166.9 L1287.9 168.5 L1288.6 170.0 L1289.3 171.6 L1290.0 173.1 L1290.8 174.7 L1291.5 176.2 L1292.2 177.8 L1292.9 179.3 L1293.7 180.9 L1294.4 182.4 L1295.1 184.0 L1295.8 185.5 L1296.6 187.1 L1297.3 188.6 L1298.0 190.2 L1298.4 191.7 L1298.9 193.3 L1299.3 194.8 L1299.7 196.4 L1300.1 197.9 L1300.5 199.5 L1301.0 201.0 L1301.4 202.6 L1301.8 204.1 L1302.2 205.7 L1302.7 207.2 L1303.1 208.8 L1303.5 210.3 L1303.9 211.9 L1304.4 213.5 L1304.8 215.0 L1305.2 216.6 L1305.6 218.1 L1306.1 219.7 L1306.5 221.2 L1306.9 222.8 L1307.4 224.3 L1307.8 225.9 L1308.3 227.4 L1308.8 229.0 L1309.3 230.5 L1309.7 232.1 L1310.2 233.6 L1310.7 235.2 L1311.2 236.7 L1311.7 238.3 L1312.1 239.8 L1312.6 241.4 L1313.1 242.9 L1313.6 244.5 L1314.1 246.0 L1314.5 247.6 L1315.0 249.1 L1315.5 250.7 L1316.0 252.2 L1316.5 253.8 L1317.0 255.3 L1317.4 256.9 L1317.9 258.4 L1318.4 260.0 L1318.9 261.5 L1319.4 263.1 L1319.8 264.7 L1320.3 266.2 L1320.8 267.8 L1321.2 269.3 L1321.7 270.9 L1322.1 272.4 L1322.6 274.0 L1323.0 275.5 L1323.5 277.1 L1323.9 278.6 L1324.4 280.2 L1324.8 281.7 L1325.3 283.3 L1325.7 284.8 L1326.2 286.4 L1326.6 287.9 L1327.1 289.5 L1327.5 291.0 L1328.0 292.6 L1328.4 294.1 L1328.9 295.7 L1329.3 297.2 L1329.8 298.8 L1330.2 300.3 L1330.7 301.9 L1331.1 303.4 L1331.6 305.0 L1332.0 306.5 L1332.5 308.1 L1333.0 309.6 L1333.4 311.2 L1333.9 312.8 L1334.3 314.3 L1334.7 315.9 L1335.2 317.4 L1335.6 319.0 L1336.1 320.5 L1336.5 322.1 L1336.9 323.6 L1337.4 325.2 L1337.8 326.7 L1338.2 328.3 L1338.7 329.8 L1339.1 331.4 L1339.5 332.9 L1340.0 334.5 L1340.4 336.0 L1340.9 337.6 L1341.3 339.1 L1341.7 340.7 L1342.2 342.2 L1342.6 343.8 L1343.0 345.3 L1343.5 346.9 L1343.9 348.4 L1344.4 350.0 L1344.8 351.5 L1345.2 353.1 L1345.7 354.6 L1346.1 356.2 L1346.5 357.7 L1347.0 359.3 L1347.4 360.9 L1347.8 362.4 L1348.3 364.0 L1348.7 365.5 L1349.2 367.1 L1349.6 368.6 L1350.0 370.2 L1350.5 371.7 L1350.9 373.3 L1351.3 374.8 L1351.7 376.4 L1352.1 377.9 L1352.5 379.5 L1353.0 381.0 L1353.4 382.6 L1353.8 384.1 L1354.2 385.7 L1354.6 387.2 L1355.0 388.8 L1355.4 390.3 L1355.9 391.9 L1356.3 393.4 L1356.7 395.0 L1357.1 396.5 L1357.5 398.1 L1357.9 399.6 L1358.3 401.2 L1358.8 402.7 L1359.2 404.3 L1359.6 405.8 L1360.0 407.4 L1360.4 409.0 L1360.8 410.5 L1361.2 412.1 L1361.7 413.6 L1362.1 415.2 L1362.5 416.7 L1362.9 418.3 L1363.3 419.8 L1363.7 421.4 L1364.1 422.9 L1364.6 424.5 L1365.0 426.0 L1365.4 427.6 L1365.8 429.1 L1366.2 430.7 L1366.6 432.2 L1367.0 433.8 L1367.5 435.3 L1367.9 436.9 L1368.3 438.4 L1368.7 440.0 L1369.1 441.5 L1369.4 443.1 L1369.8 444.6 L1370.2 446.2 L1370.6 447.7 L1370.9 449.3 L1371.3 450.8 L1371.7 452.4 L1372.1 453.9 L1372.5 455.5 L1372.8 457.1 L1373.2 458.6 L1373.6 460.2 L1374.0 461.7 L1374.3 463.3 L1374.7 464.8 L1375.1 466.4 L1375.5 467.9 L1375.9 469.5 L1376.2 471.0 L1376.6 472.6 L1377.0 474.1 L1377.4 475.7 L1377.8 477.2 L1378.1 478.8 L1378.5 480.3 L1378.9 481.9 L1379.3 483.4 L1379.6 485.0 L1380.0 486.5 L1380.4 488.1 L1380.8 489.6 L1381.2 491.2 L1381.5 492.7 L1381.9 494.3 L1382.3 495.8 L1382.7 497.4 L1383.0 498.9 L1383.4 500.5 L1383.8 502.0 L1384.2 503.6 L1384.6 505.2 L1384.9 506.7 L1385.3 508.3 L1385.7 509.8 L1386.1 511.4 L1386.4 512.9 L1386.8 514.5 L1387.2 516.0 L1387.6 517.6 L1387.9 519.1 L1388.3 520.7 L1388.7 522.2 L1389.1 523.8 L1389.4 525.3 L1389.8 526.9 L1390.2 528.4 L1390.5 530.0 L1390.9 531.5 L1391.3 533.1 L1391.7 534.6 L1392.0 536.2 L1392.4 537.7 L1392.8 539.3 L1393.1 540.8 L1393.5 542.4 L1393.9 543.9 L1394.3 545.5 L1394.6 547.0 L1395.0 548.6 L1395.4 550.1 L1395.7 551.7 L1396.1 553.3 L1396.5 554.8 L1396.8 556.4 L1397.2 557.9 L1397.6 559.5 L1398.0 561.0 L1398.3 562.6 L1398.7 564.1 L1399.1 565.7 L1399.4 567.2 L1399.8 568.8 L1400.2 570.3 L1400.6 571.9 L1400.9 573.4 L1401.3 575.0 L1401.7 576.5 L1402.0 578.1 L1402.4 579.6 L1402.8 581.2 L1403.2 582.7 L1403.5 584.3 L1403.9 585.8 L1404.3 587.4 L1404.6 588.9 L1405.0 590.5 L1405.4 592.0 L1405.8 593.6 L1406.1 595.1 L1406.5 596.7 L1406.9 598.2 L1407.2 599.8 L1407.6 601.4 L1408.0 602.9 L1408.3 604.5 L1408.7 606.0 L1409.1 607.6 L1409.5 609.1 L1409.8 610.7 L1410.2 612.2 L1410.6 613.8 L1410.9 615.3 L1411.3 616.9 L1411.7 618.4 L1412.0 620.0 L1412.4 621.5 L1412.8 623.1 L1413.1 624.6 L1413.5 626.2 L1413.9 627.7 L1414.3 629.3 L1414.6 630.8 L1415.0 632.4 L1415.4 633.9 L1415.7 635.5 L1416.1 637.0 L1416.5 638.6 L1416.8 640.1 L1417.2 641.7 L1417.6 643.2 L1417.9 644.8 L1418.3 646.3 L1418.7 647.9 L1419.0 649.4 L1419.4 651.0 L1419.8 652.6 L1420.1 654.1 L1420.5 655.7 L1420.9 657.2 L1421.3 658.8 L1421.6 660.3 L1422.0 661.9 L1422.4 663.4 L1422.7 665.0 L1423.1 666.5 L1423.5 668.1 L1423.8 669.6 L1424.2 671.2 L1424.6 672.7 L1424.9 674.3 L1425.3 675.8 L1425.7 677.4 L1426.0 678.9 L1426.4 680.5 L1426.8 682.0 L1427.2 683.6 L1427.5 685.1 L1427.9 686.7 L1428.3 688.2 L1428.6 689.8 L1429.0 691.3 L1429.4 692.9 L1429.7 694.4 L1430.1 696.0 L1430.5 697.5 L1430.8 699.1 L1431.2 700.7 L1431.6 702.2 L1431.9 703.8 L1432.3 705.3 L1432.7 706.9 L1433.0 708.4 L1433.4 710.0 L1433.8 711.5 L1434.2 713.1 L1434.5 714.6 L1434.9 716.2 L1435.3 717.7 L1435.6 719.3 L1435.9 720.8 L1436.2 722.4 L1436.4 723.9 L1436.7 725.5 L1437.0 727.0 L1437.2 728.6 L1437.5 730.1 L1437.8 731.7 L1438.1 733.2 L1438.3 734.8 L1438.6 736.3 L1438.9 737.9 L1439.1 739.4 L1439.4 741.0 L1439.7 742.5 L1440.0 744.1 L1440.2 745.6 L1440.5 747.2 L1440.8 748.8 L1441.0 750.3 L1441.3 751.9 L1441.6 753.4 L1441.8 755.0 L1450.3 755.0 L1450.1 753.4 L1449.8 751.9 L1449.5 750.3 L1449.3 748.8 L1449.0 747.2 L1448.7 745.6 L1448.5 744.1 L1448.2 742.5 L1447.9 741.0 L1447.6 739.4 L1447.4 737.9 L1447.1 736.3 L1446.8 734.8 L1446.6 733.2 L1446.3 731.7 L1446.0 730.1 L1445.7 728.6 L1445.5 727.0 L1445.2 725.5 L1444.9 723.9 L1444.7 722.4 L1444.4 720.8 L1444.1 719.3 L1443.8 717.7 L1443.4 716.2 L1443.0 714.6 L1442.7 713.1 L1442.3 711.5 L1441.9 710.0 L1441.5 708.4 L1441.2 706.9 L1440.8 705.3 L1440.4 703.8 L1440.1 702.2 L1439.7 700.7 L1439.3 699.1 L1439.0 697.5 L1438.6 696.0 L1438.2 694.4 L1437.9 692.9 L1437.5 691.3 L1437.1 689.8 L1436.8 688.2 L1436.4 686.7 L1436.0 685.1 L1435.7 683.6 L1435.3 682.0 L1434.9 680.5 L1434.5 678.9 L1434.2 677.4 L1433.8 675.8 L1433.4 674.3 L1433.1 672.7 L1432.7 671.2 L1432.3 669.6 L1432.0 668.1 L1431.6 666.5 L1431.2 665.0 L1430.9 663.4 L1430.5 661.9 L1430.1 660.3 L1429.8 658.8 L1429.4 657.2 L1429.0 655.7 L1428.6 654.1 L1428.3 652.6 L1427.9 651.0 L1427.5 649.4 L1427.2 647.9 L1426.8 646.3 L1426.4 644.8 L1426.1 643.2 L1425.7 641.7 L1425.3 640.1 L1425.0 638.6 L1424.6 637.0 L1424.2 635.5 L1423.9 633.9 L1423.5 632.4 L1423.1 630.8 L1422.8 629.3 L1422.4 627.7 L1422.0 626.2 L1421.6 624.6 L1421.3 623.1 L1420.9 621.5 L1420.5 620.0 L1420.2 618.4 L1419.8 616.9 L1419.4 615.3 L1419.1 613.8 L1418.7 612.2 L1418.3 610.7 L1418.0 609.1 L1417.6 607.6 L1417.2 606.0 L1416.8 604.5 L1416.5 602.9 L1416.1 601.4 L1415.7 599.8 L1415.4 598.2 L1415.0 596.7 L1414.6 595.1 L1414.3 593.6 L1413.9 592.0 L1413.5 590.5 L1413.1 588.9 L1412.8 587.4 L1412.4 585.8 L1412.0 584.3 L1411.7 582.7 L1411.3 581.2 L1410.9 579.6 L1410.5 578.1 L1410.2 576.5 L1409.8 575.0 L1409.4 573.4 L1409.1 571.9 L1408.7 570.3 L1408.3 568.8 L1407.9 567.2 L1407.6 565.7 L1407.2 564.1 L1406.8 562.6 L1406.5 561.0 L1406.1 559.5 L1405.7 557.9 L1405.3 556.4 L1405.0 554.8 L1404.6 553.3 L1404.2 551.7 L1403.9 550.1 L1403.5 548.6 L1403.1 547.0 L1402.8 545.5 L1402.4 543.9 L1402.0 542.4 L1401.6 540.8 L1401.3 539.3 L1400.9 537.7 L1400.5 536.2 L1400.2 534.6 L1399.8 533.1 L1399.4 531.5 L1399.0 530.0 L1398.7 528.4 L1398.3 526.9 L1397.9 525.3 L1397.6 523.8 L1397.2 522.2 L1396.8 520.7 L1396.4 519.1 L1396.1 517.6 L1395.7 516.0 L1395.3 514.5 L1394.9 512.9 L1394.6 511.4 L1394.2 509.8 L1393.8 508.3 L1393.4 506.7 L1393.1 505.2 L1392.7 503.6 L1392.3 502.0 L1391.9 500.5 L1391.5 498.9 L1391.2 497.4 L1390.8 495.8 L1390.4 494.3 L1390.0 492.7 L1389.7 491.2 L1389.3 489.6 L1388.9 488.1 L1388.5 486.5 L1388.1 485.0 L1387.8 483.4 L1387.4 481.9 L1387.0 480.3 L1386.6 478.8 L1386.3 477.2 L1385.9 475.7 L1385.5 474.1 L1385.1 472.6 L1384.7 471.0 L1384.4 469.5 L1384.0 467.9 L1383.6 466.4 L1383.2 464.8 L1382.8 463.3 L1382.5 461.7 L1382.1 460.2 L1381.7 458.6 L1381.3 457.1 L1381.0 455.5 L1380.6 453.9 L1380.2 452.4 L1379.8 450.8 L1379.4 449.3 L1379.1 447.7 L1378.7 446.2 L1378.3 444.6 L1377.9 443.1 L1377.6 441.5 L1377.2 440.0 L1376.8 438.4 L1376.4 436.9 L1376.0 435.3 L1375.5 433.8 L1375.1 432.2 L1374.7 430.7 L1374.3 429.1 L1373.9 427.6 L1373.5 426.0 L1373.1 424.5 L1372.6 422.9 L1372.2 421.4 L1371.8 419.8 L1371.4 418.3 L1371.0 416.7 L1370.6 415.2 L1370.2 413.6 L1369.7 412.1 L1369.3 410.5 L1368.9 409.0 L1368.5 407.4 L1368.1 405.8 L1367.7 404.3 L1367.3 402.7 L1366.8 401.2 L1366.4 399.6 L1366.0 398.1 L1365.6 396.5 L1365.2 395.0 L1364.8 393.4 L1364.4 391.9 L1363.9 390.3 L1363.5 388.8 L1363.1 387.2 L1362.7 385.7 L1362.3 384.1 L1361.9 382.6 L1361.5 381.0 L1361.0 379.5 L1360.6 377.9 L1360.2 376.4 L1359.8 374.8 L1359.4 373.3 L1359.0 371.7 L1358.5 370.2 L1358.1 368.6 L1357.7 367.1 L1357.2 365.5 L1356.8 364.0 L1356.3 362.4 L1355.9 360.9 L1355.5 359.3 L1355.0 357.7 L1354.6 356.2 L1354.2 354.6 L1353.7 353.1 L1353.3 351.5 L1352.9 350.0 L1352.4 348.4 L1352.0 346.9 L1351.5 345.3 L1351.1 343.8 L1350.7 342.2 L1350.2 340.7 L1349.8 339.1 L1349.4 337.6 L1348.9 336.0 L1348.5 334.5 L1348.0 332.9 L1347.6 331.4 L1347.2 329.8 L1346.7 328.3 L1346.3 326.7 L1345.9 325.2 L1345.4 323.6 L1345.0 322.1 L1344.6 320.5 L1344.1 319.0 L1343.7 317.4 L1343.2 315.9 L1342.8 314.3 L1342.4 312.8 L1341.9 311.2 L1341.5 309.6 L1341.0 308.1 L1340.5 306.5 L1340.1 305.0 L1339.6 303.4 L1339.2 301.9 L1338.7 300.3 L1338.3 298.8 L1337.8 297.2 L1337.4 295.7 L1336.9 294.1 L1336.5 292.6 L1336.0 291.0 L1335.6 289.5 L1335.1 287.9 L1334.7 286.4 L1334.2 284.8 L1333.8 283.3 L1333.3 281.7 L1332.9 280.2 L1332.4 278.6 L1332.0 277.1 L1331.5 275.5 L1331.1 274.0 L1330.6 272.4 L1330.2 270.9 L1329.7 269.3 L1329.3 267.8 L1328.8 266.2 L1328.3 264.7 L1327.9 263.1 L1327.4 261.5 L1326.9 260.0 L1326.4 258.4 L1325.9 256.9 L1325.5 255.3 L1325.0 253.8 L1324.5 252.2 L1324.0 250.7 L1323.5 249.1 L1323.0 247.6 L1322.6 246.0 L1322.1 244.5 L1321.6 242.9 L1321.1 241.4 L1320.6 239.8 L1320.2 238.3 L1319.7 236.7 L1319.2 235.2 L1318.7 233.6 L1318.2 232.1 L1317.8 230.5 L1317.3 229.0 L1316.8 227.4 L1316.3 225.9 L1315.9 224.3 L1315.4 222.8 L1315.0 221.2 L1314.6 219.7 L1314.1 218.1 L1313.7 216.6 L1313.3 215.0 L1312.9 213.5 L1312.4 211.9 L1312.0 210.3 L1311.6 208.8 L1311.1 207.2 L1310.7 205.7 L1310.3 204.1 L1309.8 202.6 L1309.4 201.0 L1309.0 199.5 L1308.5 197.9 L1308.1 196.4 L1307.7 194.8 L1307.2 193.3 L1306.8 191.7 L1306.4 190.2 L1305.6 188.6 L1304.9 187.1 L1304.2 185.5 L1303.5 184.0 L1302.7 182.4 L1302.0 180.9 L1301.3 179.3 L1300.5 177.8 L1299.8 176.2 L1299.1 174.7 L1298.3 173.1 L1297.6 171.6 L1296.9 170.0 L1296.1 168.5 L1295.4 166.9 L1294.7 165.4 L1293.9 163.8 L1293.1 162.2 L1292.1 160.7 L1291.1 159.1 L1290.1 157.6 L1289.1 156.0 L1288.1 154.5 L1287.1 152.9 L1286.1 151.4 L1284.8 149.8 L1283.5 148.3 L1282.2 146.7 L1280.9 145.2 L1279.6 143.6 L1278.3 142.1 L1277.1 140.5 L1275.8 139.0 L1274.6 137.4 L1273.4 135.9 L1272.1 134.3 L1270.9 132.8 L1269.7 131.2 L1268.5 129.7 L1267.2 128.1 L1266.0 126.6 L1264.8 125.0 L1263.6 123.5 L1262.4 121.9 L1261.1 120.4 L1259.5 118.8 L1257.9 117.3 L1256.3 115.7 L1254.7 114.1 L1253.0 112.6 L1251.4 111.0 L1249.8 109.5 L1248.2 107.9 L1246.6 106.4 L1244.9 104.8 L1243.3 103.3 L1241.7 101.7 L1240.1 100.2 L1238.4 98.6 L1236.8 97.1 L1235.2 95.5 L1233.5 94.0 L1231.9 92.4 L1230.3 90.9 L1228.2 89.3 L1226.2 87.8 L1224.2 86.2 L1222.1 84.7 L1220.1 83.1 L1218.0 81.6 L1216.0 80.0 L1213.6 78.5 L1211.3 76.9 L1209.0 75.4 L1206.6 73.8 L1204.3 72.3 L1202.0 70.7 L1199.0 69.2 L1196.1 67.6 L1193.2 66.0 L1190.3 64.5 L1187.3 62.9 L1184.2 61.4 L1181.1 59.8 L1178.0 58.3 L1174.9 56.7 L1171.3 55.2 L1167.3 53.6 L1163.3 52.1 L1159.3 50.5 L1155.0 49.0 L1150.6 47.4 L1145.9 45.9 L1141.0 44.3 L1136.0 42.8 L1130.6 41.2 L1125.1 39.7 L1121.2 38.1 L1117.3 36.6 L1116.3 35.0 L1115.2 33.5 L1114.1 31.9 L1113.5 30.4 L1113.4 28.8 L1113.3 27.3 L1113.1 25.7 L1113.0 24.2 L1112.9 22.6 L1112.8 21.1 L1112.6 19.5Z" fill="#0000ff" stroke="#0000ff" stroke-width="3"/>
<path d="M1108.9 19.5 L1109.0 21.1 L1109.1 22.6 L1109.2 24.2 L1109.4 25.7 L1109.5 27.3 L1109.6 28.8 L1109.7 30.4 L1110.3 31.9 L1111.4 33.5 L1112.5 35.0 L1113.5 36.6 L1117.4 38.1 L1121.3 39.7 L1126.7 41.2 L1132.2 42.8 L1137.2 44.3 L1142.1 45.9 L1146.8 47.4 L1151.1 49.0 L1155.5 50.5 L1159.5 52.1 L1163.5 53.6 L1167.5 55.2 L1171.0 56.7 L1174.1 58.3 L1177.2 59.8 L1180.4 61.4 L1183.5 62.9 L1186.4 64.5 L1189.3 66.0 L1192.2 67.6 L1195.2 69.2 L1198.1 70.7 L1200.4 72.3 L1202.7 73.8 L1205.1 75.4 L1207.4 76.9 L1209.7 78.5 L1212.1 80.0 L1214.1 81.6 L1216.1 83.1 L1218.2 84.7 L1220.2 86.2 L1222.3 87.8 L1224.3 89.3 L1226.4 90.9 L1228.0 92.4 L1229.6 94.0 L1231.2 95.5 L1232.8 97.1 L1234.5 98.6 L1236.1 100.2 L1237.7 101.7 L1239.3 103.3 L1241.0 104.8 L1242.6 106.4 L1244.2 107.9 L1245.8 109.5 L1247.4 111.0 L1249.0 112.6 L1250.7 114.1 L1252.3 115.7 L1253.9 117.3 L1255.5 118.8 L1257.1 120.4 L1258.3 121.9 L1259.6 123.5 L1260.8 125.0 L1262.0 126.6 L1263.2 128.1 L1264.4 129.7 L1265.7 131.2 L1266.9 132.8 L1268.1 134.3 L1269.3 135.9 L1270.5 137.4 L1271.7 139.0 L1273.0 140.5 L1274.3 142.1 L1275.6 143.6 L1276.9 145.2 L1278.1 146.7 L1279.4 148.3 L1280.7 149.8 L1282.0 151.4 L1283.0 152.9 L1284.0 154.5 L1285.0 156.0 L1286.0 157.6 L1287.0 159.1 L1288.0 160.7 L1289.0 162.2 L1289.8 163.8 L1290.5 165.4 L1291.3 166.9 L1292.0 168.5 L1292.7 170.0 L1293.5 171.6 L1294.2 173.1 L1294.9 174.7 L1295.6 176.2 L1296.4 177.8 L1297.1 179.3 L1297.8 180.9 L1298.6 182.4 L1299.3 184.0 L1300.0 185.5 L1300.7 187.1 L1301.5 188.6 L1302.2 190.2 L1302.6 191.7 L1303.0 193.3 L1303.5 194.8 L1303.9 196.4 L1304.3 197.9 L1304.8 199.5 L1305.2 201.0 L1305.6 202.6 L1306.0 204.1 L1306.5 205.7 L1306.9 207.2 L1307.3 208.8 L1307.8 210.3 L1308.2 211.9 L1308.6 213.5 L1309.0 215.0 L1309.5 216.6 L1309.9 218.1 L1310.3 219.7 L1310.8 221.2 L1311.2 222.8 L1311.6 224.3 L1312.1 225.9 L1312.5 227.4 L1313.0 229.0 L1313.5 230.5 L1314.0 232.1 L1314.5 233.6 L1315.0 235.2 L1315.4 236.7 L1315.9 238.3 L1316.4 239.8 L1316.9 241.4 L1317.4 242.9 L1317.8 244.5 L1318.3 246.0 L1318.8 247.6 L1319.3 249.1 L1319.8 250.7 L1320.2 252.2 L1320.7 253.8 L1321.2 255.3 L1321.7 256.9 L1322.2 258.4 L1322.6 260.0 L1323.1 261.5 L1323.6 263.1 L1324.1 264.7 L1324.6 266.2 L1325.0 267.8 L1325.5 269.3 L1325.9 270.9 L1326.4 272.4 L1326.8 274.0 L1327.3 275.5 L1327.7 277.1 L1328.2 278.6 L1328.6 280.2 L1329.1 281.7 L1329.5 283.3 L1330.0 284.8 L1330.4 286.4 L1330.9 287.9 L1331.3 289.5 L1331.8 291.0 L1332.2 292.6 L1332.7 294.1 L1333.1 295.7 L1333.6 297.2 L1334.0 298.8 L1334.5 300.3 L1334.9 301.9 L1335.4 303.4 L1335.8 305.0 L1336.3 306.5 L1336.8 308.1 L1337.2 309.6 L1337.7 311.2 L1338.1 312.8 L1338.6 314.3 L1339.0 315.9 L1339.4 317.4 L1339.9 319.0 L1340.3 320.5 L1340.7 322.1 L1341.2 323.6 L1341.6 325.2 L1342.0 326.7 L1342.5 328.3 L1342.9 329.8 L1343.4 331.4 L1343.8 332.9 L1344.2 334.5 L1344.7 336.0 L1345.1 337.6 L1345.5 339.1 L1346.0 340.7 L1346.4 342.2 L1346.9 343.8 L1347.3 345.3 L1347.7 346.9 L1348.2 348.4 L1348.6 350.0 L1349.0 351.5 L1349.5 353.1 L1349.9 354.6 L1350.3 356.2 L1350.8 357.7 L1351.2 359.3 L1351.7 360.9 L1352.1 362.4 L1352.5 364.0 L1353.0 365.5 L1353.4 367.1 L1353.8 368.6 L1354.3 370.2 L1354.7 371.7 L1355.1 373.3 L1355.5 374.8 L1356.0 376.4 L1356.4 377.9 L1356.8 379.5 L1357.2 381.0 L1357.6 382.6 L1358.0 384.1 L1358.4 385.7 L1358.9 387.2 L1359.3 388.8 L1359.7 390.3 L1360.1 391.9 L1360.5 393.4 L1360.9 395.0 L1361.3 396.5 L1361.8 398.1 L1362.2 399.6 L1362.6 401.2 L1363.0 402.7 L1363.4 404.3 L1363.8 405.8 L1364.2 407.4 L1364.7 409.0 L1365.1 410.5 L1365.5 412.1 L1365.9 413.6 L1366.3 415.2 L1366.7 416.7 L1367.1 418.3 L1367.6 419.8 L1368.0 421.4 L1368.4 422.9 L1368.8 424.5 L1369.2 426.0 L1369.6 427.6 L1370.0 429.1 L1370.5 430.7 L1370.9 432.2 L1371.3 433.8 L1371.7 435.3 L1372.1 436.9 L1372.5 438.4 L1372.9 440.0 L1373.3 441.5 L1373.7 443.1 L1374.1 444.6 L1374.4 446.2 L1374.8 447.7 L1375.2 449.3 L1375.6 450.8 L1376.0 452.4 L1376.3 453.9 L1376.7 455.5 L1377.1 457.1 L1377.5 458.6 L1377.8 460.2 L1378.2 461.7 L1378.6 463.3 L1379.0 464.8 L1379.4 466.4 L1379.7 467.9 L1380.1 469.5 L1380.5 471.0 L1380.9 472.6 L1381.2 474.1 L1381.6 475.7 L1382.0 477.2 L1382.4 478.8 L1382.8 480.3 L1383.1 481.9 L1383.5 483.4 L1383.9 485.0 L1384.3 486.5 L1384.6 488.1 L1385.0 489.6 L1385.4 491.2 L1385.8 492.7 L1386.2 494.3 L1386.5 495.8 L1386.9 497.4 L1387.3 498.9 L1387.7 500.5 L1388.0 502.0 L1388.4 503.6 L1388.8 505.2 L1389.2 506.7 L1389.6 508.3 L1389.9 509.8 L1390.3 511.4 L1390.7 512.9 L1391.1 514.5 L1391.4 516.0 L1391.8 517.6 L1392.2 519.1 L1392.6 520.7 L1392.9 522.2 L1393.3 523.8 L1393.7 525.3 L1394.1 526.9 L1394.4 528.4 L1394.8 530.0 L1395.2 531.5 L1395.5 533.1 L1395.9 534.6 L1396.3 536.2 L1396.6 537.7 L1397.0 539.3 L1397.4 540.8 L1397.8 542.4 L1398.1 543.9 L1398.5 545.5 L1398.9 547.0 L1399.2 548.6 L1399.6 550.1 L1400.0 551.7 L1400.4 553.3 L1400.7 554.8 L1401.1 556.4 L1401.5 557.9 L1401.8 559.5 L1402.2 561.0 L1402.6 562.6 L1403.0 564.1 L1403.3 565.7 L1403.7 567.2 L1404.1 568.8 L1404.4 570.3 L1404.8 571.9 L1405.2 573.4 L1405.5 575.0 L1405.9 576.5 L1406.3 578.1 L1406.7 579.6 L1407.0 581.2 L1407.4 582.7 L1407.8 584.3 L1408.1 585.8 L1408.5 587.4 L1408.9 588.9 L1409.3 590.5 L1409.6 592.0 L1410.0 593.6 L1410.4 595.1 L1410.7 596.7 L1411.1 598.2 L1411.5 599.8 L1411.9 601.4 L1412.2 602.9 L1412.6 604.5 L1413.0 606.0 L1413.3 607.6 L1413.7 609.1 L1414.1 610.7 L1414.4 612.2 L1414.8 613.8 L1415.2 615.3 L1415.6 616.9 L1415.9 618.4 L1416.3 620.0 L1416.7 621.5 L1417.0 623.1 L1417.4 624.6 L1417.8 626.2 L1418.1 627.7 L1418.5 629.3 L1418.9 630.8 L1419.2 632.4 L1419.6 633.9 L1420.0 635.5 L1420.3 637.0 L1420.7 638.6 L1421.1 640.1 L1421.5 641.7 L1421.8 643.2 L1422.2 644.8 L1422.6 646.3 L1422.9 647.9 L1423.3 649.4 L1423.7 651.0 L1424.0 652.6 L1424.4 654.1 L1424.8 655.7 L1425.1 657.2 L1425.5 658.8 L1425.9 660.3 L1426.2 661.9 L1426.6 663.4 L1427.0 665.0 L1427.3 666.5 L1427.7 668.1 L1428.1 669.6 L1428.5 671.2 L1428.8 672.7 L1429.2 674.3 L1429.6 675.8 L1429.9 677.4 L1430.3 678.9 L1430.7 680.5 L1431.0 682.0 L1431.4 683.6 L1431.8 685.1 L1432.1 686.7 L1432.5 688.2 L1432.9 689.8 L1433.2 691.3 L1433.6 692.9 L1434.0 694.4 L1434.3 696.0 L1434.7 697.5 L1435.1 699.1 L1435.5 700.7 L1435.8 702.2 L1436.2 703.8 L1436.6 705.3 L1436.9 706.9 L1437.3 708.4 L1437.7 710.0 L1438.0 711.5 L1438.4 713.1 L1438.8 714.6 L1439.1 716.2 L1439.5 717.7 L1439.9 719.3 L1440.1 720.8 L1440.4 722.4 L1440.7 723.9 L1441.0 725.5 L1441.2 727.0 L1441.5 728.6 L1441.8 730.1 L1442.0 731.7 L1442.3 733.2 L1442.6 734.8 L1442.8 736.3 L1443.1 737.9 L1443.4 739.4 L1443.7 741.0 L1443.9 742.5 L1444.2 744.1 L1444.5 745.6 L1444.7 747.2 L1445.0 748.8 L1445.3 750.3 L1445.6 751.9 L1445.8 753.4 L1446.1 755.0" stroke="#0000ff" stroke-width="10"/>
<circle cx="1446.1" cy="755.0" r="5.8" fill="#0000ff" stroke="none"/>
<path d="M1116.6 19.5 L1116.6 21.1 L1116.6 22.6 L1116.6 24.2 L1116.6 25.7 L1116.6 27.3 L1116.6 28.8 L1118.4 31.1 L1122.9 35.0 L1135.3 38.9 L1144.6 42.8 L1153.9 46.7 L1161.7 50.5 L1169.5 54.4 L1175.7 58.3 L1191.2 66.0 L1203.7 73.8 L1214.5 81.6 L1223.9 89.3 L1231.6 97.1 L1253.4 116.5 L1272.0 135.9 L1293.8 174.7 L1309.3 213.5 L1320.5 252.2 L1329.5 291.0 L1339.8 329.8 L1360.0 407.4 L1380.2 485.0 L1400.4 562.6 L1419.1 640.1 L1437.7 717.7 L1455.4 795.3" stroke="#ff0000" stroke-width="3.2"/>
<path d="M1116.6 19.5 L1116.6 21.1 L1116.6 22.6 L1116.6 24.2 L1116.6 25.7 L1116.6 27.3 L1116.6 28.8 L1118.4 31.1 L1122.9 35.0 L1135.3 38.9 L1144.6 42.8 L1153.9 46.7 L1161.7 50.5 L1169.5 54.4 L1175.7 58.3 L1191.2 66.0" stroke="#ff0000" stroke-width="7"/>
<path d="M1437.7 717.7 L1455.4 795.3" stroke="#ff0000" stroke-width="6.5"/>
<g fill="#ff0000" stroke="none"><circle cx="1116.6" cy="19.5" r="6"/><circle cx="1116.6" cy="21.1" r="6"/><circle cx="1116.6" cy="22.6" r="6"/><circle cx="1116.6" cy="24.2" r="6"/><circle cx="1116.6" cy="25.7" r="6"/><circle cx="1116.6" cy="27.3" r="6"/><circle cx="1116.6" cy="28.8" r="6"/><circle cx="1118.4" cy="31.1" r="6"/><circle cx="1122.9" cy="35.0" r="6"/><circle cx="1135.3" cy="38.9" r="6"/><circle cx="1144.6" cy="42.8" r="6"/><circle cx="1153.9" cy="46.7" r="6"/><circle cx="1161.7" cy="50.5" r="6"/><circle cx="1169.5" cy="54.4" r="6"/><circle cx="1175.7" cy="58.3" r="6"/><circle cx="1191.2" cy="66.0" r="6"/><circle cx="1203.7" cy="73.8" r="6"/><circle cx="1214.5" cy="81.6" r="6"/><circle cx="1223.9" cy="89.3" r="6"/><circle cx="1231.6" cy="97.1" r="6"/><circle cx="1253.4" cy="116.5" r="6"/><circle cx="1272.0" cy="135.9" r="6"/><circle cx="1293.8" cy="174.7" r="6"/><circle cx="1309.3" cy="213.5" r="6"/><circle cx="1320.5" cy="252.2" r="6"/><circle cx="1329.5" cy="291.0" r="6"/><circle cx="1339.8" cy="329.8" r="6"/><circle cx="1360.0" cy="407.4" r="6"/><circle cx="1380.2" cy="485.0" r="6"/><circle cx="1400.4" cy="562.6" r="6"/><circle cx="1419.1" cy="640.1" r="6"/><circle cx="1437.7" cy="717.7" r="6"/><circle cx="1455.4" cy="795.3" r="6"/></g>
<path d="M1138.4 19.5 L1138.4 21.1 L1138.4 22.6 L1138.4 24.2 L1138.4 25.7 L1138.4 27.3 L1139.0 28.8 L1140.0 31.1 L1141.5 35.0 L1146.5 38.9 L1156.1 42.8 L1166.1 46.7 L1175.1 50.5 L1181.9 54.4 L1188.1 58.3 L1200.6 66.0 L1210.8 73.8 L1220.1 81.6 L1227.3 89.3 L1234.7 97.1 L1259.0 116.5 L1268.9 135.9 L1291.9 174.7 L1306.9 213.5 L1318.7 252.2 L1330.5 291.0 L1342.6 329.8 L1362.2 407.4 L1382.4 485.0 L1401.0 562.6 L1420.6 640.1 L1438.9 717.7 L1455.4 795.3" stroke="#008000" stroke-width="2.7"/>
<g fill="#008000" stroke="none"><circle cx="1138.4" cy="19.5" r="6"/><circle cx="1138.4" cy="21.1" r="6"/><circle cx="1138.4" cy="22.6" r="6"/><circle cx="1138.4" cy="24.2" r="6"/><circle cx="1138.4" cy="25.7" r="6"/><circle cx="1138.4" cy="27.3" r="6"/><circle cx="1139.0" cy="28.8" r="6"/><circle cx="1140.0" cy="31.1" r="6"/><circle cx="1141.5" cy="35.0" r="6"/><circle cx="1146.5" cy="38.9" r="6"/><circle cx="1156.1" cy="42.8" r="6"/><circle cx="1166.1" cy="46.7" r="6"/><circle cx="1175.1" cy="50.5" r="6"/><circle cx="1181.9" cy="54.4" r="6"/><circle cx="1188.1" cy="58.3" r="6"/><circle cx="1200.6" cy="66.0" r="6"/><circle cx="1210.8" cy="73.8" r="6"/><circle cx="1220.1" cy="81.6" r="6"/><circle cx="1227.3" cy="89.3" r="6"/><circle cx="1234.7" cy="97.1" r="6"/><circle cx="1259.0" cy="116.5" r="6"/><circle cx="1268.9" cy="135.9" r="6"/><circle cx="1291.9" cy="174.7" r="6"/><circle cx="1306.9" cy="213.5" r="6"/><circle cx="1318.7" cy="252.2" r="6"/><circle cx="1330.5" cy="291.0" r="6"/><circle cx="1342.6" cy="329.8" r="6"/><circle cx="1362.2" cy="407.4" r="6"/><circle cx="1382.4" cy="485.0" r="6"/><circle cx="1401.0" cy="562.6" r="6"/><circle cx="1420.6" cy="640.1" r="6"/><circle cx="1438.9" cy="717.7" r="6"/><circle cx="1455.4" cy="795.3" r="6"/></g>
<path d="M1112.0 19.9 L1112.0 20.7 L1112.0 21.6 L1112.0 22.5 L1112.0 23.4 L1112.0 24.5 L1112.0 25.7 L1112.0 26.9 L1112.0 28.3 L1112.0 30.0 L1112.0 31.8 L1112.0 33.9 L1113.5 36.3 L1119.4 39.1 L1130.0 42.3 L1142.1 46.2 L1153.9 50.8 L1169.5 56.3 L1183.2 62.8 L1197.5 70.5 L1210.8 79.9 L1225.1 91.1 L1239.4 104.6 L1255.3 120.9 L1272.4 140.4 L1290.4 163.9 L1302.2 192.1 L1311.2 225.9 L1322.7 266.3 L1336.4 314.5 L1352.9 371.6 L1370.6 439.3 L1389.8 518.8 L1411.9 611.7 L1437.7 719.5" stroke="#ff00ff" stroke-width="2.1"/>
<g fill="#ff00ff" stroke="none"><circle cx="1112.0" cy="19.9" r="6"/><circle cx="1112.0" cy="20.7" r="6"/><circle cx="1112.0" cy="21.6" r="6"/><circle cx="1112.0" cy="22.5" r="6"/><circle cx="1112.0" cy="23.4" r="6"/><circle cx="1112.0" cy="24.5" r="6"/><circle cx="1112.0" cy="25.7" r="6"/><circle cx="1112.0" cy="26.9" r="6"/><circle cx="1112.0" cy="28.3" r="6"/><circle cx="1112.0" cy="30.0" r="6"/><circle cx="1112.0" cy="31.8" r="6"/><circle cx="1112.0" cy="33.9" r="6"/><circle cx="1113.5" cy="36.3" r="6"/><circle cx="1119.4" cy="39.1" r="6"/><circle cx="1130.0" cy="42.3" r="6"/><circle cx="1142.1" cy="46.2" r="6"/><circle cx="1153.9" cy="50.8" r="6"/><circle cx="1169.5" cy="56.3" r="6"/><circle cx="1183.2" cy="62.8" r="6"/><circle cx="1197.5" cy="70.5" r="6"/><circle cx="1210.8" cy="79.9" r="6"/><circle cx="1225.1" cy="91.1" r="6"/><circle cx="1239.4" cy="104.6" r="6"/><circle cx="1255.3" cy="120.9" r="6"/><circle cx="1272.4" cy="140.4" r="6"/><circle cx="1290.4" cy="163.9" r="6"/><circle cx="1302.2" cy="192.1" r="6"/><circle cx="1311.2" cy="225.9" r="6"/><circle cx="1322.7" cy="266.3" r="6"/><circle cx="1336.4" cy="314.5" r="6"/><circle cx="1352.9" cy="371.6" r="6"/><circle cx="1370.6" cy="439.3" r="6"/><circle cx="1389.8" cy="518.8" r="6"/><circle cx="1411.9" cy="611.7" r="6"/><circle cx="1437.7" cy="719.5" r="6"/></g>
</g>
<rect x="1089.3" y="19.5" width="382.1" height="783.9" fill="none" stroke="#000" stroke-width="1.4"/>
<path d="M1089.3 19.50h-6 M1089.3 97.08h-6 M1089.3 174.66h-6 M1089.3 252.24h-6 M1089.3 329.82h-6 M1089.3 407.40h-6 M1089.3 484.98h-6 M1089.3 562.56h-6 M1089.3 640.14h-6 M1089.3 717.72h-6 M1089.3 795.30h-6 M1138.40 803.4v6 M1200.56 803.4v6 M1262.72 803.4v6 M1324.88 803.4v6 M1387.04 803.4v6 M1449.20 803.4v6" stroke="#000" stroke-width="1.4" fill="none"/>
<text transform="translate(1136.90 838.75) rotate(-45)" x="-21.63" y="6.45" font-size="18.48" textLength="42.99" lengthAdjust="spacingAndGlyphs">1022</text>
<text transform="translate(1199.06 838.75) rotate(-45)" x="-21.64" y="6.45" font-size="18.48" textLength="43.36" lengthAdjust="spacingAndGlyphs">1024</text>
<text transform="translate(1261.22 838.75) rotate(-45)" x="-21.65" y="6.45" font-size="18.48" textLength="43.53" lengthAdjust="spacingAndGlyphs">1026</text>
<text transform="translate(1323.38 838.75) rotate(-45)" x="-21.65" y="6.45" font-size="18.48" textLength="43.44" lengthAdjust="spacingAndGlyphs">1028</text>
<text transform="translate(1385.54 838.75) rotate(-45)" x="-21.64" y="6.45" font-size="18.48" textLength="43.38" lengthAdjust="spacingAndGlyphs">1030</text>
<text transform="translate(1447.70 838.75) rotate(-45)" x="-21.63" y="6.45" font-size="18.48" textLength="42.99" lengthAdjust="spacingAndGlyphs">1032</text>
<text x="181.02" y="860.20" font-size="25.02" font-weight="bold" textLength="165.20" lengthAdjust="spacingAndGlyphs">Temperature</text>
<text x="354.83" y="858.00" font-size="21.79" font-weight="bold" textLength="7.78" lengthAdjust="spacingAndGlyphs">(</text>
<text x="364.05" y="850.90" font-size="16.37" font-style="italic" textLength="9.37" lengthAdjust="spacingAndGlyphs">o</text>
<text x="374.71" y="859.70" font-size="24.09" font-style="italic" textLength="15.68" lengthAdjust="spacingAndGlyphs">C</text>
<text x="391.74" y="858.00" font-size="21.79" font-weight="bold" textLength="7.85" lengthAdjust="spacingAndGlyphs">)</text>
<text x="738.15" y="859.00" font-size="23.66" font-weight="bold" textLength="95.21" lengthAdjust="spacingAndGlyphs">Salinity</text>
<text x="1173.35" y="884.90" font-size="23.66" font-weight="bold" textLength="96.27" lengthAdjust="spacingAndGlyphs">Density</text><text x="1278.26" y="884.90" font-size="23.66" font-weight="bold" textLength="40.82" lengthAdjust="spacingAndGlyphs">(kg</text><text x="1327.10" y="884.90" font-size="23.66" font-weight="bold" textLength="58.34" lengthAdjust="spacingAndGlyphs">m-3)</text>
<text transform="rotate(-90)" x="-476.97" y="29.10" font-size="23.66" font-weight="bold" textLength="76.71" lengthAdjust="spacingAndGlyphs">Depth</text><text transform="rotate(-90)" x="-391.78" y="29.10" font-size="23.66" font-weight="bold" textLength="43.12" lengthAdjust="spacingAndGlyphs">(m)</text>
<text x="1545.50" y="36.50" font-size="23.66" font-weight="bold" textLength="150.63" lengthAdjust="spacingAndGlyphs">Comparison</text><text x="1704.34" y="36.50" font-size="23.66" font-weight="bold" textLength="68.93" lengthAdjust="spacingAndGlyphs">Date:</text><text x="1781.83" y="36.50" font-size="23.66" font-weight="bold" textLength="142.70" lengthAdjust="spacingAndGlyphs">2025-10-14</text>
<text x="1545.47" y="89.50" font-size="23.66" font-weight="bold" textLength="85.52" lengthAdjust="spacingAndGlyphs">Glider:</text><text x="1638.98" y="89.50" font-size="23.66" font-weight="bold" textLength="78.40" lengthAdjust="spacingAndGlyphs">ng665</text>
<text x="1545.72" y="116.10" font-size="23.66" font-weight="bold" textLength="105.07" lengthAdjust="spacingAndGlyphs">Profiles:</text><text x="1659.45" y="116.10" font-size="23.66" font-weight="bold" textLength="29.84" lengthAdjust="spacingAndGlyphs">11</text>
<text x="1545.67" y="142.50" font-size="23.66" font-weight="bold" textLength="67.29" lengthAdjust="spacingAndGlyphs">First:</text><text x="1621.57" y="142.50" font-size="23.66" font-weight="bold" textLength="142.70" lengthAdjust="spacingAndGlyphs">2025-10-14</text><text x="1772.98" y="142.50" font-size="23.66" font-weight="bold" textLength="111.83" lengthAdjust="spacingAndGlyphs">01:40:48</text>
<text x="1545.72" y="169.10" font-size="24.03" font-weight="bold" textLength="62.53" lengthAdjust="spacingAndGlyphs">Last:</text><text x="1616.89" y="169.10" font-size="24.03" font-weight="bold" textLength="142.70" lengthAdjust="spacingAndGlyphs">2025-10-14</text><text x="1769.13" y="169.10" font-size="24.03" font-weight="bold" textLength="110.69" lengthAdjust="spacingAndGlyphs">21:34:35</text>
<text x="1545.66" y="195.50" font-size="23.66" font-weight="bold" textLength="105.06" lengthAdjust="spacingAndGlyphs">Method:</text><text x="1658.84" y="195.50" font-size="23.66" font-weight="bold" textLength="226.42" lengthAdjust="spacingAndGlyphs">Nearest-Neighbor</text>
<text x="331.06" y="917.70" font-size="18.20" font-style="italic" textLength="55.60" lengthAdjust="spacingAndGlyphs">Ocean</text><text x="392.34" y="917.70" font-size="18.20" font-style="italic" textLength="41.13" lengthAdjust="spacingAndGlyphs">Heat</text><text x="438.80" y="917.70" font-size="18.20" font-style="italic" textLength="69.23" lengthAdjust="spacingAndGlyphs">Content</text><text x="514.11" y="917.70" font-size="18.20" font-style="italic" textLength="85.59" lengthAdjust="spacingAndGlyphs">(kJ/cm^2)</text><text x="605.69" y="917.70" font-size="18.20" font-style="italic" textLength="6.23" lengthAdjust="spacingAndGlyphs">-</text><text x="617.43" y="917.70" font-size="18.20" font-style="italic" textLength="57.36" lengthAdjust="spacingAndGlyphs">Glider:</text><text x="681.26" y="917.70" font-size="18.20" font-style="italic" textLength="88.17" lengthAdjust="spacingAndGlyphs">107.9531,</text><text x="780.28" y="917.70" font-size="18.20" font-style="italic" textLength="62.49" lengthAdjust="spacingAndGlyphs">RTOFS:</text><text x="849.07" y="917.70" font-size="18.20" font-style="italic" textLength="77.37" lengthAdjust="spacingAndGlyphs">93.4447,</text><text x="937.35" y="917.70" font-size="18.20" font-style="italic" textLength="49.70" lengthAdjust="spacingAndGlyphs">ESPC:</text><text x="993.38" y="917.70" font-size="18.20" font-style="italic" textLength="77.35" lengthAdjust="spacingAndGlyphs">88.0344,</text><text x="1081.45" y="917.70" font-size="18.20" font-style="italic" textLength="69.40" lengthAdjust="spacingAndGlyphs">CMEMS:</text><text x="1157.43" y="917.70" font-size="18.20" font-style="italic" textLength="88.17" lengthAdjust="spacingAndGlyphs">101.6158,</text>
<rect x="1692.2" y="636.9" width="164.7" height="143.8" rx="3.5" fill="#fff" stroke="#d0d0d0" stroke-width="1.4"/>
<path d="M1700.9 656.4H1748.8" stroke="#0000ff" stroke-width="2.2"/><circle cx="1724.4" cy="656.4" r="5.9" fill="#0000ff"/>
<text x="1764.29" y="664.70" font-size="24.03" textLength="70.39" lengthAdjust="spacingAndGlyphs">ng665</text>
<path d="M1700.9 690.1H1748.8" stroke="#ff0000" stroke-width="2.2"/><circle cx="1724.4" cy="690.1" r="5.9" fill="#ff0000"/>
<text x="1764.33" y="698.40" font-size="24.03" textLength="71.80" lengthAdjust="spacingAndGlyphs">RTOFS</text>
<path d="M1700.9 725.2H1748.8" stroke="#008000" stroke-width="2.2"/><circle cx="1724.4" cy="725.2" r="5.9" fill="#008000"/>
<text x="1764.37" y="733.50" font-size="24.03" textLength="57.09" lengthAdjust="spacingAndGlyphs">ESPC</text>
<path d="M1700.9 759.4H1748.8" stroke="#ff00ff" stroke-width="2.2"/><circle cx="1724.4" cy="759.4" r="5.9" fill="#ff00ff"/>
<text x="1764.03" y="767.70" font-size="24.03" textLength="82.91" lengthAdjust="spacingAndGlyphs">CMEMS</text>
<clipPath id="mc"><rect x="1584.4" y="305.3" width="381.9" height="211.1"/></clipPath>
<rect x="1584.4" y="305.3" width="381.9" height="211.1" fill="#97b6e1"/>
<g clip-path="url(#mc)">
<path d="M1633.5 326.2 L1639.2 319.8 L1647.7 314.2 L1658.2 310.6 L1666.7 308.9 L1675.9 309.2 L1683.0 307.8 L1692.1 309.9 L1699.2 313.5 L1704.8 316.3 L1714.7 318.4 L1721.8 321.9 L1727.4 327.6 L1734.5 332.5 L1746.5 336.8 L1749.3 341.7 L1758.5 343.1 L1767.0 348.1 L1762.7 350.9 L1753.6 353.0 L1743.0 352.3 L1732.4 353.0 L1722.5 353.7 L1727.4 347.4 L1730.3 344.5 L1723.2 343.1 L1716.1 340.3 L1711.2 333.2 L1707.7 329.7 L1696.4 327.6 L1688.6 324.1 L1678.0 321.2 L1672.4 319.1 L1665.3 316.3 L1658.2 317.0 L1651.2 322.7 L1644.1 325.5 L1637.1 328.3Z M1654.7 328.3 L1660.4 326.9 L1662.5 330.4 L1658.2 332.5 L1655.1 331.1Z M1584.4 331.8 L1592.7 330.2 L1606.6 330.2 L1612.0 335.0 L1609.8 341.4 L1603.4 348.9 L1601.3 356.4 L1599.1 366.0 L1595.9 376.7 L1594.8 389.5 L1590.6 397.0 L1585.2 402.4 L1584.4 403.5Z M1584.5 405.2 L1599.3 404.5 L1618.5 403.2 L1634.0 403.2 L1644.2 407.7 L1651.9 412.8 L1655.8 416.1 L1653.2 425.7 L1650.6 437.3 L1648.1 451.4 L1646.8 461.7 L1649.4 469.4 L1657.1 479.6 L1667.3 487.3 L1677.6 491.8 L1687.9 489.3 L1695.6 485.4 L1700.7 482.9 L1709.7 484.1 L1718.7 488.6 L1725.2 493.8 L1731.6 497.6 L1740.6 489.9 L1748.3 479.6 L1750.8 471.9 L1758.5 464.2 L1766.3 462.9 L1777.7 461.7 L1785.4 456.5 L1791.8 450.1 L1798.3 448.2 L1804.0 451.4 L1802.1 455.2 L1794.4 459.1 L1797.0 466.8 L1800.8 466.8 L1811.1 461.7 L1824.0 459.7 L1834.2 462.9 L1839.4 469.4 L1844.5 471.9 L1865.1 470.6 L1870.2 475.8 L1879.2 477.1 L1888.2 473.2 L1893.3 470.0 L1904.9 470.0 L1912.0 469.5 L1913.0 478.0 L1919.0 479.0 L1929.3 484.8 L1933.1 495.1 L1943.4 497.6 L1955.0 505.3 L1960.1 511.8 L1961.4 516.5 L1723.9 516.5 L1716.2 505.3 L1709.7 495.1 L1703.3 491.2 L1698.2 492.5 L1693.0 498.9 L1689.2 502.8 L1694.3 509.2 L1686.6 513.0 L1682.8 510.5 L1677.6 506.6 L1672.5 511.8 L1663.5 502.8 L1654.5 497.6 L1648.1 495.1 L1644.2 488.6 L1634.0 483.5 L1623.7 479.6 L1622.4 473.2 L1623.7 465.5 L1616.0 460.4 L1608.3 451.4 L1600.6 441.1 L1592.8 437.3 L1583.5 437.3Z M1921.5 469.5 L1929.9 469.0 L1929.3 477.1 L1922.5 477.1Z M1714.2 372.6 L1721.3 370.4 L1731.6 371.3 L1740.6 374.5 L1741.9 378.4 L1732.9 380.3 L1727.7 380.9 L1721.3 377.1 L1714.9 374.5Z M1762.4 372.0 L1770.0 370.0 L1775.1 368.1 L1782.8 368.7 L1789.3 369.4 L1786.7 364.2 L1777.7 357.2 L1775.1 354.6 L1782.8 350.7 L1795.7 352.7 L1807.3 352.7 L1818.8 356.5 L1821.4 359.7 L1826.5 360.4 L1830.4 362.9 L1836.8 366.8 L1838.7 371.3 L1834.2 375.8 L1826.5 373.2 L1812.4 373.9 L1804.7 377.7 L1799.5 383.5 L1797.6 379.0 L1791.8 373.9 L1782.8 373.2 L1775.1 374.5 L1770.0 377.1 L1765.0 375.8Z M1852.2 371.3 L1868.9 370.6 L1871.5 373.2 L1868.9 377.7 L1853.5 377.7 L1852.2 374.5Z M1814.0 461.0 L1813.5 455.0 L1816.0 451.5 L1820.0 452.0 L1821.0 457.0 L1819.0 461.5Z" fill="#d2b48c" stroke="#000" stroke-width="2.4" stroke-linejoin="round"/>
<path d="M1614.7 448.8 L1622.4 451.4 L1635.2 464.2 L1625.0 462.9 L1621.1 456.5Z" fill="#b4b4b4" stroke="none"/>
<path d="M1798.3 471.9 L1791.8 480.9 L1797.0 489.9 L1804.7 487.3 L1803.4 477.1 L1799.5 470.6Z" fill="#97b6e1" stroke="#000" stroke-width="1.8"/>
<path d="M1758.5 465.5 L1758.5 483.5 L1770.1 492.5 L1770.1 516.0 M1853.5 516.0 L1867.6 505.3 L1883.0 506.6 L1892.0 502.8 L1904.9 498.9 L1916.4 495.1 L1926.7 492.5 M1912.6 480.9 L1916.4 489.9 L1920.3 483.5 M1612.1 434.7 L1622.4 433.4 L1631.4 421.8 L1644.2 419.3 L1654.5 416.1 M1616.0 447.0 L1626.0 455.0 L1635.2 464.2 L1648.0 469.0" fill="none" stroke="#93b3e0" stroke-width="1.9" stroke-linejoin="round"/>
<path d="M1797.0 353.9 L1795.7 363.0 L1795.7 371.9 L1799.5 382.2 M1585.1 427.0 L1599.3 430.8 L1612.1 432.1 L1622.4 428.3 L1634.0 419.3 L1644.2 419.3 L1655.8 415.4 M1584.5 415.0 L1592.0 410.0 L1598.0 407.0 M1625.0 464.2 L1635.2 465.5 L1648.1 469.4 M1659.6 483.5 L1657.1 493.8 M1727.7 500.2 L1721.3 510.5 M1792.5 460.4 L1782.8 471.9 L1777.1 487.3 L1785.4 495.1 L1789.3 505.3 L1790.6 513.0 L1808.5 514.0 M1942.1 498.9 L1934.4 506.6 L1934.4 514.3" fill="none" stroke="#000" stroke-width="2" stroke-dasharray="4 2.6"/>
<g fill="#000"><ellipse cx="1904.0" cy="375.5" rx="2.2" ry="1.8"/><ellipse cx="1909.5" cy="384.5" rx="1.5" ry="1.5"/><ellipse cx="1912.5" cy="390.0" rx="1.5" ry="1.5"/><ellipse cx="1915.5" cy="394.5" rx="1.2" ry="1.2"/><ellipse cx="1923.0" cy="401.0" rx="2.8" ry="2.5"/><ellipse cx="1924.5" cy="409.0" rx="2.0" ry="3.0"/><ellipse cx="1778.5" cy="365.5" rx="3.0" ry="1.3"/><ellipse cx="1826.0" cy="361.0" rx="3.0" ry="1.8"/><ellipse cx="1677.6" cy="360.1" rx="3.2" ry="1.8"/><ellipse cx="1695.6" cy="355.2" rx="2.8" ry="1.5"/><ellipse cx="1618.0" cy="397.5" rx="4.5" ry="1.6"/><ellipse cx="1608.7" cy="401.9" rx="2.0" ry="1.5"/><ellipse cx="1609.0" cy="344.5" rx="1.6" ry="2.5"/><ellipse cx="1770.0" cy="310.9" rx="2.0" ry="1.2"/><ellipse cx="1773.9" cy="316.7" rx="1.6" ry="1.2"/><ellipse cx="1781.6" cy="319.9" rx="3.0" ry="1.5"/><ellipse cx="1776.4" cy="337.3" rx="3.5" ry="1.8"/><ellipse cx="1803.4" cy="333.4" rx="1.2" ry="2.0"/><ellipse cx="1903.6" cy="374.5" rx="1.8" ry="1.8"/><ellipse cx="1919.0" cy="382.2" rx="1.8" ry="2.0"/><ellipse cx="1919.0" cy="388.6" rx="2.2" ry="2.0"/><ellipse cx="1913.9" cy="393.8" rx="1.5" ry="1.5"/><ellipse cx="1922.9" cy="400.2" rx="2.5" ry="2.5"/><ellipse cx="1924.1" cy="408.5" rx="2.0" ry="2.5"/><ellipse cx="1928.6" cy="419.3" rx="2.2" ry="3.0"/><ellipse cx="1929.3" cy="428.9" rx="2.0" ry="2.5"/><ellipse cx="1926.1" cy="438.5" rx="1.5" ry="2.5"/><ellipse cx="1921.6" cy="450.1" rx="1.5" ry="3.0"/><ellipse cx="1933.1" cy="462.9" rx="2.5" ry="1.5"/><ellipse cx="1946.6" cy="438.5" rx="2.0" ry="2.0"/><ellipse cx="1830.4" cy="450.7" rx="2.5" ry="1.8"/><ellipse cx="1838.7" cy="451.4" rx="2.0" ry="1.8"/><ellipse cx="1858.6" cy="455.2" rx="2.5" ry="2.0"/><ellipse cx="1865.7" cy="455.9" rx="1.5" ry="1.5"/><ellipse cx="1884.3" cy="455.2" rx="1.8" ry="1.5"/><ellipse cx="1875.3" cy="466.8" rx="2.0" ry="1.5"/><ellipse cx="1892.0" cy="466.2" rx="3.0" ry="2.5"/><ellipse cx="1903.0" cy="461.4" rx="1.5" ry="1.5"/><ellipse cx="1883.0" cy="371.9" rx="2.5" ry="1.5"/><ellipse cx="1888.2" cy="368.1" rx="1.5" ry="1.5"/><ellipse cx="1883.0" cy="380.9" rx="2.5" ry="1.5"/><ellipse cx="1859.5" cy="372.0" rx="1.2" ry="1.2"/></g>
<path d="M1881.0 371.5 L1889.0 368.5" fill="none" stroke="#000" stroke-width="1.5"/>
<path d="M1660.0 310.5 L1676.0 309.0 L1683.0 308.0 L1692.0 310.0 L1699.0 313.5 L1705.0 316.3 L1715.0 318.4 L1722.0 322.0 L1727.4 327.6 L1734.5 332.5 L1746.5 336.8" fill="none" stroke="#000" stroke-width="4.2" stroke-linejoin="round" stroke-linecap="round"/>
<path d="M1634.0 326.5 L1640.0 320.0 L1648.0 314.5" fill="none" stroke="#000" stroke-width="3.5" stroke-linejoin="round" stroke-linecap="round"/>
<path d="M1696.0 327.6 L1708.0 330.0 L1712.0 335.0 L1718.0 341.0 L1730.0 345.0" fill="none" stroke="#000" stroke-width="3.2" stroke-linejoin="round" stroke-linecap="round"/>
<path d="M1612.0 335.0 L1609.8 341.4 L1603.4 348.9 L1601.3 356.4 L1599.1 366.0 L1595.9 376.7 L1594.8 389.5 L1590.6 397.0" fill="none" stroke="#000" stroke-width="3.4" stroke-linejoin="round" stroke-linecap="round"/>
<path d="M1651.9 412.8 L1655.8 416.1 L1653.2 425.7 L1650.6 437.3 L1648.1 451.4" fill="none" stroke="#000" stroke-width="3.2" stroke-linejoin="round" stroke-linecap="round"/>
<path d="M1623.7 479.6 L1634.0 483.5 L1644.2 488.6 L1648.1 495.1 L1654.5 497.6 L1663.5 502.8 L1672.5 511.8" fill="none" stroke="#000" stroke-width="3.0" stroke-linejoin="round" stroke-linecap="round"/>
<path d="M1667.3 487.3 L1677.6 491.8 L1687.9 489.3" fill="none" stroke="#000" stroke-width="3.0" stroke-linejoin="round" stroke-linecap="round"/>
<path d="M1921.6 477.0 L1929.3 484.8 L1933.1 495.1" fill="none" stroke="#000" stroke-width="3.0" stroke-linejoin="round" stroke-linecap="round"/>
<path d="M1893.3 470.0 L1904.9 470.0 L1912.0 469.5" fill="none" stroke="#000" stroke-width="3.2" stroke-linejoin="round" stroke-linecap="round"/>
<path d="M1747.0 323.1 L1744.4 314.1 L1750.8 309.0 L1756.0 307.7 L1758.5 314.1 M1764.0 317.0 L1772.7 323.1 M1770.0 310.3 L1773.9 311.6 M1770.0 315.4 L1775.1 318.0 M1778.3 319.3 L1784.8 321.2 M1787.3 330.2 L1793.1 325.7 L1799.5 327.6 L1800.2 333.4 L1797.0 336.0 M1803.4 332.1 L1804.7 335.3 M1772.6 338.5 L1777.7 337.3 L1781.6 331.5" fill="none" stroke="#000" stroke-width="2.4" stroke-linecap="round" stroke-linejoin="round"/>
<path d="M1634 327 L1640 325" stroke="#000" stroke-width="3"/>
<circle cx="1855.4" cy="382.9" r="4.3" fill="#ff0000" stroke="#000" stroke-width="1.3"/>
</g>
<rect x="1584.4" y="305.3" width="381.9" height="211.1" fill="none" stroke="#000" stroke-width="1.4"/>
<path d="M1633.3 305.3v-9M1633.3 516.4v9M1694.9 305.3v-9M1694.9 516.4v9M1756.5 305.3v-9M1756.5 516.4v9M1818.1 305.3v-9M1818.1 516.4v9M1879.7 305.3v-9M1879.7 516.4v9M1941.3 305.3v-9M1941.3 516.4v9M1584.4 479.0h-9M1966.3 479.0h9M1584.4 416.4h-9M1966.3 416.4h9M1584.4 352.4h-9M1966.3 352.4h9" stroke="#000" stroke-width="3"/>
<path d="M1584.0 305.3v-3.6M1584.0 516.4v3.6M1596.3 305.3v-3.6M1596.3 516.4v3.6M1608.7 305.3v-3.6M1608.7 516.4v3.6M1621.0 305.3v-3.6M1621.0 516.4v3.6M1645.6 305.3v-3.6M1645.6 516.4v3.6M1657.9 305.3v-3.6M1657.9 516.4v3.6M1670.3 305.3v-3.6M1670.3 516.4v3.6M1682.6 305.3v-3.6M1682.6 516.4v3.6M1707.2 305.3v-3.6M1707.2 516.4v3.6M1719.5 305.3v-3.6M1719.5 516.4v3.6M1731.9 305.3v-3.6M1731.9 516.4v3.6M1744.2 305.3v-3.6M1744.2 516.4v3.6M1768.8 305.3v-3.6M1768.8 516.4v3.6M1781.1 305.3v-3.6M1781.1 516.4v3.6M1793.5 305.3v-3.6M1793.5 516.4v3.6M1805.8 305.3v-3.6M1805.8 516.4v3.6M1830.4 305.3v-3.6M1830.4 516.4v3.6M1842.7 305.3v-3.6M1842.7 516.4v3.6M1855.1 305.3v-3.6M1855.1 516.4v3.6M1867.4 305.3v-3.6M1867.4 516.4v3.6M1892.0 305.3v-3.6M1892.0 516.4v3.6M1904.3 305.3v-3.6M1904.3 516.4v3.6M1916.7 305.3v-3.6M1916.7 516.4v3.6M1929.0 305.3v-3.6M1929.0 516.4v3.6M1953.6 305.3v-3.6M1953.6 516.4v3.6M1965.9 305.3v-3.6M1965.9 516.4v3.6M1584.4 503.7h-3.6M1966.3 503.7h3.6M1584.4 491.4h-3.6M1966.3 491.4h3.6M1584.4 466.6h-3.6M1966.3 466.6h3.6M1584.4 454.1h-3.6M1966.3 454.1h3.6M1584.4 441.6h-3.6M1966.3 441.6h3.6M1584.4 429.1h-3.6M1966.3 429.1h3.6M1584.4 403.8h-3.6M1966.3 403.8h3.6M1584.4 391.0h-3.6M1966.3 391.0h3.6M1584.4 378.2h-3.6M1966.3 378.2h3.6M1584.4 365.4h-3.6M1966.3 365.4h3.6M1584.4 339.4h-3.6M1966.3 339.4h3.6M1584.4 326.2h-3.6M1966.3 326.2h3.6M1584.4 313.0h-3.6M1966.3 313.0h3.6" stroke="#000" stroke-width="1.7"/>
<text x="1512.50" y="361.90" font-size="24.03" textLength="56.37" lengthAdjust="spacingAndGlyphs">20°N</text>
<text x="1512.72" y="425.94" font-size="24.03" textLength="56.14" lengthAdjust="spacingAndGlyphs">15°N</text>
<text x="1512.72" y="488.49" font-size="24.03" textLength="56.14" lengthAdjust="spacingAndGlyphs">10°N</text>
<text transform="translate(1631.50 560.80) rotate(-45)" x="-30.70" y="8.20" font-size="24.03" textLength="61.19" lengthAdjust="spacingAndGlyphs">85°W</text>
<text transform="translate(1693.10 560.80) rotate(-45)" x="-30.70" y="8.20" font-size="24.03" textLength="61.19" lengthAdjust="spacingAndGlyphs">80°W</text>
<text transform="translate(1754.70 560.80) rotate(-45)" x="-30.54" y="8.20" font-size="24.03" textLength="61.03" lengthAdjust="spacingAndGlyphs">75°W</text>
<text transform="translate(1816.30 560.80) rotate(-45)" x="-30.54" y="8.20" font-size="24.03" textLength="61.03" lengthAdjust="spacingAndGlyphs">70°W</text>
<text transform="translate(1877.90 560.80) rotate(-45)" x="-30.83" y="8.20" font-size="24.03" textLength="61.32" lengthAdjust="spacingAndGlyphs">65°W</text>
<text transform="translate(1939.50 560.80) rotate(-45)" x="-30.83" y="8.20" font-size="24.03" textLength="61.32" lengthAdjust="spacingAndGlyphs">60°W</text>
</svg></body></html>
